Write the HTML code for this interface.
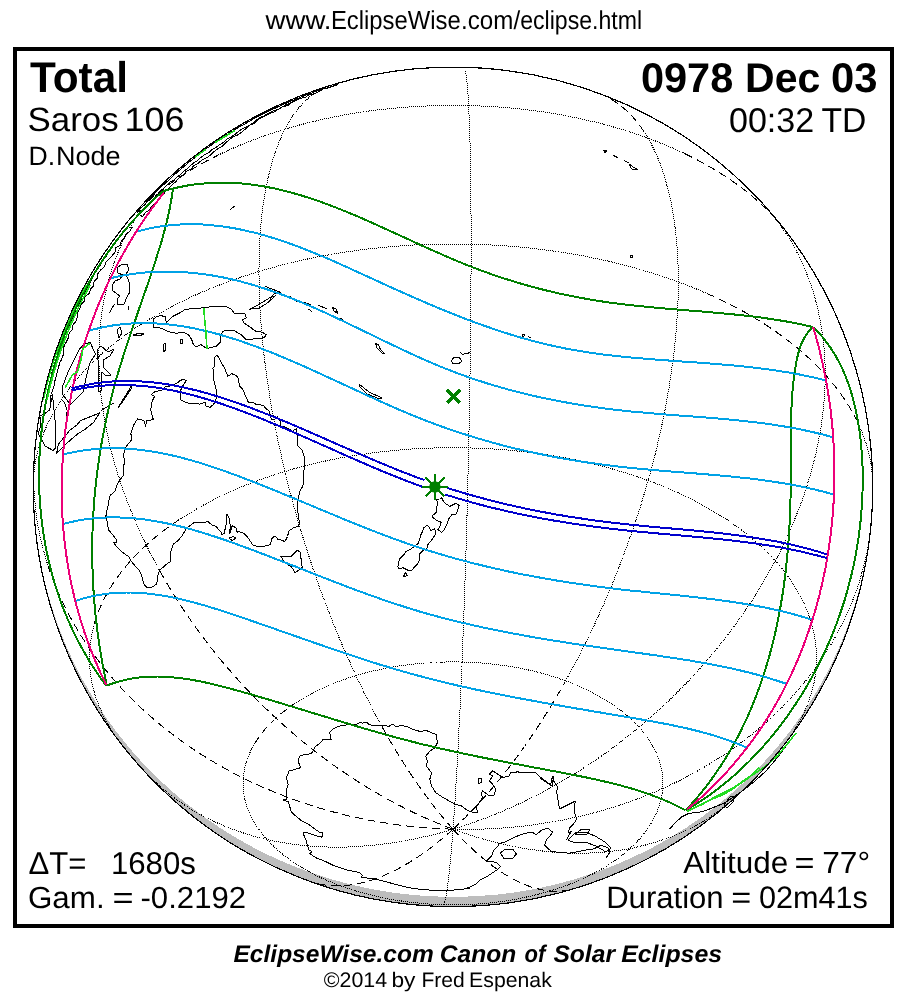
<!DOCTYPE html><html><head><meta charset="utf-8"><title>0978 Dec 03 Total Solar Eclipse</title><style>html,body{margin:0;padding:0;background:#fff;width:908px;height:1004px;overflow:hidden}svg{display:block}text{text-rendering:geometricPrecision}</style></head><body><svg width="908" height="1004" viewBox="0 0 908 1004" shape-rendering="crispEdges"><rect x="15" y="49" width="877" height="877" fill="none" stroke="#000" stroke-width="4"/>
<path d="M33.27,486.86 A419.72,419.72 0 0 0 872.71,486.86 A419.72,410.00 0 0 1 33.27,486.86 Z" fill="#bdbdbd"/>
<g fill="none" stroke="#000" stroke-width="1">
<path d="M444.0,904.6 L443.1,904.6 L442.1,904.6 L441.2,904.6 L440.3,904.5 L439.4,904.5 L438.5,904.5 L437.6,904.4 L436.7,904.4 L435.7,904.3 L434.8,904.3 L433.9,904.2 L433.0,904.2 L432.1,904.1 L431.2,904.1 L430.3,904.0 L429.4,904.0 L428.5,903.9 L427.6,903.9 L426.6,903.8 L425.7,903.7 L424.8,903.6 L423.9,903.6 L423.0,903.5 L422.1,903.4 L421.2,903.3 L420.3,903.3 L419.4,903.2 L418.5,903.1 L417.6,903.0 L416.7,902.9 L415.8,902.8 L414.9,902.7 L414.0,902.6 L413.1,902.5 L412.2,902.4 L411.3,902.3 L410.4,902.2 L409.5,902.1 L408.6,902.0 L407.7,901.9 L406.8,901.8 L405.9,901.7 L405.0,901.5 L404.1,901.4 L403.2,901.3 L402.4,901.2 L401.5,901.0 L400.6,900.9 L399.7,900.8 L398.8,900.6 L397.9,900.5 L397.0,900.4 L396.2,900.2 L395.3,900.1 L394.4,899.9 L393.5,899.8 L392.6,899.6 L391.8,899.5 L390.9,899.3 L390.0,899.2 L389.1,899.0 L388.3,898.8 L387.4,898.7 L386.5,898.5 L385.7,898.3 L384.8,898.2 L383.9,898.0 L383.1,897.8 L382.2,897.6 L381.3,897.5 L380.5,897.3 L379.6,897.1 L378.8,896.9 L377.9,896.7 L377.1,896.5 L376.2,896.3 L375.4,896.1 L374.5,895.9 L373.7,895.7 L372.8,895.5 L372.0,895.3 L371.1,895.1 L370.3,894.9 L369.4,894.7 L368.6,894.5 L367.8,894.3 L366.9,894.1 L366.1,893.8 L365.3,893.6 L364.4,893.4 L363.6,893.2 L362.8,893.0 L361.9,892.7 L361.1,892.5 L360.3,892.3 L359.5,892.0 L358.7,891.8 L357.8,891.5 L357.0,891.3 L356.2,891.1 L355.4,890.8 L354.6,890.6 L353.8,890.3 L353.0,890.1 L352.2,889.8 L351.4,889.6 L350.6,889.3 L349.8,889.0 L349.0,888.8 L348.2,888.5 L347.4,888.3 L346.6,888.0 L345.8,887.7 L345.0,887.4 L344.2,887.2 L343.5,886.9 L342.7,886.6 L341.9,886.3 L341.1,886.1" stroke-dasharray="1 1"/>
<path d="M341.1,886.1 L340.3,885.8" stroke-dasharray="8 5"/>
<path d="M340.3,885.8 L339.6,885.5 L338.8,885.2 L338.0,884.9 L337.3,884.6 L336.5,884.3 L335.8,884.0 L335.0,883.7 L334.2,883.4 L333.5,883.1 L332.7,882.8 L332.0,882.5 L331.2,882.2 L330.5,881.9 L329.7,881.6 L329.0,881.3 L328.3,881.0 L327.5,880.7 L326.8,880.3 L326.1,880.0 L325.3,879.7 L324.6,879.4 L323.9,879.1 L323.2,878.7 L322.5,878.4 L321.7,878.1 L321.0,877.7 L320.3,877.4 L319.6,877.1 L318.9,876.7 L318.2,876.4 L317.5,876.0 L316.8,875.7 L316.1,875.4 L315.4,875.0 L314.7,874.7 L314.0,874.3 L313.4,874.0 L312.7,873.6 L312.0,873.3 L311.3,872.9 L310.6,872.5 L310.0,872.2 L309.3,871.8 L308.6,871.5 L308.0,871.1 L307.3,870.7 L306.7,870.4 L306.0,870.0 L305.3,869.6 L304.7,869.2 L304.0,868.9 L303.4,868.5 L302.8,868.1 L302.1,867.7 L301.5,867.3 L300.9,867.0 L300.2,866.6 L299.6,866.2 L299.0,865.8 L298.4,865.4 L297.7,865.0 L297.1,864.6 L296.5,864.2 L295.9,863.8 L295.3,863.4 L294.7,863.0 L294.1,862.6 L293.5,862.2 L292.9,861.8 L292.3,861.4 L291.7,861.0 L291.1,860.6 L290.6,860.2 L290.0,859.8 L289.4,859.4 L288.8,859.0 L288.3,858.6 L287.7,858.1 L287.1,857.7 L286.6,857.3 L286.0,856.9 L285.5,856.5 L284.9,856.0 L284.4,855.6 L283.8,855.2 L283.3,854.8 L282.8,854.3 L282.2,853.9 L281.7,853.5 L281.2,853.0 L280.6,852.6 L280.1,852.2 L279.6,851.7 L279.1,851.3 L278.6,850.8 L278.1,850.4 L277.6,850.0 L277.1,849.5 L276.6,849.1 L276.1,848.6 L275.6,848.2 L275.1,847.7 L274.6,847.3 L274.1,846.8 L273.6,846.4 L273.2,845.9 L272.7,845.5 L272.2,845.0 L271.8,844.6 L271.3,844.1 L270.9,843.6 L270.4,843.2 L270.0,842.7 L269.5,842.3 L269.1,841.8 L268.6,841.3 L268.2,840.9 L267.8,840.4 L267.3,839.9 L266.9,839.5 L266.5,839.0 L266.1,838.5 L265.7,838.0 L265.2,837.6 L264.8,837.1 L264.4,836.6 L264.0,836.1 L263.6,835.7 L263.2,835.2 L262.9,834.7 L262.5,834.2 L262.1,833.7 L261.7,833.3 L261.3,832.8 L261.0,832.3 L260.6,831.8 L260.2,831.3 L259.9,830.8 L259.5,830.3 L259.2,829.9 L258.8,829.4 L258.5,828.9 L258.1,828.4 L257.8,827.9 L257.4,827.4 L257.1,826.9 L256.8,826.4 L256.5,825.9 L256.1,825.4 L255.8,824.9 L255.5,824.4 L255.2,823.9 L254.9,823.4 L254.6,822.9 L254.3,822.4 L254.0,821.9 L253.7,821.4 L253.4,820.9 L253.2,820.4 L252.9,819.9 L252.6,819.4 L252.3,818.9 L252.1,818.4 L251.8,817.9 L251.6,817.4 L251.3,816.9 L251.0,816.3 L250.8,815.8 L250.6,815.3 L250.3,814.8 L250.1,814.3 L249.8,813.8 L249.6,813.3 L249.4,812.8 L249.2,812.2 L249.0,811.7 L248.7,811.2 L248.5,810.7 L248.3,810.2 L248.1,809.7 L247.9,809.2 L247.7,808.6 L247.6,808.1 L247.4,807.6 L247.2,807.1 L247.0,806.6 L246.8,806.0 L246.7,805.5 L246.5,805.0 L246.3,804.5 L246.2,804.0 L246.0,803.4 L245.9,802.9 L245.7,802.4 L245.6,801.9 L245.5,801.3 L245.3,800.8 L245.2,800.3 L245.1,799.8 L244.9,799.2 L244.8,798.7 L244.7,798.2 L244.6,797.7 L244.5,797.1 L244.4,796.6 L244.3,796.1 L244.2,795.6 L244.1,795.0 L244.0,794.5 L243.9,794.0 L243.9,793.4 L243.8,792.9 L243.7,792.4 L243.7,791.9 L243.6,791.3 L243.5,790.8 L243.5,790.3 L243.4,789.7 L243.4,789.2 L243.3,788.7 L243.3,788.2 L243.3,787.6 L243.2,787.1 L243.2,786.6 L243.2,786.0 L243.2,785.5 L243.1,785.0 L243.1,784.4 L243.1,783.9 L243.1,783.4 L243.1,782.9 L243.1,782.3 L243.1,781.8 L243.2,781.3 L243.2,780.7 L243.2,780.2 L243.2,779.7 L243.3,779.1 L243.3,778.6" stroke-dasharray="1 1"/>
<path d="M243.3,778.6 L243.3,778.1" stroke-dasharray="8 5"/>
<path d="M243.3,778.1 L243.4,777.6 L243.4,777.0 L243.5,776.5 L243.5,776.0 L243.6,775.4 L243.6,774.9 L243.7,774.4 L243.8,773.9 L243.8,773.3 L243.9,772.8 L244.0,772.3 L244.1,771.7 L244.2,771.2 L244.3,770.7 L244.4,770.2 L244.5,769.6 L244.6,769.1 L244.7,768.6 L244.8,768.1 L244.9,767.5 L245.0,767.0 L245.2,766.5 L245.3,766.0 L245.4,765.4 L245.6,764.9 L245.7,764.4 L245.8,763.9 L246.0,763.3 L246.1,762.8 L246.3,762.3 L246.5,761.8 L246.6,761.3 L246.8,760.7 L247.0,760.2 L247.1,759.7 L247.3,759.2 L247.5,758.7 L247.7,758.1 L247.9,757.6 L248.1,757.1 L248.3,756.6 L248.5,756.1 L248.7,755.6 L248.9,755.0 L249.1,754.5 L249.3,754.0 L249.6,753.5 L249.8,753.0 L250.0,752.5 L250.2,752.0 L250.5,751.4 L250.7,750.9 L251.0,750.4 L251.2,749.9 L251.5,749.4 L251.7,748.9 L252.0,748.4 L252.3,747.9 L252.5,747.4 L252.8,746.9 L253.1,746.4 L253.4,745.9 L253.6,745.4 L253.9,744.8 L254.2,744.3 L254.5,743.8 L254.8,743.3" stroke-dasharray="1 1"/>
<path d="M254.8,743.3 L255.1,742.8 L255.4,742.3 L255.7,741.8 L256.1,741.3 L256.4,740.9 L256.7,740.4 L257.0,739.9 L257.3,739.4 L257.7,738.9 L258.0,738.4 L258.4,737.9 L258.7,737.4 L259.1,736.9 L259.4,736.4 L259.8,735.9 L260.1,735.4 L260.5,735.0 L260.8,734.5 L261.2,734.0 L261.6,733.5 L262.0,733.0 L262.3,732.5 L262.7,732.1 L263.1,731.6 L263.5,731.1 L263.9,730.6 L264.3,730.1 L264.7,729.7 L265.1,729.2 L265.5,728.7 L265.9,728.2 L266.4,727.8 L266.8,727.3 L267.2,726.8 L267.6,726.4 L268.1,725.9 L268.5,725.4 L268.9,725.0 L269.4,724.5 L269.8,724.0 L270.3,723.6 L270.7,723.1 L271.2,722.7 L271.6,722.2 L272.1,721.7 L272.6,721.3 L273.0,720.8 L273.5,720.4 L274.0,719.9 L274.5,719.5 L274.9,719.0 L275.4,718.6 L275.9,718.1 L276.4,717.7 L276.9,717.2 L277.4,716.8 L277.9,716.3 L278.4,715.9 L278.9,715.5 L279.4,715.0 L280.0,714.6 L280.5,714.2 L281.0,713.7 L281.5,713.3 L282.1,712.9 L282.6,712.4 L283.1,712.0 L283.7,711.6 L284.2,711.1 L284.8,710.7 L285.3,710.3 L285.9,709.9 L286.4,709.4 L287.0,709.0 L287.5,708.6 L288.1,708.2 L288.7,707.8 L289.2,707.4 L289.8,706.9 L290.4,706.5 L291.0,706.1 L291.6,705.7 L292.1,705.3 L292.7,704.9" stroke-dasharray="8 5"/>
<path d="M292.7,704.9 L293.3,704.5 L293.9,704.1 L294.5,703.7 L295.1,703.3 L295.7,702.9 L296.3,702.5 L296.9,702.1 L297.6,701.7 L298.2,701.3 L298.8,700.9 L299.4,700.5 L300.0,700.2 L300.7,699.8 L301.3,699.4 L301.9,699.0 L302.6,698.6 L303.2,698.2 L303.9,697.9 L304.5,697.5 L305.1,697.1 L305.8,696.7 L306.5,696.4 L307.1,696.0 L307.8,695.6 L308.4,695.3 L309.1,694.9 L309.8,694.5 L310.4,694.2 L311.1,693.8 L311.8,693.5 L312.5,693.1 L313.1,692.8 L313.8,692.4 L314.5,692.1 L315.2,691.7 L315.9,691.4 L316.6,691.0 L317.3,690.7 L318.0,690.3 L318.7,690.0 L319.4,689.7 L320.1,689.3 L320.8,689.0 L321.5,688.6 L322.2,688.3 L323.0,688.0 L323.7,687.7 L324.4,687.3 L325.1,687.0 L325.9,686.7 L326.6,686.4 L327.3,686.1 L328.1,685.7 L328.8,685.4 L329.5,685.1 L330.3,684.8 L331.0,684.5 L331.8,684.2 L332.5,683.9 L333.3,683.6 L334.0,683.3 L334.8,683.0 L335.5,682.7 L336.3,682.4 L337.0,682.1 L337.8,681.8 L338.6,681.5 L339.3,681.2 L340.1,680.9 L340.9,680.6 L341.7,680.4 L342.4,680.1 L343.2,679.8 L344.0,679.5 L344.8,679.3 L345.6,679.0 L346.4,678.7 L347.1,678.4 L347.9,678.2 L348.7,677.9 L349.5,677.7 L350.3,677.4 L351.1,677.1 L351.9,676.9 L352.7,676.6 L353.5,676.4 L354.3,676.1 L355.2,675.9 L356.0,675.6 L356.8,675.4 L357.6,675.1 L358.4,674.9 L359.2,674.7 L360.0,674.4 L360.9,674.2 L361.7,674.0 L362.5,673.7 L363.3,673.5 L364.2,673.3 L365.0,673.1 L365.8,672.8 L366.7,672.6 L367.5,672.4 L368.3,672.2 L369.2,672.0 L370.0,671.8 L370.9,671.6 L371.7,671.3 L372.6,671.1 L373.4,670.9 L374.2,670.7 L375.1,670.5 L375.9,670.3 L376.8,670.2 L377.7,670.0 L378.5,669.8 L379.4,669.6 L380.2,669.4 L381.1,669.2 L381.9,669.0 L382.8,668.9 L383.7,668.7 L384.5,668.5 L385.4,668.3 L386.3,668.2 L387.1,668.0 L388.0,667.8 L388.9,667.7 L389.8,667.5 L390.6,667.4 L391.5,667.2 L392.4,667.0 L393.3,666.9 L394.1,666.7 L395.0,666.6 L395.9,666.4 L396.8,666.3 L397.7,666.2 L398.5,666.0 L399.4,665.9 L400.3,665.8 L401.2,665.6 L402.1,665.5 L403.0,665.4 L403.9,665.2 L404.8,665.1 L405.6,665.0 L406.5,664.9 L407.4,664.8 L408.3,664.6 L409.2,664.5 L410.1,664.4 L411.0,664.3 L411.9,664.2 L412.8,664.1 L413.7,664.0 L414.6,663.9 L415.5,663.8 L416.4,663.7 L417.3,663.6 L418.2,663.5 L419.1,663.5 L420.0,663.4 L420.9,663.3 L421.8,663.2 L422.7,663.1 L423.6,663.1 L424.6,663.0 L425.5,662.9 L426.4,662.8 L427.3,662.8 L428.2,662.7 L429.1,662.7 L430.0,662.6 L430.9,662.5 L431.8,662.5 L432.7,662.4 L433.7,662.4 L434.6,662.3 L435.5,662.3 L436.4,662.2 L437.3,662.2 L438.2,662.2 L439.1,662.1 L440.0,662.1 L441.0,662.1 L441.9,662.0 L442.8,662.0 L443.7,662.0 L444.6,662.0 L445.5,661.9 L446.4,661.9 L447.4,661.9 L448.3,661.9 L449.2,661.9 L450.1,661.9 L451.0,661.9 L451.9,661.9 L452.9,661.9 L453.8,661.9 L454.7,661.9 L455.6,661.9 L456.5,661.9 L457.4,661.9 L458.3,661.9 L459.3,661.9 L460.2,661.9 L461.1,662.0 L462.0,662.0 L462.9,662.0 L463.8,662.0 L464.8,662.1 L465.7,662.1 L466.6,662.1 L467.5,662.2 L468.4,662.2 L469.3,662.2 L470.2,662.3 L471.1,662.3 L472.1,662.4 L473.0,662.4 L473.9,662.5 L474.8,662.5 L475.7,662.6 L476.6,662.6 L477.5,662.7 L478.4,662.8 L479.3,662.8 L480.2,662.9 L481.2,663.0 L482.1,663.0 L483.0,663.1 L483.9,663.2 L484.8,663.3 L485.7,663.4 L486.6,663.4 L487.5,663.5 L488.4,663.6 L489.3,663.7 L490.2,663.8 L491.1,663.9 L492.0,664.0 L492.9,664.1 L493.8,664.2 L494.7,664.3 L495.6,664.4 L496.5,664.5 L497.4,664.6 L498.3,664.7 L499.2,664.8 L500.1,665.0 L501.0,665.1 L501.8,665.2 L502.7,665.3 L503.6,665.5 L504.5,665.6 L505.4,665.7 L506.3,665.8 L507.2,666.0 L508.1,666.1 L508.9,666.3 L509.8,666.4 L510.7,666.6 L511.6,666.7 L512.5,666.8 L513.3,667.0 L514.2,667.2 L515.1,667.3 L516.0,667.5 L516.8,667.6 L517.7,667.8 L518.6,668.0 L519.4,668.1 L520.3,668.3 L521.2,668.5 L522.0,668.6 L522.9,668.8 L523.8,669.0 L524.6,669.2 L525.5,669.3 L526.4,669.5 L527.2,669.7 L528.1,669.9 L528.9,670.1 L529.8,670.3 L530.6,670.5 L531.5,670.7 L532.3,670.9 L533.2,671.1 L534.0,671.3 L534.9,671.5 L535.7,671.7 L536.5,671.9 L537.4,672.1 L538.2,672.3 L539.1,672.6 L539.9,672.8 L540.7,673.0 L541.6,673.2 L542.4,673.4 L543.2,673.7 L544.0,673.9 L544.9,674.1 L545.7,674.4 L546.5,674.6 L547.3,674.8 L548.1,675.1 L549.0,675.3 L549.8,675.6 L550.6,675.8 L551.4,676.0 L552.2,676.3 L553.0,676.5 L553.8,676.8 L554.6,677.1 L555.4,677.3 L556.2,677.6 L557.0,677.8 L557.8,678.1 L558.6,678.4 L559.4,678.6 L560.2,678.9 L561.0,679.2 L561.7,679.4 L562.5,679.7 L563.3,680.0 L564.1,680.3 L564.9,680.6 L565.6,680.8 L566.4,681.1 L567.2,681.4 L567.9,681.7 L568.7,682.0 L569.5,682.3 L570.2,682.6 L571.0,682.9 L571.7,683.2 L572.5,683.5 L573.2,683.8 L574.0,684.1 L574.7,684.4 L575.5,684.7 L576.2,685.0 L577.0,685.3 L577.7,685.6 L578.4,686.0 L579.2,686.3 L579.9,686.6 L580.6,686.9 L581.4,687.2 L582.1,687.6 L582.8,687.9 L583.5,688.2 L584.2,688.5 L585.0,688.9 L585.7,689.2 L586.4,689.6 L587.1,689.9 L587.8,690.2 L588.5,690.6 L589.2,690.9 L589.9,691.3 L590.6,691.6 L591.3,692.0 L591.9,692.3 L592.6,692.7 L593.3,693.0 L594.0,693.4 L594.7,693.7 L595.3,694.1 L596.0,694.4 L596.7,694.8 L597.3,695.2 L598.0,695.5 L598.7,695.9 L599.3,696.3 L600.0,696.6 L600.6,697.0 L601.3,697.4 L601.9,697.8 L602.6,698.1 L603.2,698.5 L603.9,698.9 L604.5,699.3 L605.1,699.7 L605.8,700.0 L606.4,700.4 L607.0,700.8 L607.6,701.2 L608.2,701.6 L608.9,702.0 L609.5,702.4 L610.1,702.8 L610.7,703.2 L611.3,703.6 L611.9,704.0 L612.5,704.4 L613.1,704.8 L613.7,705.2 L614.3,705.6 L614.8,706.0 L615.4,706.4 L616.0,706.8 L616.6,707.2 L617.1,707.6 L617.7,708.1 L618.3,708.5 L618.8,708.9 L619.4,709.3 L620.0,709.7 L620.5,710.2 L621.1,710.6 L621.6,711.0 L622.1,711.4 L622.7,711.9 L623.2,712.3 L623.8,712.7 L624.3,713.2 L624.8,713.6 L625.3,714.0 L625.9,714.5 L626.4,714.9 L626.9,715.3 L627.4,715.8 L627.9,716.2 L628.4,716.7 L628.9,717.1 L629.4,717.5 L629.9,718.0 L630.4,718.4 L630.9,718.9 L631.4,719.3 L631.9,719.8 L632.3,720.2 L632.8,720.7 L633.3,721.1 L633.7,721.6 L634.2,722.1 L634.7,722.5 L635.1,723.0 L635.6,723.4 L636.0,723.9 L636.5,724.4 L636.9,724.8 L637.4,725.3 L637.8,725.8 L638.2,726.2 L638.6,726.7 L639.1,727.2 L639.5,727.6 L639.9,728.1 L640.3,728.6 L640.7,729.1 L641.1,729.5 L641.6,730.0 L642.0,730.5 L642.3,731.0 L642.7,731.4 L643.1,731.9 L643.5,732.4 L643.9,732.9 L644.3,733.4 L644.7,733.8 L645.0,734.3 L645.4,734.8 L645.8,735.3 L646.1,735.8 L646.5,736.3 L646.8,736.8 L647.2,737.3 L647.5,737.7 L647.9,738.2 L648.2,738.7 L648.5,739.2 L648.9,739.7 L649.2,740.2 L649.5,740.7 L649.8,741.2 L650.1,741.7 L650.5,742.2 L650.8,742.7 L651.1,743.2 L651.4,743.7 L651.7,744.2 L652.0,744.7 L652.3,745.2 L652.5,745.7 L652.8,746.2 L653.1,746.7 L653.4,747.2 L653.6,747.7 L653.9,748.2 L654.2,748.7 L654.4,749.2 L654.7,749.8 L654.9,750.3 L655.2,750.8 L655.4,751.3 L655.7,751.8 L655.9,752.3 L656.1,752.8 L656.4,753.3 L656.6,753.9 L656.8,754.4 L657.0,754.9 L657.2,755.4 L657.4,755.9 L657.6,756.4 L657.8,756.9 L658.0,757.5 L658.2,758.0 L658.4,758.5 L658.6,759.0 L658.8,759.5 L659.0,760.1 L659.1,760.6 L659.3,761.1 L659.5,761.6 L659.6,762.1 L659.8,762.7 L659.9,763.2 L660.1,763.7 L660.2,764.2 L660.4,764.8 L660.5,765.3 L660.7,765.8 L660.8,766.3 L660.9,766.9 L661.0,767.4 L661.2,767.9 L661.3,768.4 L661.4,769.0 L661.5,769.5 L661.6,770.0 L661.7,770.5 L661.8,771.1 L661.9,771.6 L662.0,772.1 L662.0,772.6 L662.1,773.2 L662.2,773.7 L662.3,774.2 L662.3,774.8 L662.4,775.3 L662.5,775.8 L662.5,776.3 L662.6,776.9 L662.6,777.4 L662.6,777.9 L662.7,778.5 L662.7,779.0 L662.7,779.5 L662.8,780.0 L662.8,780.6 L662.8,781.1 L662.8,781.6 L662.8,782.2 L662.8,782.7 L662.8,783.2 L662.8,783.8 L662.8,784.3 L662.8,784.8 L662.8,785.3 L662.8,785.9 L662.8,786.4 L662.8,786.9 L662.7,787.5 L662.7,788.0 L662.7,788.5 L662.6,789.1 L662.6,789.6 L662.5,790.1 L662.5,790.6 L662.4,791.2 L662.3,791.7 L662.3,792.2 L662.2,792.8 L662.1,793.3 L662.1,793.8 L662.0,794.3 L661.9,794.9 L661.8,795.4 L661.7,795.9 L661.6,796.4 L661.5,797.0 L661.4,797.5 L661.3,798.0 L661.2,798.6 L661.1,799.1 L661.0,799.6 L660.8,800.1 L660.7,800.7 L660.6,801.2 L660.4,801.7 L660.3,802.2 L660.1,802.7 L660.0,803.3 L659.8,803.8 L659.7,804.3 L659.5,804.8 L659.4,805.4 L659.2,805.9 L659.0,806.4 L658.8,806.9 L658.7,807.4 L658.5,808.0 L658.3,808.5 L658.1,809.0 L657.9,809.5 L657.7,810.0 L657.5,810.5 L657.3,811.1 L657.1,811.6 L656.9,812.1 L656.6,812.6 L656.4,813.1 L656.2,813.6 L656.0,814.1 L655.7,814.7 L655.5,815.2 L655.3,815.7 L655.0,816.2 L654.8,816.7 L654.5,817.2 L654.2,817.7 L654.0,818.2 L653.7,818.7 L653.5,819.2 L653.2,819.7 L652.9,820.3 L652.6,820.8 L652.3,821.3 L652.0,821.8 L651.8,822.3 L651.5,822.8 L651.2,823.3 L650.9,823.8 L650.6,824.3 L650.2,824.8 L649.9,825.3 L649.6,825.8 L649.3,826.3 L649.0,826.8 L648.6,827.2 L648.3,827.7 L648.0,828.2 L647.6,828.7 L647.3,829.2 L646.9,829.7 L646.6,830.2 L646.2,830.7 L645.9,831.2 L645.5,831.7 L645.1,832.1 L644.8,832.6 L644.4,833.1 L644.0,833.6 L643.6,834.1 L643.2,834.6 L642.9,835.0 L642.5,835.5 L642.1,836.0 L641.7,836.5 L641.3,836.9 L640.9,837.4 L640.5,837.9 L640.0,838.4 L639.6,838.8 L639.2,839.3 L638.8,839.8 L638.3,840.2 L637.9,840.7 L637.5,841.2 L637.0,841.6 L636.6,842.1 L636.2,842.6 L635.7,843.0 L635.3,843.5 L634.8,844.0 L634.3,844.4 L633.9,844.9 L633.4,845.3 L632.9,845.8 L632.5,846.2 L632.0,846.7 L631.5,847.1 L631.0,847.6 L630.5,848.0 L630.1,848.5 L629.6,848.9 L629.1,849.4 L628.6,849.8 L628.1,850.3 L627.6,850.7 L627.0,851.1 L626.5,851.6 L626.0,852.0 L625.5,852.5 L625.0,852.9 L624.4,853.3 L623.9,853.8 L623.4,854.2 L622.9,854.6 L622.3,855.1 L621.8,855.5 L621.2,855.9 L620.7,856.3 L620.1,856.8 L619.6,857.2 L619.0,857.6 L618.4,858.0 L617.9,858.4 L617.3,858.8 L616.7,859.3 L616.2,859.7 L615.6,860.1 L615.0,860.5 L614.4,860.9 L613.8,861.3 L613.3,861.7 L612.7,862.1 L612.1,862.5 L611.5,862.9 L610.9,863.3 L610.3,863.7 L609.6,864.1 L609.0,864.5 L608.4,864.9 L607.8,865.3 L607.2,865.7 L606.6,866.1 L605.9,866.5 L605.3,866.8 L604.7,867.2 L604.0,867.6 L603.4,868.0 L602.8,868.4 L602.1,868.7 L601.5,869.1 L600.8,869.5 L600.2,869.9 L599.5,870.2 L598.9,870.6 L598.2,871.0 L597.5,871.3 L596.9,871.7 L596.2,872.1 L595.5,872.4 L594.9,872.8 L594.2,873.1 L593.5,873.5 L592.8,873.9 L592.2,874.2 L591.5,874.6 L590.8,874.9 L590.1,875.3 L589.4,875.6 L588.7,875.9 L588.0,876.3 L587.3,876.6 L586.6,877.0 L585.9,877.3 L585.2,877.6 L584.5,878.0 L583.7,878.3 L583.0,878.6 L582.3,879.0 L581.6,879.3 L580.9,879.6 L580.1,879.9 L579.4,880.2 L578.7,880.6 L577.9,880.9 L577.2,881.2 L576.5,881.5 L575.7,881.8 L575.0,882.1 L574.2,882.4 L573.5,882.7 L572.7,883.0 L572.0,883.3 L571.2,883.6 L570.5,883.9 L569.7,884.2 L568.9,884.5 L568.2,884.8 L567.4,885.1 L566.6,885.4 L565.9,885.7 L565.1,886.0 L564.3,886.3 L563.5,886.5 L562.8,886.8 L562.0,887.1 L561.2,887.4 L560.4,887.6 L559.6,887.9 L558.8,888.2 L558.0,888.4 L557.2,888.7 L556.4,889.0 L555.7,889.2 L554.9,889.5 L554.1,889.7 L553.2,890.0 L552.4,890.2 L551.6,890.5 L550.8,890.7" stroke-dasharray="1 1"/>
<path d="M550.8,890.7 L550.0,891.0" stroke-dasharray="8 5"/>
<path d="M550.0,891.0 L549.2,891.2 L548.4,891.5 L547.6,891.7 L546.8,892.0 L545.9,892.2 L545.1,892.4 L544.3,892.7 L543.5,892.9 L542.6,893.1 L541.8,893.3 L541.0,893.6 L540.1,893.8 L539.3,894.0 L538.5,894.2 L537.6,894.4 L536.8,894.6 L536.0,894.9 L535.1,895.1 L534.3,895.3 L533.4,895.5 L532.6,895.7 L531.7,895.9 L530.9,896.1 L530.0,896.3 L529.2,896.5 L528.3,896.7 L527.5,896.8 L526.6,897.0 L525.8,897.2 L524.9,897.4 L524.0,897.6 L523.2,897.8 L522.3,897.9 L521.4,898.1 L520.6,898.3 L519.7,898.4 L518.8,898.6 L518.0,898.8 L517.1,898.9 L516.2,899.1 L515.4,899.3 L514.5,899.4 L513.6,899.6 L512.7,899.7 L511.8,899.9 L511.0,900.0 L510.1,900.2 L509.2,900.3 L508.3,900.4 L507.4,900.6 L506.6,900.7 L505.7,900.9 L504.8,901.0 L503.9,901.1 L503.0,901.2 L502.1,901.4 L501.2,901.5 L500.3,901.6 L499.4,901.7 L498.5,901.9 L497.7,902.0 L496.8,902.1 L495.9,902.2 L495.0,902.3 L494.1,902.4 L493.2,902.5 L492.3,902.6 L491.4,902.7 L490.5,902.8 L489.6,902.9 L488.7,903.0 L487.8,903.1 L486.9,903.2 L486.0,903.2 L485.1,903.3 L484.1,903.4 L483.2,903.5 L482.3,903.6 L481.4,903.6 L480.5,903.7 L479.6,903.8 L478.7,903.8 L477.8,903.9 L476.9,904.0 L476.0,904.0 L475.1,904.1 L474.2,904.1 L473.2,904.2 L472.3,904.2 L471.4,904.3 L470.5,904.3 L469.6,904.4 L468.7,904.4 L467.8,904.4 L466.9,904.5 L465.9,904.5 L465.0,904.5 L464.1,904.6 L463.2,904.6 L462.3,904.6 L461.4,904.7 L460.5,904.7 L459.5,904.7 L458.6,904.7 L457.7,904.7 L456.8,904.7 L455.9,904.7 L455.0,904.7 L454.0,904.7 L453.1,904.7 L452.2,904.7 L451.3,904.7 L450.4,904.7 L449.5,904.7 L448.5,904.7 L447.6,904.7 L446.7,904.7 L445.8,904.7 L444.9,904.7 L444.0,904.6" stroke-dasharray="1 1"/>
<path d="M121.0,743.7 L120.4,742.9 L119.7,742.0 L119.1,741.2 L118.5,740.3 L117.9,739.5 L117.3,738.6 L116.7,737.8 L116.1,736.9 L115.5,736.1 L114.9,735.2 L114.3,734.4 L113.7,733.5 L113.2,732.7 L112.6,731.8 L112.1,730.9 L111.5,730.1 L111.0,729.2 L110.4,728.4 L109.9,727.5 L109.4,726.6 L108.9,725.8 L108.4,724.9 L107.9,724.0 L107.4,723.1 L106.9,722.3 L106.4,721.4 L105.9,720.5 L105.5,719.6 L105.0,718.8 L104.5,717.9 L104.1,717.0 L103.6,716.1 L103.2,715.2 L102.8,714.4 L102.4,713.5 L101.9,712.6 L101.5,711.7 L101.1,710.8 L100.7,709.9 L100.4,709.0 L100.0,708.1 L99.6,707.3 L99.2,706.4 L98.9,705.5 L98.5,704.6 L98.2,703.7 L97.8,702.8 L97.5,701.9 L97.2,701.0 L96.8,700.1 L96.5,699.2 L96.2,698.3 L95.9,697.4 L95.6,696.5 L95.3,695.6 L95.1,694.7 L94.8,693.8 L94.5,692.9 L94.3,692.0 L94.0,691.1 L93.8,690.1 L93.5,689.2 L93.3,688.3 L93.1,687.4 L92.9,686.5 L92.6,685.6 L92.4,684.7 L92.2,683.8 L92.0,682.9 L91.9,682.0 L91.7,681.0 L91.5,680.1 L91.4,679.2 L91.2,678.3 L91.0,677.4 L90.9,676.5 L90.8,675.6 L90.6,674.7 L90.5,673.7 L90.4,672.8 L90.3,671.9 L90.2,671.0 L90.1,670.1 L90.0,669.2 L89.9,668.2 L89.9,667.3 L89.8,666.4 L89.7,665.5 L89.7,664.6 L89.6,663.7 L89.6,662.7 L89.6,661.8 L89.5,660.9 L89.5,660.0 L89.5,659.1 L89.5,658.2 L89.5,657.2 L89.5,656.3 L89.5,655.4 L89.6,654.5 L89.6,653.6 L89.6,652.6 L89.7,651.7 L89.7,650.8 L89.8,649.9" stroke-dasharray="1 1"/>
<path d="M89.8,649.9 L89.8,649.0" stroke-dasharray="8 5"/>
<path d="M89.8,649.0 L89.9,648.1 L90.0,647.1 L90.1,646.2 L90.2,645.3 L90.3,644.4 L90.4,643.5 L90.5,642.6 L90.6,641.6 L90.7,640.7 L90.9,639.8 L91.0,638.9 L91.2,638.0 L91.3,637.1 L91.5,636.2 L91.6,635.3 L91.8,634.3 L92.0,633.4 L92.2,632.5 L92.4,631.6 L92.6,630.7 L92.8,629.8 L93.0,628.9 L93.2,628.0 L93.5,627.1 L93.7,626.2 L93.9,625.2 L94.2,624.3" stroke-dasharray="1 1"/>
<path d="M94.2,624.3 L94.4,623.4 L94.7,622.5 L95.0,621.6 L95.3,620.7 L95.5,619.8 L95.8,618.9 L96.1,618.0 L96.4,617.1 L96.8,616.2 L97.1,615.3 L97.4,614.4 L97.7,613.5 L98.1,612.6 L98.4,611.7 L98.8,610.8 L99.1,609.9 L99.5,609.0 L99.9,608.2 L100.2,607.3 L100.6,606.4 L101.0,605.5 L101.4,604.6 L101.8,603.7 L102.2,602.8 L102.7,601.9 L103.1,601.1 L103.5,600.2 L104.0,599.3 L104.4,598.4 L104.9,597.5 L105.3,596.6 L105.8,595.8 L106.3,594.9 L106.7,594.0 L107.2,593.1 L107.7,592.3 L108.2,591.4 L108.7,590.5 L109.2,589.7 L109.7,588.8 L110.3,587.9 L110.8,587.1 L111.3,586.2 L111.9,585.3 L112.4,584.5 L113.0,583.6 L113.6,582.8 L114.1,581.9 L114.7,581.1 L115.3,580.2 L115.9,579.3 L116.5,578.5 L117.1,577.6 L117.7,576.8 L118.3,576.0 L118.9,575.1 L119.6,574.3 L120.2,573.4 L120.8,572.6 L121.5,571.7 L122.1,570.9 L122.8,570.1 L123.5,569.2 L124.1,568.4 L124.8,567.6 L125.5,566.8 L126.2,565.9 L126.9,565.1 L127.6,564.3 L128.3,563.5 L129.0,562.6 L129.7,561.8 L130.5,561.0 L131.2,560.2 L131.9,559.4 L132.7,558.6 L133.4,557.8 L134.2,557.0 L135.0,556.2 L135.7,555.4 L136.5,554.6 L137.3,553.8 L138.1,553.0 L138.9,552.2 L139.7,551.4 L140.5,550.6 L141.3,549.8 L142.1,549.0 L142.9,548.2 L143.8,547.4 L144.6,546.7 L145.5,545.9 L146.3,545.1 L147.2,544.3 L148.0,543.6 L148.9,542.8 L149.8,542.0 L150.6,541.3 L151.5,540.5 L152.4,539.7 L153.3,539.0 L154.2,538.2 L155.1,537.5 L156.0,536.7 L156.9,536.0 L157.9,535.2 L158.8,534.5 L159.7,533.7 L160.7,533.0 L161.6,532.3 L162.6,531.5 L163.5,530.8 L164.5,530.1 L165.4,529.3 L166.4,528.6 L167.4,527.9 L168.4,527.2 L169.4,526.5 L170.4,525.8 L171.4,525.0 L172.4,524.3 L173.4,523.6 L174.4,522.9 L175.4,522.2 L176.4,521.5 L177.5,520.8 L178.5,520.1 L179.5,519.4 L180.6,518.7" stroke-dasharray="8 5"/>
<path d="M180.6,518.7 L181.6,518.1 L182.7,517.4 L183.8,516.7 L184.8,516.0 L185.9,515.3 L187.0,514.7 L188.1,514.0 L189.2,513.3 L190.3,512.7 L191.4,512.0 L192.5,511.3 L193.6,510.7 L194.7,510.0 L195.8,509.4 L196.9,508.7 L198.0,508.1 L199.2,507.4 L200.3,506.8 L201.5,506.2 L202.6,505.5 L203.8,504.9 L204.9,504.3 L206.1,503.7 L207.2,503.0 L208.4,502.4 L209.6,501.8 L210.8,501.2 L212.0,500.6 L213.1,500.0 L214.3,499.4 L215.5,498.8 L216.7,498.2 L218.0,497.6 L219.2,497.0 L220.4,496.4 L221.6,495.8 L222.8,495.2 L224.1,494.6 L225.3,494.1 L226.5,493.5 L227.8,492.9 L229.0,492.3 L230.3,491.8 L231.5,491.2 L232.8,490.7 L234.0,490.1 L235.3,489.6 L236.6,489.0 L237.9,488.5 L239.1,487.9 L240.4,487.4 L241.7,486.9 L243.0,486.3 L244.3,485.8 L245.6,485.3 L246.9,484.7 L248.2,484.2 L249.5,483.7 L250.8,483.2 L252.2,482.7 L253.5,482.2 L254.8,481.7 L256.2,481.2 L257.5,480.7 L258.8,480.2 L260.2,479.7 L261.5,479.2 L262.9,478.7 L264.2,478.3 L265.6,477.8 L266.9,477.3 L268.3,476.8 L269.7,476.4 L271.0,475.9 L272.4,475.5 L273.8,475.0 L275.2,474.6 L276.6,474.1 L277.9,473.7 L279.3,473.2 L280.7,472.8 L282.1,472.4 L283.5,471.9 L284.9,471.5 L286.3,471.1 L287.8,470.7 L289.2,470.2 L290.6,469.8 L292.0,469.4 L293.4,469.0 L294.9,468.6 L296.3,468.2 L297.7,467.8 L299.2,467.4 L300.6,467.1 L302.0,466.7 L303.5,466.3 L304.9,465.9 L306.4,465.5 L307.8,465.2 L309.3,464.8 L310.7,464.4 L312.2,464.1 L313.7,463.7 L315.1,463.4 L316.6,463.0 L318.1,462.7 L319.5,462.4 L321.0,462.0 L322.5,461.7 L324.0,461.4 L325.5,461.0 L327.0,460.7 L328.4,460.4 L329.9,460.1 L331.4,459.8 L332.9,459.5 L334.4,459.2 L335.9,458.9 L337.4,458.6 L338.9,458.3 L340.4,458.0 L341.9,457.7 L343.5,457.5 L345.0,457.2 L346.5,456.9 L348.0,456.6 L349.5,456.4 L351.0,456.1 L352.6,455.9 L354.1,455.6 L355.6,455.4 L357.2,455.1 L358.7,454.9 L360.2,454.6 L361.7,454.4 L363.3,454.2 L364.8,454.0 L366.4,453.7 L367.9,453.5 L369.4,453.3 L371.0,453.1 L372.5,452.9 L374.1,452.7 L375.6,452.5 L377.2,452.3 L378.7,452.1 L380.3,451.9 L381.8,451.7 L383.4,451.6 L385.0,451.4 L386.5,451.2 L388.1,451.1 L389.6,450.9 L391.2,450.7 L392.8,450.6 L394.3,450.4 L395.9,450.3 L397.5,450.1 L399.0,450.0 L400.6,449.9 L402.2,449.7 L403.7,449.6 L405.3,449.5 L406.9,449.4 L408.5,449.3 L410.0,449.1 L411.6,449.0 L413.2,448.9 L414.8,448.8 L416.3,448.7 L417.9,448.7 L419.5,448.6 L421.1,448.5 L422.7,448.4 L424.2,448.3 L425.8,448.3 L427.4,448.2 L429.0,448.1 L430.6,448.1 L432.1,448.0 L433.7,448.0 L435.3,447.9 L436.9,447.9 L438.5,447.8 L440.1,447.8 L441.7,447.8 L443.2,447.8 L444.8,447.7 L446.4,447.7 L448.0,447.7 L449.6,447.7 L451.2,447.7 L452.8,447.7 L454.3,447.7 L455.9,447.7 L457.5,447.7 L459.1,447.7 L460.7,447.7 L462.3,447.7 L463.9,447.8 L465.4,447.8 L467.0,447.8 L468.6,447.9 L470.2,447.9 L471.8,448.0 L473.4,448.0 L474.9,448.1 L476.5,448.1 L478.1,448.2 L479.7,448.2 L481.3,448.3 L482.9,448.4 L484.4,448.5 L486.0,448.5 L487.6,448.6 L489.2,448.7 L490.7,448.8 L492.3,448.9 L493.9,449.0 L495.5,449.1 L497.1,449.2 L498.6,449.3 L500.2,449.5 L501.8,449.6 L503.3,449.7 L504.9,449.8 L506.5,450.0 L508.0,450.1 L509.6,450.2 L511.2,450.4 L512.7,450.5 L514.3,450.7 L515.9,450.8 L517.4,451.0 L519.0,451.2 L520.6,451.3 L522.1,451.5 L523.7,451.7 L525.2,451.9 L526.8,452.1 L528.3,452.2 L529.9,452.4 L531.4,452.6 L533.0,452.8 L534.5,453.0 L536.1,453.2 L537.6,453.5 L539.2,453.7 L540.7,453.9 L542.2,454.1 L543.8,454.3 L545.3,454.6 L546.8,454.8 L548.4,455.0 L549.9,455.3 L551.4,455.5 L553.0,455.8 L554.5,456.0 L556.0,456.3 L557.5,456.6 L559.0,456.8 L560.6,457.1 L562.1,457.4 L563.6,457.6 L565.1,457.9 L566.6,458.2 L568.1,458.5 L569.6,458.8 L571.1,459.1 L572.6,459.4 L574.1,459.7 L575.6,460.0 L577.1,460.3 L578.6,460.6 L580.1,460.9 L581.5,461.3 L583.0,461.6 L584.5,461.9 L586.0,462.3 L587.5,462.6 L588.9,462.9 L590.4,463.3 L591.9,463.6 L593.3,464.0 L594.8,464.3 L596.3,464.7 L597.7,465.1 L599.2,465.4 L600.6,465.8 L602.1,466.2 L603.5,466.6 L605.0,466.9 L606.4,467.3 L607.8,467.7 L609.3,468.1 L610.7,468.5 L612.1,468.9 L613.5,469.3 L615.0,469.7 L616.4,470.1 L617.8,470.5 L619.2,471.0 L620.6,471.4 L622.0,471.8 L623.4,472.2 L624.8,472.7 L626.2,473.1 L627.6,473.5 L629.0,474.0 L630.4,474.4 L631.8,474.9 L633.2,475.3 L634.5,475.8 L635.9,476.2 L637.3,476.7 L638.6,477.2 L640.0,477.6 L641.4,478.1 L642.7,478.6 L644.1,479.1 L645.4,479.6 L646.8,480.1 L648.1,480.5 L649.4,481.0 L650.8,481.5 L652.1,482.0 L653.4,482.5 L654.7,483.0 L656.1,483.6 L657.4,484.1 L658.7,484.6 L660.0,485.1 L661.3,485.6 L662.6,486.2 L663.9,486.7 L665.2,487.2 L666.5,487.8 L667.7,488.3 L669.0,488.8 L670.3,489.4 L671.6,489.9 L672.8,490.5 L674.1,491.1 L675.3,491.6 L676.6,492.2 L677.8,492.7 L679.1,493.3 L680.3,493.9 L681.6,494.5 L682.8,495.0 L684.0,495.6 L685.2,496.2 L686.5,496.8 L687.7,497.4 L688.9,498.0 L690.1,498.6 L691.3,499.2 L692.5,499.8 L693.7,500.4 L694.9,501.0 L696.0,501.6 L697.2,502.2 L698.4,502.8 L699.6,503.5 L700.7,504.1 L701.9,504.7 L703.0,505.3 L704.2,506.0 L705.3,506.6 L706.5,507.3 L707.6,507.9 L708.7,508.5 L709.8,509.2 L711.0,509.8 L712.1,510.5 L713.2,511.1 L714.3,511.8 L715.4,512.5 L716.5,513.1 L717.6,513.8 L718.7,514.5 L719.7,515.1 L720.8,515.8 L721.9,516.5 L723.0,517.2 L724.0,517.9 L725.1,518.5 L726.1,519.2 L727.2,519.9 L728.2,520.6 L729.2,521.3 L730.3,522.0 L731.3,522.7 L732.3,523.4 L733.3,524.1 L734.3,524.8 L735.3,525.5 L736.3,526.3 L737.3,527.0 L738.3,527.7 L739.3,528.4 L740.3,529.1 L741.2,529.9 L742.2,530.6 L743.1,531.3 L744.1,532.1 L745.0,532.8 L746.0,533.5 L746.9,534.3 L747.8,535.0 L748.8,535.8 L749.7,536.5 L750.6,537.3 L751.5,538.0 L752.4,538.8 L753.3,539.5 L754.2,540.3 L755.1,541.0 L756.0,541.8 L756.8,542.6 L757.7,543.3 L758.6,544.1 L759.4,544.9 L760.3,545.7 L761.1,546.4 L762.0,547.2 L762.8,548.0 L763.6,548.8 L764.4,549.6 L765.3,550.4 L766.1,551.1 L766.9,551.9 L767.7,552.7 L768.5,553.5 L769.2,554.3 L770.0,555.1 L770.8,555.9 L771.6,556.7 L772.3,557.5 L773.1,558.3 L773.8,559.1 L774.6,560.0 L775.3,560.8 L776.0,561.6 L776.8,562.4 L777.5,563.2 L778.2,564.0 L778.9,564.9 L779.6,565.7 L780.3,566.5 L781.0,567.3 L781.6,568.2 L782.3,569.0 L783.0,569.8 L783.7,570.7 L784.3,571.5 L785.0,572.3 L785.6,573.2 L786.2,574.0 L786.9,574.9 L787.5,575.7 L788.1,576.5 L788.7,577.4 L789.3,578.2 L789.9,579.1 L790.5,579.9 L791.1,580.8 L791.7,581.7 L792.3,582.5 L792.8,583.4 L793.4,584.2 L793.9,585.1 L794.5,585.9 L795.0,586.8 L795.5,587.7 L796.1,588.5 L796.6,589.4 L797.1,590.3 L797.6,591.1 L798.1,592.0 L798.6,592.9 L799.1,593.8 L799.6,594.6 L800.1,595.5 L800.5,596.4 L801.0,597.3 L801.4,598.1 L801.9,599.0 L802.3,599.9 L802.8,600.8 L803.2,601.7 L803.6,602.6 L804.0,603.4 L804.4,604.3 L804.8,605.2 L805.2,606.1 L805.6,607.0 L806.0,607.9 L806.4,608.8 L806.7,609.7 L807.1,610.6 L807.5,611.5 L807.8,612.4 L808.2,613.3 L808.5,614.1 L808.8,615.0 L809.1,615.9 L809.4,616.8 L809.8,617.7 L810.1,618.6 L810.3,619.5 L810.6,620.4 L810.9,621.4 L811.2,622.3 L811.5,623.2 L811.7,624.1 L812.0,625.0 L812.2,625.9 L812.5,626.8 L812.7,627.7 L812.9,628.6 L813.1,629.5 L813.3,630.4 L813.5,631.3 L813.7,632.2 L813.9,633.2 L814.1,634.1 L814.3,635.0 L814.5,635.9 L814.6,636.8 L814.8,637.7 L814.9,638.6 L815.1,639.5 L815.2,640.5 L815.3,641.4 L815.5,642.3 L815.6,643.2 L815.7,644.1 L815.8,645.0 L815.9,646.0 L816.0,646.9 L816.0,647.8 L816.1,648.7 L816.2,649.6 L816.2,650.5 L816.3,651.5 L816.3,652.4 L816.4,653.3 L816.4,654.2 L816.4,655.1 L816.5,656.0 L816.5,657.0 L816.5,657.9 L816.5,658.8 L816.5,659.7 L816.5,660.6 L816.4,661.5 L816.4,662.5 L816.4,663.4 L816.3,664.3 L816.3,665.2 L816.2,666.1 L816.1,667.1 L816.1,668.0 L816.0,668.9 L815.9,669.8 L815.8,670.7 L815.7,671.6 L815.6,672.5 L815.5,673.5 L815.4,674.4 L815.2,675.3 L815.1,676.2 L815.0,677.1 L814.8,678.0 L814.7,679.0 L814.5,679.9 L814.3,680.8 L814.2,681.7 L814.0,682.6 L813.8,683.5 L813.6,684.4 L813.4,685.3 L813.2,686.2 L813.0,687.2 L812.8,688.1 L812.5,689.0 L812.3,689.9 L812.0,690.8 L811.8,691.7 L811.5,692.6 L811.3,693.5 L811.0,694.4 L810.7,695.3 L810.4,696.2 L810.1,697.1 L809.8,698.0 L809.5,698.9 L809.2,699.8 L808.9,700.7 L808.6,701.6 L808.3,702.5 L807.9,703.4 L807.6,704.3 L807.2,705.2 L806.9,706.1 L806.5,707.0 L806.1,707.9 L805.7,708.8 L805.4,709.7 L805.0,710.5 L804.6,711.4 L804.2,712.3 L803.7,713.2 L803.3,714.1 L802.9,715.0 L802.5,715.9 L802.0,716.7 L801.6,717.6 L801.1,718.5 L800.7,719.4 L800.2,720.3 L799.7,721.1 L799.2,722.0 L798.8,722.9 L798.3,723.8 L797.8,724.6 L797.3,725.5 L796.8,726.4 L796.2,727.2 L795.7,728.1 L795.2,729.0 L794.6,729.8 L794.1,730.7 L793.5,731.5 L793.0,732.4 L792.4,733.3 L791.8,734.1 L791.3,735.0 L790.7,735.8 L790.1,736.7 L789.5,737.5 L788.9,738.4 L788.3,739.2 L787.7,740.1 L787.1,740.9 L786.4,741.8 L785.8,742.6 L785.1,743.4" stroke-dasharray="1 1"/>
<path d="M33.3,486.0 L33.3,484.9 L33.3,483.8 L33.3,482.8 L33.4,481.7 L33.4,480.7 L33.5,479.6 L33.5,478.5 L33.6,477.5 L33.7,476.4 L33.7,475.4 L33.8,474.3 L33.9,473.2 L34.0,472.2 L34.2,471.1 L34.3,470.1 L34.4,469.0 L34.5,468.0 L34.7,466.9 L34.8,465.9 L35.0,464.8 L35.2,463.7 L35.4,462.7 L35.5,461.6 L35.7,460.6 L35.9,459.5 L36.1,458.5 L36.4,457.4 L36.6,456.4 L36.8,455.3 L37.1,454.3 L37.3,453.2 L37.6,452.2 L37.8,451.1 L38.1,450.1 L38.4,449.0 L38.7,448.0 L39.0,446.9 L39.3,445.9 L39.6,444.8 L39.9,443.8 L40.2,442.8 L40.6,441.7 L40.9,440.7 L41.3,439.6 L41.6,438.6 L42.0,437.6 L42.4,436.5 L42.8,435.5 L43.2,434.4 L43.6,433.4 L44.0,432.4 L44.4,431.3 L44.8,430.3 L45.2,429.3 L45.7,428.3 L46.1,427.2 L46.6,426.2 L47.0,425.2 L47.5,424.2 L48.0,423.1 L48.5,422.1 L49.0,421.1 L49.5,420.1 L50.0,419.0 L50.5,418.0 L51.0,417.0 L51.5,416.0 L52.1,415.0 L52.6,414.0 L53.2,413.0 L53.7,412.0 L54.3,411.0 L54.9,409.9 L55.5,408.9 L56.0,407.9 L56.6,406.9 L57.3,405.9 L57.9,404.9 L58.5,403.9 L59.1,402.9 L59.8,402.0 L60.4,401.0 L61.0,400.0 L61.7,399.0 L62.4,398.0 L63.0,397.0 L63.7,396.0 L64.4,395.0 L65.1,394.1 L65.8,393.1 L66.5,392.1 L67.2,391.1 L68.0,390.2 L68.7,389.2 L69.4,388.2 L70.2,387.2 L70.9,386.3 L71.7,385.3 L72.5,384.4 L73.3,383.4 L74.0,382.4 L74.8,381.5 L75.6,380.5 L76.4,379.6 L77.2,378.6 L78.1,377.7 L78.9,376.7 L79.7,375.8 L80.6,374.9 L81.4,373.9 L82.3,373.0 L83.1,372.0 L84.0,371.1 L84.9,370.2 L85.8,369.2 L86.7,368.3 L87.5,367.4 L88.5,366.5 L89.4,365.6 L90.3,364.6 L91.2,363.7 L92.1,362.8 L93.1,361.9 L94.0,361.0 L95.0,360.1 L95.9,359.2 L96.9,358.3 L97.9,357.4 L98.9,356.5 L99.8,355.6 L100.8,354.7 L101.8,353.8 L102.8,352.9 L103.9,352.1 L104.9,351.2 L105.9,350.3 L106.9,349.4 L108.0,348.6 L109.0,347.7 L110.1,346.8 L111.1,345.9 L112.2,345.1 L113.3,344.2 L114.3,343.4 L115.4,342.5 L116.5,341.7 L117.6,340.8 L118.7,340.0 L119.8,339.1 L121.0,338.3 L122.1,337.5 L123.2,336.6 L124.3,335.8 L125.5,335.0 L126.6,334.1 L127.8,333.3 L128.9,332.5 L130.1,331.7 L131.3,330.9 L132.5,330.1 L133.7,329.2 L134.8,328.4 L136.0,327.6 L137.2,326.8 L138.5,326.0 L139.7,325.2 L140.9,324.5 L142.1,323.7 L143.4,322.9 L144.6,322.1 L145.8,321.3 L147.1,320.6 L148.3,319.8 L149.6,319.0 L150.9,318.3 L152.2,317.5 L153.4,316.7 L154.7,316.0 L156.0,315.2 L157.3,314.5 L158.6,313.7 L159.9,313.0 L161.2,312.3 L162.5,311.5 L163.9,310.8 L165.2,310.1 L166.5,309.3 L167.9,308.6 L169.2,307.9 L170.6,307.2 L171.9,306.5 L173.3,305.8 L174.7,305.1 L176.0,304.4 L177.4,303.7 L178.8,303.0 L180.2,302.3 L181.6,301.6 L183.0,300.9 L184.4,300.2 L185.8,299.5 L187.2,298.9 L188.6,298.2 L190.1,297.5 L191.5,296.9 L192.9,296.2 L194.4,295.6 L195.8,294.9 L197.3,294.3 L198.7,293.6 L200.2,293.0 L201.6,292.3 L203.1,291.7 L204.6,291.1 L206.1,290.5 L207.5,289.8 L209.0,289.2 L210.5,288.6 L212.0,288.0 L213.5,287.4 L215.0,286.8 L216.5,286.2 L218.1,285.6 L219.6,285.0 L221.1,284.4 L222.6,283.8 L224.2,283.3 L225.7,282.7 L227.2,282.1 L228.8,281.5 L230.3,281.0 L231.9,280.4 L233.5,279.9 L235.0,279.3 L236.6,278.8 L238.2,278.2 L239.7,277.7 L241.3,277.1 L242.9,276.6 L244.5,276.1 L246.1,275.5 L247.7,275.0 L249.3,274.5 L250.9,274.0 L252.5,273.5 L254.1,273.0 L255.7,272.5 L257.3,272.0 L258.9,271.5 L260.6,271.0 L262.2,270.5 L263.8,270.0 L265.5,269.6 L267.1,269.1 L268.7,268.6 L270.4,268.2 L272.0,267.7 L273.7,267.3 L275.4,266.8 L277.0,266.4 L278.7,265.9 L280.4,265.5 L282.0,265.0 L283.7,264.6 L285.4,264.2 L287.1,263.8 L288.7,263.4 L290.4,262.9 L292.1,262.5 L293.8,262.1 L295.5,261.7 L297.2,261.3 L298.9,260.9 L300.6,260.6 L302.3,260.2 L304.0,259.8 L305.7,259.4 L307.5,259.0 L309.2,258.7 L310.9,258.3 L312.6,258.0 L314.4,257.6 L316.1,257.3 L317.8,256.9 L319.6,256.6 L321.3,256.2 L323.0,255.9 L324.8,255.6 L326.5,255.3 L328.3,255.0 L330.0,254.6 L331.8,254.3 L333.5,254.0 L335.3,253.7 L337.0,253.4 L338.8,253.1 L340.6,252.9 L342.3,252.6 L344.1,252.3 L345.9,252.0 L347.6,251.8 L349.4,251.5 L351.2,251.2 L353.0,251.0 L354.7,250.7 L356.5,250.5 L358.3,250.2 L360.1,250.0 L361.9,249.8 L363.7,249.5 L365.5,249.3 L367.2,249.1 L369.0,248.9 L370.8,248.7 L372.6,248.5 L374.4,248.3 L376.2,248.1 L378.0,247.9 L379.8,247.7 L381.6,247.5 L383.4,247.3 L385.3,247.2 L387.1,247.0 L388.9,246.8 L390.7,246.7 L392.5,246.5 L394.3,246.4 L396.1,246.2 L397.9,246.1 L399.7,245.9 L401.6,245.8 L403.4,245.7 L405.2,245.6 L407.0,245.4 L408.8,245.3 L410.7,245.2 L412.5,245.1 L414.3,245.0 L416.1,244.9 L418.0,244.8 L419.8,244.7 L421.6,244.7 L423.4,244.6 L425.3,244.5 L427.1,244.4 L428.9,244.4 L430.7,244.3 L432.6,244.3 L434.4,244.2 L436.2,244.2 L438.1,244.1 L439.9,244.1 L441.7,244.1 L443.6,244.0 L445.4,244.0 L447.2,244.0 L449.1,244.0 L450.9,244.0 L452.7,244.0 L454.5,244.0 L456.4,244.0 L458.2,244.0 L460.0,244.0 L461.9,244.0 L463.7,244.1 L465.5,244.1 L467.4,244.1 L469.2,244.2 L471.0,244.2 L472.9,244.3 L474.7,244.3 L476.5,244.4 L478.3,244.4 L480.2,244.5 L482.0,244.6 L483.8,244.6 L485.6,244.7 L487.5,244.8 L489.3,244.9 L491.1,245.0 L492.9,245.1 L494.8,245.2 L496.6,245.3 L498.4,245.4 L500.2,245.5 L502.0,245.6 L503.9,245.8 L505.7,245.9 L507.5,246.0 L509.3,246.2 L511.1,246.3 L512.9,246.5 L514.8,246.6 L516.6,246.8 L518.4,246.9 L520.2,247.1 L522.0,247.3 L523.8,247.5 L525.6,247.6 L527.4,247.8 L529.2,248.0 L531.0,248.2 L532.8,248.4 L534.6,248.6 L536.4,248.8 L538.2,249.0 L540.0,249.3 L541.8,249.5 L543.6,249.7 L545.4,249.9 L547.1,250.2 L548.9,250.4 L550.7,250.7 L552.5,250.9 L554.3,251.2 L556.0,251.4 L557.8,251.7 L559.6,251.9 L561.4,252.2 L563.1,252.5 L564.9,252.8 L566.7,253.1 L568.4,253.3 L570.2,253.6 L571.9,253.9 L573.7,254.2 L575.4,254.5 L577.2,254.9 L578.9,255.2 L580.7,255.5 L582.4,255.8 L584.2,256.1 L585.9,256.5 L587.6,256.8 L589.4,257.2 L591.1,257.5 L592.8,257.9 L594.6,258.2 L596.3,258.6 L598.0,258.9 L599.7,259.3 L601.4,259.7 L603.1,260.1 L604.9,260.4 L606.6,260.8 L608.3,261.2 L610.0,261.6 L611.7,262.0 L613.4,262.4 L615.0,262.8 L616.7,263.2 L618.4,263.6 L620.1,264.1 L621.8,264.5 L623.5,264.9 L625.1,265.3 L626.8,265.8 L628.5,266.2 L630.1,266.7 L631.8,267.1 L633.4,267.6 L635.1,268.0 L636.7,268.5 L638.4,269.0 L640.0,269.4 L641.7,269.9 L643.3,270.4 L644.9,270.9 L646.6,271.4 L648.2,271.8 L649.8,272.3 L651.4,272.8 L653.0,273.3 L654.6,273.8 L656.2,274.4 L657.8,274.9 L659.4,275.4 L661.0,275.9 L662.6,276.4 L664.2,277.0 L665.8,277.5 L667.4,278.0 L668.9,278.6 L670.5,279.1 L672.1,279.7 L673.6,280.2 L675.2,280.8 L676.7,281.4 L678.3,281.9 L679.8,282.5 L681.4,283.1 L682.9,283.7 L684.4,284.2 L685.9,284.8 L687.5,285.4 L689.0,286.0 L690.5,286.6 L692.0,287.2 L693.5,287.8 L695.0,288.4 L696.5,289.0 L698.0,289.7 L699.5,290.3 L701.0,290.9 L702.4,291.5 L703.9,292.2 L705.4,292.8 L706.8,293.4" stroke-dasharray="1 1"/>
<path d="M706.8,293.4 L708.3,294.1 L709.7,294.7 L711.2,295.4 L712.6,296.0 L714.1,296.7 L715.5,297.3 L716.9,298.0 L718.3,298.7 L719.8,299.3 L721.2,300.0 L722.6,300.7 L724.0,301.4 L725.4,302.1 L726.8,302.8 L728.1,303.5 L729.5,304.1 L730.9,304.8 L732.3,305.6 L733.6,306.3 L735.0,307.0 L736.3,307.7 L737.7,308.4 L739.0,309.1 L740.4,309.8 L741.7,310.6 L743.0,311.3 L744.4,312.0 L745.7,312.8 L747.0,313.5 L748.3,314.3 L749.6,315.0 L750.9,315.8 L752.2,316.5 L753.4,317.3 L754.7,318.0 L756.0,318.8 L757.3,319.6 L758.5,320.3 L759.8,321.1 L761.0,321.9 L762.3,322.7 L763.5,323.4 L764.7,324.2 L765.9,325.0 L767.2,325.8 L768.4,326.6 L769.6,327.4 L770.8,328.2 L772.0,329.0 L773.2,329.8 L774.3,330.6 L775.5,331.4 L776.7,332.2 L777.8,333.1 L779.0,333.9 L780.2,334.7 L781.3,335.5 L782.4,336.4 L783.6,337.2 L784.7,338.0 L785.8,338.9 L786.9,339.7 L788.0,340.6 L789.1,341.4 L790.2,342.3 L791.3,343.1 L792.4,344.0 L793.5,344.8 L794.5,345.7 L795.6,346.6 L796.6,347.4 L797.7,348.3 L798.7,349.2 L799.8,350.0 L800.8,350.9 L801.8,351.8 L802.8,352.7 L803.8,353.6 L804.8,354.4 L805.8,355.3 L806.8,356.2 L807.8,357.1 L808.8,358.0 L809.8,358.9 L810.7,359.8 L811.7,360.7 L812.6,361.6 L813.6,362.5 L814.5,363.5 L815.4,364.4 L816.3,365.3 L817.3,366.2 L818.2,367.1 L819.1,368.0 L820.0,369.0 L820.8,369.9 L821.7,370.8 L822.6,371.8 L823.5,372.7 L824.3,373.6 L825.2,374.6 L826.0,375.5 L826.8,376.5 L827.7,377.4 L828.5,378.3 L829.3,379.3 L830.1,380.2 L830.9,381.2 L831.7,382.2 L832.5,383.1 L833.3,384.1 L834.0,385.0 L834.8,386.0 L835.6,387.0 L836.3,387.9 L837.1,388.9 L837.8,389.9 L838.5,390.8 L839.2,391.8 L839.9,392.8 L840.7,393.8 L841.4,394.7 L842.0,395.7 L842.7,396.7 L843.4,397.7 L844.1,398.7 L844.7,399.7 L845.4,400.7 L846.0,401.7 L846.7,402.6 L847.3,403.6 L847.9,404.6 L848.5,405.6 L849.2,406.6 L849.8,407.6 L850.3,408.6 L850.9,409.6 L851.5,410.6 L852.1,411.7 L852.6,412.7 L853.2,413.7 L853.7,414.7 L854.3,415.7 L854.8,416.7 L855.3,417.7" stroke-dasharray="8 5"/>
<path d="M855.3,417.7 L855.9,418.7 L856.4,419.8 L856.9,420.8 L857.4,421.8 L857.9,422.8 L858.3,423.8 L858.8,424.9 L859.3,425.9 L859.7,426.9 L860.2,427.9 L860.6,429.0 L861.0,430.0 L861.5,431.0 L861.9,432.1 L862.3,433.1 L862.7,434.1 L863.1,435.2 L863.5,436.2 L863.9,437.2 L864.2,438.3 L864.6,439.3 L864.9,440.4 L865.3,441.4 L865.6,442.4 L866.0,443.5 L866.3,444.5 L866.6,445.6 L866.9,446.6 L867.2,447.7 L867.5,448.7 L867.8,449.8 L868.1,450.8 L868.3,451.9 L868.6,452.9 L868.8,454.0 L869.1,455.0 L869.3,456.1 L869.5,457.1 L869.8,458.2 L870.0,459.2 L870.2,460.3 L870.4,461.3 L870.6,462.4 L870.8,463.4 L870.9,464.5 L871.1,465.5 L871.2,466.6 L871.4,467.6 L871.5,468.7 L871.7,469.8 L871.8,470.8 L871.9,471.9 L872.0,472.9 L872.1,474.0 L872.2,475.0 L872.3,476.1 L872.4,477.2 L872.4,478.2 L872.5,479.3 L872.6,480.3 L872.6,481.4 L872.6,482.5 L872.7,483.5 L872.7,484.6 L872.7,485.6 L872.7,486.7" stroke-dasharray="1 1"/>
<path d="M121.5,229.4 L122.1,228.6 L122.8,227.8 L123.5,226.9 L124.1,226.1 L124.8,225.3 L125.5,224.4 L126.2,223.6 L126.9,222.8 L127.6,222.0 L128.3,221.2 L129.0,220.3 L129.7,219.5 L130.5,218.7 L131.2,217.9 L131.9,217.1 L132.7,216.3 L133.4,215.5 L134.2,214.7 L135.0,213.9 L135.7,213.0 L136.5,212.2 L137.3,211.5 L138.1,210.7 L138.9,209.9 L139.7,209.1 L140.5,208.3 L141.3,207.5 L142.1,206.7 L142.9,205.9 L143.8,205.1 L144.6,204.4 L145.5,203.6 L146.3,202.8 L147.2,202.0 L148.0,201.3 L148.9,200.5 L149.8,199.7 L150.6,199.0 L151.5,198.2 L152.4,197.4 L153.3,196.7 L154.2,195.9 L155.1,195.2 L156.0,194.4 L156.9,193.7 L157.9,192.9 L158.8,192.2 L159.7,191.4 L160.7,190.7 L161.6,190.0 L162.6,189.2 L163.5,188.5 L164.5,187.8 L165.4,187.0 L166.4,186.3 L167.4,185.6 L168.4,184.9 L169.4,184.2 L170.4,183.4 L171.4,182.7 L172.4,182.0 L173.4,181.3 L174.4,180.6 L175.4,179.9 L176.4,179.2 L177.5,178.5 L178.5,177.8 L179.5,177.1 L180.6,176.4 L181.6,175.7 L182.7,175.1 L183.8,174.4 L184.8,173.7 L185.9,173.0 L187.0,172.4 L188.1,171.7 L189.2,171.0 L190.3,170.4 L191.4,169.7 L192.5,169.0 L193.6,168.4 L194.7,167.7 L195.8,167.1 L196.9,166.4 L198.0,165.8 L199.2,165.1 L200.3,164.5 L201.5,163.9 L202.6,163.2 L203.8,162.6 L204.9,162.0 L206.1,161.3 L207.2,160.7 L208.4,160.1 L209.6,159.5 L210.8,158.9 L212.0,158.3 L213.1,157.7 L214.3,157.1 L215.5,156.5 L216.7,155.9" stroke-dasharray="8 5"/>
<path d="M216.7,155.9 L218.0,155.3 L219.2,154.7 L220.4,154.1 L221.6,153.5 L222.8,152.9 L224.1,152.3 L225.3,151.8 L226.5,151.2 L227.8,150.6 L229.0,150.0 L230.3,149.5 L231.5,148.9 L232.8,148.4 L234.0,147.8 L235.3,147.3 L236.6,146.7 L237.9,146.2 L239.1,145.6 L240.4,145.1 L241.7,144.5 L243.0,144.0 L244.3,143.5 L245.6,143.0 L246.9,142.4 L248.2,141.9 L249.5,141.4 L250.8,140.9 L252.2,140.4 L253.5,139.9 L254.8,139.4 L256.2,138.9 L257.5,138.4 L258.8,137.9 L260.2,137.4 L261.5,136.9 L262.9,136.4 L264.2,136.0 L265.6,135.5 L266.9,135.0 L268.3,134.5 L269.7,134.1 L271.0,133.6 L272.4,133.2 L273.8,132.7 L275.2,132.3 L276.6,131.8 L277.9,131.4 L279.3,130.9 L280.7,130.5 L282.1,130.1 L283.5,129.6 L284.9,129.2 L286.3,128.8 L287.8,128.4 L289.2,127.9 L290.6,127.5 L292.0,127.1 L293.4,126.7 L294.9,126.3 L296.3,125.9 L297.7,125.5 L299.2,125.1 L300.6,124.7 L302.0,124.4 L303.5,124.0 L304.9,123.6 L306.4,123.2 L307.8,122.9 L309.3,122.5 L310.7,122.1 L312.2,121.8 L313.7,121.4 L315.1,121.1 L316.6,120.7 L318.1,120.4 L319.5,120.1 L321.0,119.7 L322.5,119.4 L324.0,119.1 L325.5,118.7 L327.0,118.4 L328.4,118.1 L329.9,117.8 L331.4,117.5 L332.9,117.2 L334.4,116.9 L335.9,116.6 L337.4,116.3 L338.9,116.0 L340.4,115.7 L341.9,115.4 L343.5,115.1 L345.0,114.9 L346.5,114.6 L348.0,114.3 L349.5,114.1 L351.0,113.8 L352.6,113.6 L354.1,113.3 L355.6,113.1 L357.2,112.8 L358.7,112.6 L360.2,112.3 L361.7,112.1 L363.3,111.9 L364.8,111.6 L366.4,111.4 L367.9,111.2 L369.4,111.0 L371.0,110.8 L372.5,110.6 L374.1,110.4 L375.6,110.2 L377.2,110.0 L378.7,109.8 L380.3,109.6 L381.8,109.4 L383.4,109.3 L385.0,109.1 L386.5,108.9 L388.1,108.7 L389.6,108.6 L391.2,108.4 L392.8,108.3 L394.3,108.1 L395.9,108.0 L397.5,107.8 L399.0,107.7 L400.6,107.6 L402.2,107.4 L403.7,107.3 L405.3,107.2 L406.9,107.1 L408.5,107.0 L410.0,106.8 L411.6,106.7 L413.2,106.6 L414.8,106.5 L416.3,106.4 L417.9,106.3 L419.5,106.3 L421.1,106.2 L422.7,106.1 L424.2,106.0 L425.8,106.0 L427.4,105.9 L429.0,105.8 L430.6,105.8 L432.1,105.7 L433.7,105.7 L435.3,105.6 L436.9,105.6 L438.5,105.5 L440.1,105.5 L441.7,105.5 L443.2,105.4 L444.8,105.4 L446.4,105.4 L448.0,105.4 L449.6,105.4 L451.2,105.4 L452.8,105.4 L454.3,105.4 L455.9,105.4 L457.5,105.4 L459.1,105.4 L460.7,105.4 L462.3,105.4 L463.9,105.5 L465.4,105.5 L467.0,105.5 L468.6,105.6 L470.2,105.6 L471.8,105.6 L473.4,105.7 L474.9,105.8 L476.5,105.8 L478.1,105.9 L479.7,105.9 L481.3,106.0 L482.9,106.1 L484.4,106.2 L486.0,106.2 L487.6,106.3 L489.2,106.4 L490.7,106.5 L492.3,106.6 L493.9,106.7 L495.5,106.8 L497.1,106.9 L498.6,107.0 L500.2,107.1 L501.8,107.3 L503.3,107.4 L504.9,107.5 L506.5,107.7 L508.0,107.8 L509.6,107.9 L511.2,108.1 L512.7,108.2 L514.3,108.4 L515.9,108.5 L517.4,108.7 L519.0,108.9 L520.6,109.0 L522.1,109.2 L523.7,109.4 L525.2,109.6 L526.8,109.7 L528.3,109.9 L529.9,110.1 L531.4,110.3 L533.0,110.5 L534.5,110.7 L536.1,110.9 L537.6,111.1 L539.2,111.4 L540.7,111.6 L542.2,111.8 L543.8,112.0 L545.3,112.3 L546.8,112.5 L548.4,112.7 L549.9,113.0 L551.4,113.2 L553.0,113.5 L554.5,113.7 L556.0,114.0 L557.5,114.3 L559.0,114.5 L560.6,114.8 L562.1,115.1 L563.6,115.3 L565.1,115.6 L566.6,115.9 L568.1,116.2 L569.6,116.5 L571.1,116.8 L572.6,117.1 L574.1,117.4 L575.6,117.7 L577.1,118.0 L578.6,118.3 L580.1,118.6 L581.5,119.0 L583.0,119.3 L584.5,119.6 L586.0,120.0 L587.5,120.3 L588.9,120.6 L590.4,121.0 L591.9,121.3 L593.3,121.7 L594.8,122.0 L596.3,122.4 L597.7,122.8 L599.2,123.1 L600.6,123.5 L602.1,123.9 L603.5,124.2 L605.0,124.6 L606.4,125.0 L607.8,125.4 L609.3,125.8 L610.7,126.2 L612.1,126.6 L613.5,127.0 L615.0,127.4 L616.4,127.8 L617.8,128.2 L619.2,128.6 L620.6,129.1 L622.0,129.5 L623.4,129.9 L624.8,130.4 L626.2,130.8 L627.6,131.2 L629.0,131.7 L630.4,132.1 L631.8,132.6 L633.2,133.0 L634.5,133.5 L635.9,133.9 L637.3,134.4 L638.6,134.9 L640.0,135.3 L641.4,135.8 L642.7,136.3 L644.1,136.8 L645.4,137.3 L646.8,137.7 L648.1,138.2 L649.4,138.7 L650.8,139.2 L652.1,139.7 L653.4,140.2 L654.7,140.7 L656.1,141.2 L657.4,141.8 L658.7,142.3 L660.0,142.8 L661.3,143.3 L662.6,143.9 L663.9,144.4 L665.2,144.9 L666.5,145.5 L667.7,146.0 L669.0,146.5 L670.3,147.1 L671.6,147.6 L672.8,148.2 L674.1,148.7 L675.3,149.3 L676.6,149.9 L677.8,150.4 L679.1,151.0 L680.3,151.6 L681.6,152.2 L682.8,152.7 L684.0,153.3 L685.2,153.9" stroke-dasharray="1 1"/>
<path d="M685.2,153.9 L686.5,154.5 L687.7,155.1 L688.9,155.7 L690.1,156.3 L691.3,156.9 L692.5,157.5 L693.7,158.1 L694.9,158.7 L696.0,159.3 L697.2,159.9 L698.4,160.5 L699.6,161.2 L700.7,161.8 L701.9,162.4 L703.0,163.0 L704.2,163.7 L705.3,164.3 L706.5,164.9 L707.6,165.6 L708.7,166.2 L709.8,166.9 L711.0,167.5 L712.1,168.2 L713.2,168.8 L714.3,169.5 L715.4,170.2 L716.5,170.8 L717.6,171.5 L718.7,172.2 L719.7,172.8 L720.8,173.5 L721.9,174.2 L723.0,174.9 L724.0,175.5 L725.1,176.2 L726.1,176.9 L727.2,177.6 L728.2,178.3 L729.2,179.0 L730.3,179.7 L731.3,180.4 L732.3,181.1 L733.3,181.8 L734.3,182.5 L735.3,183.2 L736.3,183.9 L737.3,184.7 L738.3,185.4 L739.3,186.1 L740.3,186.8 L741.2,187.6 L742.2,188.3 L743.1,189.0 L744.1,189.7 L745.0,190.5 L746.0,191.2 L746.9,192.0 L747.8,192.7 L748.8,193.4 L749.7,194.2 L750.6,194.9 L751.5,195.7 L752.4,196.5 L753.3,197.2 L754.2,198.0 L755.1,198.7 L756.0,199.5 L756.8,200.3 L757.7,201.0 L758.6,201.8 L759.4,202.6 L760.3,203.3 L761.1,204.1 L762.0,204.9 L762.8,205.7 L763.6,206.5 L764.4,207.3 L765.3,208.0 L766.1,208.8 L766.9,209.6 L767.7,210.4 L768.5,211.2 L769.2,212.0 L770.0,212.8 L770.8,213.6 L771.6,214.4 L772.3,215.2 L773.1,216.0 L773.8,216.8 L774.6,217.6 L775.3,218.5 L776.0,219.3 L776.8,220.1 L777.5,220.9 L778.2,221.7 L778.9,222.6 L779.6,223.4 L780.3,224.2 L781.0,225.0 L781.6,225.9 L782.3,226.7 L783.0,227.5 L783.7,228.4 L784.3,229.2" stroke-dasharray="8 5"/>
<path d="M453.0,829.2 L453.1,828.1 L453.1,827.0 L453.2,826.0 L453.3,824.9 L453.4,823.8 L453.5,822.7 L453.5,821.6 L453.6,820.5 L453.7,819.4 L453.8,818.3 L453.9,817.1 L453.9,816.0 L454.0,814.9 L454.1,813.7 L454.2,812.6 L454.2,811.4 L454.3,810.2 L454.4,809.1 L454.5,807.9 L454.6,806.7 L454.6,805.5 L454.7,804.3 L454.8,803.1 L454.9,801.9 L455.0,800.7 L455.0,799.5 L455.1,798.3 L455.2,797.0 L455.3,795.8 L455.3,794.6 L455.4,793.3 L455.5,792.1 L455.6,790.8 L455.7,789.5 L455.7,788.3 L455.8,787.0 L455.9,785.7 L456.0,784.4 L456.0,783.1 L456.1,781.8 L456.2,780.5 L456.3,779.2 L456.4,777.9 L456.4,776.6 L456.5,775.3 L456.6,773.9 L456.7,772.6 L456.7,771.2 L456.8,769.9 L456.9,768.5 L457.0,767.2 L457.0,765.8 L457.1,764.4 L457.2,763.1 L457.3,761.7 L457.4,760.3 L457.4,758.9 L457.5,757.5 L457.6,756.1 L457.7,754.7 L457.7,753.3 L457.8,751.9 L457.9,750.4 L458.0,749.0 L458.0,747.6 L458.1,746.2 L458.2,744.7 L458.3,743.3 L458.3,741.8 L458.4,740.4 L458.5,738.9 L458.6,737.4 L458.6,736.0 L458.7,734.5 L458.8,733.0 L458.9,731.5 L458.9,730.0 L459.0,728.5 L459.1,727.0 L459.2,725.5 L459.2,724.0 L459.3,722.5 L459.4,721.0 L459.5,719.5 L459.5,717.9 L459.6,716.4 L459.7,714.9 L459.7,713.3 L459.8,711.8 L459.9,710.3 L460.0,708.7 L460.0,707.1 L460.1,705.6 L460.2,704.0 L460.3,702.4 L460.3,700.9 L460.4,699.3 L460.5,697.7 L460.5,696.1 L460.6,694.5 L460.7,693.0 L460.8,691.4 L460.8,689.8 L460.9,688.2 L461.0,686.5 L461.0,684.9 L461.1,683.3 L461.2,681.7 L461.2,680.1 L461.3,678.4 L461.4,676.8 L461.5,675.2 L461.5,673.5 L461.6,671.9 L461.7,670.3 L461.7,668.6 L461.8,667.0 L461.9,665.3 L461.9,663.6 L462.0,662.0 L462.1,660.3 L462.1,658.6 L462.2,657.0 L462.3,655.3 L462.3,653.6 L462.4,651.9 L462.5,650.3 L462.5,648.6 L462.6,646.9 L462.7,645.2 L462.7,643.5 L462.8,641.8 L462.9,640.1 L462.9,638.4 L463.0,636.7 L463.1,635.0 L463.1,633.2 L463.2,631.5 L463.3,629.8 L463.3,628.1 L463.4,626.4 L463.5,624.6 L463.5,622.9 L463.6,621.2 L463.7,619.4 L463.7,617.7 L463.8,615.9 L463.8,614.2 L463.9,612.5 L464.0,610.7 L464.0,609.0 L464.1,607.2 L464.2,605.5 L464.2,603.7 L464.3,601.9 L464.3,600.2 L464.4,598.4 L464.5,596.6 L464.5,594.9 L464.6,593.1 L464.6,591.3 L464.7,589.6 L464.8,587.8 L464.8,586.0 L464.9,584.2 L464.9,582.4 L465.0,580.7 L465.1,578.9 L465.1,577.1 L465.2,575.3 L465.2,573.5 L465.3,571.7 L465.3,569.9 L465.4,568.1 L465.5,566.3 L465.5,564.5 L465.6,562.7 L465.6,560.9 L465.7,559.1 L465.7,557.3 L465.8,555.5 L465.9,553.7 L465.9,551.9 L466.0,550.1 L466.0,548.3 L466.1,546.5 L466.1,544.7 L466.2,542.8 L466.2,541.0 L466.3,539.2 L466.3,537.4 L466.4,535.6 L466.4,533.8 L466.5,531.9 L466.5,530.1 L466.6,528.3 L466.7,526.5 L466.7,524.7 L466.8,522.8 L466.8,521.0 L466.9,519.2 L466.9,517.4 L467.0,515.5 L467.0,513.7 L467.1,511.9 L467.1,510.0 L467.2,508.2 L467.2,506.4 L467.2,504.6 L467.3,502.7 L467.3,500.9 L467.4,499.1 L467.4,497.2 L467.5,495.4 L467.5,493.6 L467.6,491.8 L467.6,489.9 L467.7,488.1 L467.7,486.3 L467.8,484.4 L467.8,482.6 L467.9,480.8 L467.9,478.9 L467.9,477.1 L468.0,475.3 L468.0,473.4 L468.1,471.6 L468.1,469.8 L468.2,468.0 L468.2,466.1 L468.2,464.3 L468.3,462.5 L468.3,460.6 L468.4,458.8 L468.4,457.0 L468.4,455.2 L468.5,453.3 L468.5,451.5 L468.6,449.7 L468.6,447.9 L468.6,446.0 L468.7,444.2 L468.7,442.4 L468.8,440.6 L468.8,438.8 L468.8,436.9 L468.9,435.1 L468.9,433.3 L468.9,431.5 L469.0,429.7 L469.0,427.9 L469.1,426.1 L469.1,424.2 L469.1,422.4 L469.2,420.6 L469.2,418.8 L469.2,417.0 L469.3,415.2 L469.3,413.4 L469.3,411.6 L469.4,409.8 L469.4,408.0 L469.4,406.2 L469.5,404.4 L469.5,402.6 L469.5,400.8 L469.6,399.0 L469.6,397.2 L469.6,395.5 L469.7,393.7 L469.7,391.9 L469.7,390.1 L469.7,388.3 L469.8,386.5 L469.8,384.8 L469.8,383.0 L469.9,381.2 L469.9,379.5 L469.9,377.7 L469.9,375.9 L470.0,374.2 L470.0,372.4 L470.0,370.6 L470.0,368.9 L470.1,367.1 L470.1,365.4 L470.1,363.6 L470.1,361.9 L470.2,360.1 L470.2,358.4 L470.2,356.6 L470.2,354.9 L470.3,353.2 L470.3,351.4 L470.3,349.7 L470.3,348.0 L470.3,346.2 L470.4,344.5 L470.4,342.8 L470.4,341.1 L470.4,339.4 L470.4,337.6 L470.5,335.9 L470.5,334.2 L470.5,332.5 L470.5,330.8 L470.5,329.1 L470.6,327.4 L470.6,325.7 L470.6,324.0 L470.6,322.4 L470.6,320.7 L470.6,319.0 L470.7,317.3 L470.7,315.6 L470.7,314.0 L470.7,312.3 L470.7,310.6 L470.7,309.0 L470.7,307.3 L470.8,305.7 L470.8,304.0 L470.8,302.4 L470.8,300.7 L470.8,299.1 L470.8,297.5 L470.8,295.8 L470.8,294.2 L470.9,292.6 L470.9,291.0 L470.9,289.3 L470.9,287.7 L470.9,286.1 L470.9,284.5 L470.9,282.9 L470.9,281.3 L470.9,279.7 L470.9,278.1 L470.9,276.5 L471.0,275.0 L471.0,273.4 L471.0,271.8 L471.0,270.2 L471.0,268.7 L471.0,267.1 L471.0,265.6 L471.0,264.0 L471.0,262.5 L471.0,260.9 L471.0,259.4 L471.0,257.8 L471.0,256.3 L471.0,254.8 L471.0,253.2 L471.0,251.7 L471.0,250.2 L471.0,248.7 L471.0,247.2 L471.0,245.7 L471.0,244.2 L471.0,242.7 L471.0,241.2 L471.0,239.7 L471.0,238.3 L471.0,236.8 L471.0,235.3 L471.0,233.9 L471.0,232.4 L471.0,231.0 L471.0,229.5 L471.0,228.1 L471.0,226.6 L471.0,225.2 L471.0,223.8 L471.0,222.3 L471.0,220.9 L471.0,219.5 L471.0,218.1 L471.0,216.7 L471.0,215.3 L470.9,213.9 L470.9,212.5 L470.9,211.1 L470.9,209.8 L470.9,208.4 L470.9,207.0 L470.9,205.7 L470.9,204.3 L470.9,202.9 L470.9,201.6 L470.9,200.3 L470.8,198.9 L470.8,197.6 L470.8,196.3 L470.8,195.0 L470.8,193.6 L470.8,192.3 L470.8,191.0 L470.8,189.7 L470.7,188.5 L470.7,187.2 L470.7,185.9 L470.7,184.6 L470.7,183.3 L470.7,182.1 L470.7,180.8 L470.6,179.6 L470.6,178.3 L470.6,177.1 L470.6,175.9 L470.6,174.6 L470.6,173.4 L470.5,172.2 L470.5,171.0 L470.5,169.8 L470.5,168.6 L470.5,167.4 L470.4,166.2 L470.4,165.0 L470.4,163.9 L470.4,162.7 L470.4,161.6 L470.3,160.4 L470.3,159.3 L470.3,158.1 L470.3,157.0 L470.3,155.8 L470.2,154.7 L470.2,153.6 L470.2,152.5 L470.2,151.4 L470.1,150.3 L470.1,149.2 L470.1,148.1 L470.1,147.1 L470.0,146.0 L470.0,144.9 L470.0,143.9 L470.0,142.8 L469.9,141.8 L469.9,140.7 L469.9,139.7 L469.9,138.7 L469.8,137.7 L469.8,136.6 L469.8,135.6 L469.7,134.6 L469.7,133.6 L469.7,132.7 L469.7,131.7 L469.6,130.7 L469.6,129.7 L469.6,128.8 L469.5,127.8 L469.5,126.9 L469.5,126.0 L469.4,125.0 L469.4,124.1 L469.4,123.2 L469.3,122.3 L469.3,121.4 L469.3,120.5 L469.2,119.6 L469.2,118.7 L469.2,117.8 L469.1,117.0 L469.1,116.1 L469.1,115.2 L469.0,114.4 L469.0,113.6 L468.9,112.7 L468.9,111.9 L468.9,111.1 L468.8,110.3 L468.8,109.5 L468.8,108.7 L468.7,107.9 L468.7,107.1 L468.6,106.3 L468.6,105.6 L468.6,104.8 L468.5,104.0 L468.5,103.3 L468.4,102.6 L468.4,101.8 L468.4,101.1 L468.3,100.4 L468.3,99.7 L468.2,99.0 L468.2,98.3 L468.2,97.6 L468.1,96.9 L468.1,96.2 L468.0,95.6 L468.0,94.9 L467.9,94.3 L467.9,93.6 L467.9,93.0 L467.8,92.4 L467.8,91.7 L467.7,91.1 L467.7,90.5 L467.6,89.9 L467.6,89.3 L467.5,88.8 L467.5,88.2 L467.4,87.6 L467.4,87.1 L467.3,86.5 L467.3,86.0 L467.2,85.4 L467.2,84.9 L467.2,84.4 L467.1,83.9 L467.1,83.4 L467.0,82.9 L467.0,82.4 L466.9,81.9 L466.9,81.4 L466.8,80.9 L466.8,80.5 L466.7,80.0 L466.7,79.6 L466.6,79.2 L466.5,78.7 L466.5,78.3 L466.4,77.9 L466.4,77.5 L466.3,77.1 L466.3,76.7 L466.2,76.3 L466.2,75.9 L466.1,75.6 L466.1,75.2 L466.0,74.9 L466.0,74.5 L465.9,74.2 L465.9,73.9 L465.8,73.5 L465.7,73.2 L465.7,72.9 L465.6,72.6 L465.6,72.3 L465.5,72.1 L465.5,71.8 L465.4,71.5 L465.3,71.3 L465.3,71.0 L465.2,70.8 L465.2,70.5 L465.1,70.3 L465.1,70.1 L465.0,69.9 L464.9,69.7 L464.9,69.5 L464.8,69.3 L464.8,69.1 L464.7,69.0 L464.6,68.8 L464.6,68.7 L464.5,68.5 L464.5,68.4 L464.4,68.3 L464.3,68.1 L464.3,68.0 L464.2,67.9 L464.2,67.8 L464.1,67.7 L464.0,67.6 L464.0,67.6 L463.9,67.5 L463.8,67.4 L463.8,67.4 L463.7,67.4 L463.7,67.3 L463.6,67.3 L463.5,67.3 L463.5,67.3" stroke-dasharray="1 1"/>
<path d="M453.0,829.2 L454.0,828.3 L455.0,827.4 L455.9,826.5 L456.9,825.5 L457.9,824.6 L458.9,823.7 L459.9,822.7 L460.9,821.8 L461.8,820.9 L462.8,819.9 L463.8,818.9 L464.8,818.0 L465.8,817.0 L466.7,816.0 L467.7,815.0 L468.7,814.0 L469.7,813.0 L470.7,812.0 L471.6,811.0 L472.6,810.0 L473.6,809.0 L474.6,808.0 L475.6,806.9 L476.5,805.9 L477.5,804.8 L478.5,803.8 L479.5,802.7 L480.4,801.6 L481.4,800.6 L482.4,799.5 L483.4,798.4 L484.3,797.3 L485.3,796.2 L486.3,795.1 L487.3,794.0 L488.2,792.9 L489.2,791.8 L490.2,790.7 L491.1,789.5 L492.1,788.4 L493.1,787.2 L494.0,786.1 L495.0,784.9 L496.0,783.8 L496.9,782.6 L497.9,781.4 L498.9,780.3 L499.8,779.1 L500.8,777.9 L501.8,776.7 L502.7,775.5 L503.7,774.3 L504.6,773.1 L505.6,771.9 L506.5,770.6 L507.5,769.4 L508.4,768.2 L509.4,767.0 L510.3,765.7 L511.3,764.5 L512.2,763.2 L513.2,762.0 L514.1,760.7 L515.1,759.4 L516.0,758.1 L517.0,756.9 L517.9,755.6 L518.9,754.3 L519.8,753.0 L520.7,751.7 L521.7,750.4 L522.6,749.1 L523.5,747.8 L524.5,746.5 L525.4,745.1 L526.3,743.8 L527.3,742.5 L528.2,741.1 L529.1,739.8 L530.0,738.4 L531.0,737.1 L531.9,735.7 L532.8,734.4 L533.7,733.0 L534.6,731.6 L535.6,730.2 L536.5,728.9 L537.4,727.5 L538.3,726.1 L539.2,724.7 L540.1,723.3 L541.0,721.9 L541.9,720.5 L542.8,719.1 L543.7,717.6 L544.6,716.2 L545.5,714.8 L546.4,713.4 L547.3,711.9 L548.2,710.5 L549.1,709.0 L550.0,707.6 L550.9,706.1 L551.7,704.7 L552.6,703.2 L553.5,701.8 L554.4,700.3 L555.3,698.8 L556.1,697.3 L557.0,695.9 L557.9,694.4 L558.8,692.9 L559.6,691.4 L560.5,689.9 L561.3,688.4 L562.2,686.9 L563.1,685.4 L563.9,683.9 L564.8,682.4" stroke-dasharray="8 5"/>
<path d="M564.8,682.4 L565.6,680.8 L566.5,679.3 L567.3,677.8 L568.2,676.3 L569.0,674.7 L569.9,673.2 L570.7,671.7 L571.5,670.1 L572.4,668.6 L573.2,667.0 L574.0,665.5 L574.9,663.9 L575.7,662.3 L576.5,660.8 L577.3,659.2 L578.2,657.6 L579.0,656.1 L579.8,654.5 L580.6,652.9 L581.4,651.3 L582.2,649.7 L583.0,648.1 L583.8,646.5 L584.6,644.9 L585.4,643.3 L586.2,641.7 L587.0,640.1 L587.8,638.5 L588.6,636.9 L589.4,635.3 L590.1,633.7 L590.9,632.1 L591.7,630.4 L592.5,628.8 L593.2,627.2 L594.0,625.6 L594.8,623.9 L595.5,622.3 L596.3,620.6 L597.0,619.0 L597.8,617.4 L598.6,615.7 L599.3,614.1 L600.0,612.4 L600.8,610.8 L601.5,609.1 L602.3,607.4 L603.0,605.8 L603.7,604.1 L604.5,602.5 L605.2,600.8 L605.9,599.1 L606.6,597.4 L607.4,595.8 L608.1,594.1 L608.8,592.4 L609.5,590.7 L610.2,589.1 L610.9,587.4 L611.6,585.7 L612.3,584.0 L613.0,582.3 L613.7,580.6 L614.4,578.9 L615.0,577.2 L615.7,575.5 L616.4,573.8 L617.1,572.1 L617.8,570.4 L618.4,568.7 L619.1,567.0 L619.7,565.3 L620.4,563.6 L621.1,561.9 L621.7,560.2 L622.4,558.5 L623.0,556.8 L623.7,555.1 L624.3,553.3 L624.9,551.6 L625.6,549.9 L626.2,548.2 L626.8,546.5 L627.4,544.7 L628.1,543.0 L628.7,541.3 L629.3,539.6 L629.9,537.8 L630.5,536.1 L631.1,534.4 L631.7,532.7 L632.3,530.9 L632.9,529.2 L633.5,527.5 L634.1,525.7 L634.7,524.0 L635.2,522.3 L635.8,520.5 L636.4,518.8 L637.0,517.1 L637.5,515.3 L638.1,513.6 L638.7,511.9 L639.2,510.1 L639.8,508.4 L640.3,506.6 L640.9,504.9 L641.4,503.2 L641.9,501.4 L642.5,499.7 L643.0,497.9 L643.5,496.2 L644.0,494.5 L644.6,492.7 L645.1,491.0 L645.6,489.2 L646.1,487.5 L646.6,485.8 L647.1,484.0 L647.6,482.3 L648.1,480.5 L648.6,478.8 L649.1,477.1 L649.5,475.3 L650.0,473.6 L650.5,471.8 L651.0,470.1 L651.4,468.4 L651.9,466.6 L652.4,464.9 L652.8,463.1 L653.3,461.4 L653.7,459.7 L654.2,457.9 L654.6,456.2 L655.0,454.5 L655.5,452.7 L655.9,451.0 L656.3,449.3 L656.7,447.5 L657.2,445.8 L657.6,444.1 L658.0,442.3 L658.4,440.6 L658.8,438.9 L659.2,437.2 L659.6,435.4 L660.0,433.7 L660.4,432.0 L660.7,430.2 L661.1,428.5 L661.5,426.8 L661.9,425.1 L662.2,423.4 L662.6,421.6 L663.0,419.9 L663.3,418.2 L663.7,416.5 L664.0,414.8 L664.3,413.1 L664.7,411.4 L665.0,409.7 L665.4,408.0 L665.7,406.2 L666.0,404.5 L666.3,402.8 L666.6,401.1 L666.9,399.4 L667.2,397.7 L667.5,396.0 L667.8,394.4 L668.1,392.7 L668.4,391.0 L668.7,389.3 L669.0,387.6 L669.3,385.9 L669.5,384.2 L669.8,382.5 L670.1,380.9 L670.3,379.2 L670.6,377.5 L670.8,375.8 L671.1,374.2 L671.3,372.5 L671.6,370.8 L671.8,369.2 L672.0,367.5 L672.3,365.8 L672.5,364.2 L672.7,362.5 L672.9,360.9 L673.1,359.2 L673.4,357.6 L673.6,355.9 L673.8,354.3 L673.9,352.7 L674.1,351.0 L674.3,349.4 L674.5,347.7 L674.7,346.1 L674.9,344.5 L675.0,342.9 L675.2,341.2 L675.3,339.6 L675.5,338.0 L675.7,336.4 L675.8,334.8 L675.9,333.2 L676.1,331.6 L676.2,330.0 L676.3,328.4 L676.5,326.8 L676.6,325.2 L676.7,323.6 L676.8,322.0 L676.9,320.4 L677.0,318.8 L677.1,317.3 L677.2,315.7 L677.3,314.1 L677.4,312.5 L677.5,311.0 L677.6,309.4 L677.7,307.9 L677.7,306.3 L677.8,304.8 L677.9,303.2 L677.9,301.7 L678.0,300.1 L678.0,298.6 L678.1,297.1 L678.1,295.5 L678.1,294.0 L678.2,292.5 L678.2,291.0 L678.2,289.4 L678.2,287.9 L678.3,286.4 L678.3,284.9 L678.3,283.4 L678.3,281.9 L678.3,280.4 L678.3,279.0 L678.3,277.5 L678.2,276.0 L678.2,274.5 L678.2,273.0 L678.2,271.6 L678.1,270.1 L678.1,268.7 L678.1,267.2 L678.0,265.7 L678.0,264.3 L677.9,262.9 L677.9,261.4 L677.8,260.0 L677.7,258.6 L677.7,257.1 L677.6,255.7 L677.5,254.3 L677.4,252.9 L677.3,251.5 L677.2,250.1 L677.1,248.7 L677.0,247.3 L676.9,245.9 L676.8,244.5 L676.7,243.1 L676.6,241.7 L676.5,240.4 L676.3,239.0 L676.2,237.6 L676.1,236.3 L675.9,234.9 L675.8,233.6 L675.7,232.2 L675.5,230.9 L675.3,229.6 L675.2,228.2 L675.0,226.9 L674.9,225.6 L674.7,224.3 L674.5,223.0 L674.3,221.7 L674.1,220.4 L673.9,219.1 L673.8,217.8 L673.6,216.5 L673.4,215.2 L673.1,214.0 L672.9,212.7 L672.7,211.4 L672.5,210.2 L672.3,208.9 L672.0,207.7 L671.8,206.4 L671.6,205.2 L671.3,204.0 L671.1,202.8 L670.8,201.5 L670.6,200.3 L670.3,199.1 L670.1,197.9 L669.8,196.7 L669.5,195.5 L669.3,194.3 L669.0,193.2 L668.7,192.0 L668.4,190.8 L668.1,189.6 L667.8,188.5 L667.5,187.3 L667.2,186.2 L666.9,185.0 L666.6,183.9 L666.3,182.8 L666.0,181.7 L665.7,180.5 L665.4,179.4 L665.0,178.3 L664.7,177.2 L664.3,176.1 L664.0,175.0 L663.7,173.9 L663.3,172.9 L663.0,171.8 L662.6,170.7 L662.2,169.7 L661.9,168.6 L661.5,167.6 L661.1,166.5 L660.7,165.5 L660.4,164.5 L660.0,163.5 L659.6,162.4 L659.2,161.4 L658.8,160.4 L658.4,159.4 L658.0,158.4 L657.6,157.4 L657.2,156.5 L656.7,155.5 L656.3,154.5 L655.9,153.6 L655.5,152.6 L655.0,151.7 L654.6,150.7 L654.2,149.8 L653.7,148.9 L653.3,147.9 L652.8,147.0 L652.4,146.1 L651.9,145.2 L651.4,144.3 L651.0,143.4 L650.5,142.5 L650.0,141.7 L649.5,140.8 L649.1,139.9 L648.6,139.1 L648.1,138.2 L647.6,137.4 L647.1,136.6 L646.6,135.7 L646.1,134.9 L645.6,134.1 L645.1,133.3 L644.6,132.5 L644.0,131.7" stroke-dasharray="1 1"/>
<path d="M644.0,131.7 L643.5,130.9 L643.0,130.1 L642.5,129.3 L641.9,128.6 L641.4,127.8 L640.9,127.0 L640.3,126.3 L639.8,125.6 L639.2,124.8 L638.7,124.1 L638.1,123.4 L637.5,122.7 L637.0,121.9 L636.4,121.2 L635.8,120.6 L635.2,119.9 L634.7,119.2 L634.1,118.5 L633.5,117.8 L632.9,117.2 L632.3,116.5 L631.7,115.9 L631.1,115.3 L630.5,114.6 L629.9,114.0 L629.3,113.4 L628.7,112.8 L628.1,112.2 L627.4,111.6 L626.8,111.0 L626.2,110.4 L625.6,109.8 L624.9,109.3 L624.3,108.7 L623.7,108.2 L623.0,107.6 L622.4,107.1 L621.7,106.6 L621.1,106.0 L620.4,105.5 L619.7,105.0 L619.1,104.5 L618.4,104.0 L617.8,103.5 L617.1,103.1 L616.4,102.6 L615.7,102.1 L615.0,101.7 L614.4,101.2 L613.7,100.8 L613.0,100.3 L612.3,99.9 L611.6,99.5 L610.9,99.1 L610.2,98.7 L609.5,98.3 L608.8,97.9 L608.1,97.5 L607.4,97.1 L606.6,96.8 L605.9,96.4 L605.2,96.0 L604.5,95.7 L603.7,95.4 L603.0,95.0 L602.3,94.7 L601.5,94.4 L600.8,94.1 L600.0,93.8 L599.3,93.5 L598.6,93.2" stroke-dasharray="8 5"/>
<path d="M453.0,829.2 L454.6,828.7 L456.2,828.2 L457.9,827.7 L459.5,827.2 L461.1,826.6 L462.7,826.1 L464.4,825.6 L466.0,825.0 L467.6,824.5 L469.2,823.9 L470.8,823.4 L472.5,822.8 L474.1,822.3 L475.7,821.7 L477.3,821.1 L479.0,820.5 L480.6,819.9 L482.2,819.3 L483.8,818.7 L485.4,818.1 L487.0,817.5 L488.7,816.8 L490.3,816.2 L491.9,815.6 L493.5,814.9 L495.1,814.3 L496.7,813.6 L498.3,812.9 L500.0,812.3 L501.6,811.6 L503.2,810.9 L504.8,810.2 L506.4,809.5 L508.0,808.8 L509.6,808.1 L511.2,807.4 L512.8,806.7 L514.4,805.9 L516.0,805.2 L517.6,804.5 L519.2,803.7 L520.8,803.0 L522.4,802.2 L524.0,801.5 L525.6,800.7 L527.2,799.9 L528.8,799.1 L530.4,798.3 L532.0,797.5 L533.5,796.7 L535.1,795.9 L536.7,795.1 L538.3,794.3 L539.9,793.5 L541.4,792.7 L543.0,791.8 L544.6,791.0 L546.2,790.1 L547.7,789.3 L549.3,788.4 L550.9,787.6 L552.4,786.7 L554.0,785.8 L555.6,785.0 L557.1,784.1 L558.7,783.2 L560.2,782.3 L561.8,781.4 L563.4,780.5 L564.9,779.6 L566.5,778.6 L568.0,777.7 L569.5,776.8 L571.1,775.8 L572.6,774.9 L574.2,774.0 L575.7,773.0 L577.2,772.1 L578.8,771.1 L580.3,770.1 L581.8,769.1 L583.3,768.2 L584.8,767.2 L586.4,766.2 L587.9,765.2 L589.4,764.2 L590.9,763.2 L592.4,762.2 L593.9,761.2 L595.4,760.1 L596.9,759.1 L598.4,758.1 L599.9,757.0 L601.4,756.0 L602.9,755.0 L604.4,753.9 L605.8,752.8 L607.3,751.8 L608.8,750.7 L610.3,749.6 L611.7,748.6 L613.2,747.5 L614.7,746.4 L616.1,745.3 L617.6,744.2 L619.1,743.1 L620.5,742.0 L622.0,740.9 L623.4,739.8 L624.8,738.6 L626.3,737.5 L627.7,736.4 L629.1,735.2 L630.6,734.1 L632.0,733.0 L633.4,731.8 L634.8,730.7 L636.3,729.5 L637.7,728.3 L639.1,727.2 L640.5,726.0 L641.9,724.8 L643.3,723.6 L644.7,722.4 L646.1,721.2 L647.4,720.1 L648.8,718.9 L650.2,717.6 L651.6,716.4 L653.0,715.2 L654.3,714.0 L655.7,712.8 L657.0,711.6 L658.4,710.3 L659.8,709.1 L661.1,707.9 L662.4,706.6 L663.8,705.4 L665.1,704.1 L666.5,702.9 L667.8,701.6 L669.1,700.3 L670.4,699.1 L671.7,697.8 L673.1,696.5 L674.4,695.2 L675.7,693.9 L677.0,692.7 L678.3,691.4 L679.6,690.1 L680.8,688.8 L682.1,687.5 L683.4,686.2 L684.7,684.9 L685.9,683.5 L687.2,682.2 L688.5,680.9 L689.7,679.6 L691.0,678.2 L692.2,676.9 L693.5,675.6 L694.7,674.2 L695.9,672.9 L697.2,671.5 L698.4,670.2 L699.6,668.8 L700.8,667.5 L702.0,666.1 L703.2,664.7 L704.4,663.4 L705.6,662.0 L706.8,660.6 L708.0,659.2 L709.2,657.9 L710.3,656.5 L711.5,655.1 L712.7,653.7 L713.8,652.3 L715.0,650.9 L716.2,649.5 L717.3,648.1 L718.4,646.7 L719.6,645.3 L720.7,643.9 L721.8,642.5 L723.0,641.0 L724.1,639.6 L725.2,638.2 L726.3,636.8 L727.4,635.3 L728.5,633.9 L729.6,632.5 L730.6,631.0 L731.7,629.6 L732.8,628.1 L733.9,626.7 L734.9,625.2 L736.0,623.8 L737.0,622.3 L738.1,620.9 L739.1,619.4 L740.2,617.9 L741.2,616.5 L742.2,615.0 L743.2,613.5 L744.3,612.1 L745.3,610.6 L746.3,609.1 L747.3,607.6 L748.3,606.2 L749.2,604.7 L750.2,603.2 L751.2,601.7 L752.2,600.2 L753.1,598.7 L754.1,597.2 L755.0,595.7 L756.0,594.2 L756.9,592.7 L757.9,591.2 L758.8,589.7 L759.7,588.2 L760.6,586.7 L761.5,585.2 L762.4,583.7 L763.3,582.2 L764.2,580.6 L765.1,579.1 L766.0,577.6 L766.9,576.1 L767.7,574.6 L768.6,573.0 L769.5,571.5 L770.3,570.0 L771.2,568.4 L772.0,566.9 L772.8,565.4 L773.7,563.8 L774.5,562.3 L775.3,560.8 L776.1,559.2 L776.9,557.7 L777.7,556.1 L778.5,554.6 L779.3,553.1 L780.1,551.5 L780.8,550.0 L781.6,548.4 L782.4,546.9 L783.1,545.3 L783.9,543.8 L784.6,542.2 L785.3,540.7 L786.1,539.1 L786.8,537.5 L787.5,536.0 L788.2,534.4 L788.9,532.9 L789.6,531.3 L790.3,529.8 L791.0,528.2 L791.6,526.6 L792.3,525.1 L793.0,523.5 L793.6,521.9 L794.3,520.4 L794.9,518.8 L795.6,517.2 L796.2,515.7 L796.8,514.1 L797.4,512.5 L798.1,511.0 L798.7,509.4 L799.3,507.8 L799.9,506.3 L800.4,504.7 L801.0,503.1 L801.6,501.6 L802.2,500.0 L802.7,498.4 L803.3,496.8 L803.8,495.3 L804.4,493.7 L804.9,492.1 L805.4,490.6 L805.9,489.0 L806.4,487.4 L806.9,485.8 L807.4,484.3 L807.9,482.7 L808.4,481.1 L808.9,479.6 L809.4,478.0 L809.8,476.4 L810.3,474.8 L810.7,473.3 L811.2,471.7 L811.6,470.1 L812.1,468.6 L812.5,467.0 L812.9,465.4 L813.3,463.9 L813.7,462.3 L814.1,460.7 L814.5,459.1 L814.9,457.6 L815.3,456.0 L815.6,454.5 L816.0,452.9 L816.3,451.3 L816.7,449.8 L817.0,448.2 L817.4,446.6 L817.7,445.1 L818.0,443.5 L818.3,441.9 L818.6,440.4 L818.9,438.8 L819.2,437.3 L819.5,435.7 L819.8,434.2 L820.1,432.6 L820.3,431.1 L820.6,429.5 L820.8,427.9 L821.1,426.4 L821.3,424.9 L821.5,423.3 L821.8,421.8 L822.0,420.2 L822.2,418.7 L822.4,417.1 L822.6,415.6 L822.8,414.0 L822.9,412.5 L823.1,411.0 L823.3,409.4 L823.4,407.9 L823.6,406.4 L823.7,404.8 L823.9,403.3 L824.0,401.8 L824.1,400.2 L824.3,398.7 L824.4,397.2 L824.5,395.7 L824.6,394.2 L824.6,392.6 L824.7,391.1 L824.8,389.6 L824.9,388.1 L824.9,386.6 L825.0,385.1 L825.0,383.6 L825.1,382.1 L825.1,380.6 L825.1,379.1 L825.1,377.6 L825.2,376.1" stroke-dasharray="1 1"/>
<path d="M825.2,376.1 L825.2,374.6" stroke-dasharray="8 5"/>
<path d="M825.2,374.6 L825.2,373.1 L825.1,371.6 L825.1,370.1 L825.1,368.6 L825.1,367.1 L825.0,365.6 L825.0,364.2 L824.9,362.7 L824.9,361.2 L824.8,359.7 L824.7,358.3 L824.6,356.8 L824.6,355.3 L824.5,353.9 L824.4,352.4 L824.3,351.0 L824.1,349.5 L824.0,348.1 L823.9,346.6 L823.7,345.2 L823.6,343.7 L823.4,342.3 L823.3,340.8 L823.1,339.4 L822.9,338.0 L822.8,336.5 L822.6,335.1 L822.4,333.7 L822.2,332.3 L822.0,330.9 L821.8,329.4 L821.5,328.0 L821.3,326.6 L821.1,325.2 L820.8,323.8 L820.6,322.4 L820.3,321.0 L820.1,319.6 L819.8,318.2 L819.5,316.8 L819.2,315.5 L818.9,314.1 L818.6,312.7 L818.3,311.3 L818.0,309.9 L817.7,308.6 L817.4,307.2 L817.0,305.9 L816.7,304.5 L816.3,303.1 L816.0,301.8 L815.6,300.4 L815.3,299.1 L814.9,297.8 L814.5,296.4 L814.1,295.1 L813.7,293.8 L813.3,292.4 L812.9,291.1 L812.5,289.8 L812.1,288.5 L811.6,287.2 L811.2,285.9 L810.7,284.6 L810.3,283.3 L809.8,282.0 L809.4,280.7 L808.9,279.4 L808.4,278.1 L807.9,276.8 L807.4,275.6 L806.9,274.3 L806.4,273.0 L805.9,271.8 L805.4,270.5 L804.9,269.2 L804.4,268.0 L803.8,266.7 L803.3,265.5 L802.7,264.3 L802.2,263.0 L801.6,261.8 L801.0,260.6 L800.4,259.4 L799.9,258.1 L799.3,256.9 L798.7,255.7 L798.1,254.5 L797.4,253.3 L796.8,252.1 L796.2,250.9 L795.6,249.7 L794.9,248.6 L794.3,247.4 L793.6,246.2 L793.0,245.0 L792.3,243.9 L791.6,242.7 L791.0,241.6 L790.3,240.4 L789.6,239.3 L788.9,238.1 L788.2,237.0 L787.5,235.9 L786.8,234.8 L786.1,233.6 L785.3,232.5 L784.6,231.4 L783.9,230.3 L783.1,229.2 L782.4,228.1 L781.6,227.0 L780.8,225.9 L780.1,224.8 L779.3,223.8 L778.5,222.7 L777.7,221.6 L776.9,220.6 L776.1,219.5" stroke-dasharray="1 1"/>
<path d="M776.1,219.5 L775.3,218.5" stroke-dasharray="8 5"/>
<path d="M775.3,218.5 L774.5,217.4 L773.7,216.4 L772.8,215.3 L772.0,214.3 L771.2,213.3 L770.3,212.3 L769.5,211.2 L768.6,210.2 L767.7,209.2 L766.9,208.2 L766.0,207.2 L765.1,206.3" stroke-dasharray="1 1"/>
<path d="M453.0,829.2 L454.8,829.2 L456.6,829.2 L458.5,829.3 L460.3,829.3 L462.1,829.3 L464.0,829.3 L465.8,829.3 L467.6,829.3 L469.5,829.3 L471.3,829.3 L473.1,829.3 L474.9,829.2 L476.8,829.2 L478.6,829.2 L480.4,829.1 L482.2,829.1 L484.1,829.0 L485.9,828.9 L487.7,828.9 L489.5,828.8 L491.4,828.7 L493.2,828.6 L495.0,828.5 L496.8,828.4 L498.6,828.3 L500.5,828.1 L502.3,828.0 L504.1,827.9 L505.9,827.7 L507.7,827.6 L509.5,827.4 L511.3,827.3 L513.2,827.1 L515.0,827.0 L516.8,826.8 L518.6,826.6 L520.4,826.4 L522.2,826.2 L524.0,826.0 L525.8,825.8 L527.6,825.6 L529.4,825.3 L531.2,825.1 L533.0,824.9 L534.8,824.6 L536.6,824.4 L538.4,824.1 L540.2,823.9 L542.0,823.6 L543.8,823.3 L545.5,823.0 L547.3,822.7 L549.1,822.4 L550.9,822.1 L552.7,821.8 L554.4,821.5 L556.2,821.2 L558.0,820.9 L559.8,820.5 L561.5,820.2 L563.3,819.9 L565.1,819.5 L566.8,819.1 L568.6,818.8 L570.3,818.4 L572.1,818.0 L573.8,817.7 L575.6,817.3 L577.3,816.9 L579.1,816.5 L580.8,816.1 L582.6,815.6 L584.3,815.2 L586.0,814.8 L587.8,814.4 L589.5,813.9 L591.2,813.5 L593.0,813.0 L594.7,812.6 L596.4,812.1 L598.1,811.6 L599.8,811.1 L601.6,810.7 L603.3,810.2 L605.0,809.7 L606.7,809.2 L608.4,808.7 L610.1,808.2 L611.8,807.6 L613.5,807.1 L615.2,806.6 L616.8,806.0 L618.5,805.5 L620.2,804.9 L621.9,804.4 L623.5,803.8 L625.2,803.2 L626.9,802.7 L628.5,802.1 L630.2,801.5 L631.9,800.9 L633.5,800.3 L635.2,799.7 L636.8,799.1 L638.5,798.5 L640.1,797.9 L641.7,797.2 L643.4,796.6 L645.0,796.0 L646.6,795.3 L648.2,794.7 L649.9,794.0 L651.5,793.3 L653.1,792.7 L654.7,792.0 L656.3,791.3 L657.9,790.6 L659.5,789.9 L661.1,789.2 L662.7,788.5 L664.2,787.8 L665.8,787.1 L667.4,786.4 L669.0,785.6 L670.5,784.9 L672.1,784.2 L673.6,783.4 L675.2,782.7 L676.8,781.9 L678.3,781.2 L679.8,780.4 L681.4,779.6 L682.9,778.8 L684.4,778.1 L686.0,777.3 L687.5,776.5 L689.0,775.7 L690.5,774.9 L692.0,774.1 L693.5,773.2 L695.0,772.4 L696.5,771.6 L698.0,770.8 L699.5,769.9 L700.9,769.1 L702.4,768.2 L703.9,767.4 L705.4,766.5 L706.8,765.7 L708.3,764.8 L709.7,763.9 L711.2,763.0 L712.6,762.1 L714.0,761.2 L715.5,760.4 L716.9,759.5 L718.3,758.5 L719.7,757.6 L721.1,756.7 L722.5,755.8 L723.9,754.9 L725.3,753.9 L726.7,753.0 L728.1,752.0 L729.5,751.1 L730.8,750.1 L732.2,749.2 L733.6,748.2 L734.9,747.3 L736.3,746.3 L737.6,745.3 L739.0,744.3 L740.3,743.3 L741.6,742.3 L743.0,741.3 L744.3,740.3 L745.6,739.3 L746.9,738.3 L748.2,737.3 L749.5,736.3 L750.8,735.3 L752.1,734.2 L753.4,733.2 L754.6,732.2 L755.9,731.1 L757.2,730.1 L758.4,729.0 L759.7,727.9 L760.9,726.9 L762.2,725.8 L763.4,724.7 L764.6,723.7 L765.8,722.6 L767.1,721.5 L768.3,720.4 L769.5,719.3 L770.7,718.2 L771.9,717.1 L773.0,716.0 L774.2,714.9 L775.4,713.8 L776.6,712.6 L777.7,711.5 L778.9,710.4 L780.0,709.3 L781.2,708.1 L782.3,707.0 L783.4,705.8 L784.6,704.7 L785.7,703.5 L786.8,702.4 L787.9,701.2 L789.0,700.0 L790.1,698.9 L791.2,697.7 L792.2,696.5 L793.3,695.3 L794.4,694.1 L795.4,692.9 L796.5,691.7 L797.5,690.5 L798.6,689.3 L799.6,688.1 L800.6,686.9 L801.7,685.7 L802.7,684.5 L803.7,683.3 L804.7,682.0 L805.7,680.8 L806.7,679.6 L807.6,678.3 L808.6,677.1 L809.6,675.9 L810.5,674.6 L811.5,673.4 L812.4,672.1 L813.4,670.8 L814.3,669.6 L815.2,668.3 L816.1,667.1 L817.1,665.8 L818.0,664.5 L818.9,663.2 L819.7,661.9 L820.6,660.7 L821.5,659.4 L822.4,658.1 L823.2,656.8 L824.1,655.5 L824.9,654.2 L825.8,652.9 L826.6,651.6 L827.4,650.3 L828.3,648.9 L829.1,647.6 L829.9,646.3 L830.7,645.0 L831.5,643.6 L832.3,642.3 L833.0,641.0 L833.8,639.6 L834.6,638.3 L835.3,637.0 L836.1,635.6 L836.8,634.3 L837.5,632.9 L838.3,631.6 L839.0,630.2 L839.7,628.9 L840.4,627.5 L841.1,626.1 L841.8,624.8 L842.5,623.4 L843.1,622.0 L843.8,620.7 L844.5,619.3 L845.1,617.9 L845.8,616.5 L846.4,615.1 L847.0,613.7 L847.7,612.4 L848.3,611.0 L848.9,609.6 L849.5,608.2 L850.1,606.8 L850.7,605.4 L851.2,604.0 L851.8,602.6 L852.4,601.2 L852.9,599.7 L853.5,598.3 L854.0,596.9 L854.5,595.5 L855.1,594.1 L855.6,592.7 L856.1,591.2 L856.6,589.8 L857.1,588.4 L857.6,587.0 L858.0,585.5 L858.5,584.1 L859.0,582.7 L859.4,581.2 L859.9,579.8 L860.3,578.4 L860.7,576.9 L861.2,575.5 L861.6,574.0 L862.0,572.6 L862.4,571.1 L862.8,569.7 L863.2,568.2 L863.5,566.8 L863.9,565.3 L864.3,563.9 L864.6,562.4 L865.0,561.0 L865.3,559.5 L865.6,558.0 L866.0,556.6 L866.3,555.1 L866.6,553.6 L866.9,552.2 L867.2,550.7 L867.4,549.2 L867.7,547.8 L868.0,546.3 L868.2,544.8 L868.5,543.4 L868.7,541.9 L869.0,540.4 L869.2,538.9 L869.4,537.5 L869.6,536.0 L869.8,534.5 L870.0,533.0 L870.2,531.5 L870.4,530.1 L870.6,528.6 L870.7,527.1 L870.9,525.6 L871.0,524.1 L871.2,522.6 L871.3,521.1 L871.4,519.7 L871.5,518.2" stroke-dasharray="1 1"/>
<path d="M453.0,829.2 L454.5,829.7 L456.1,830.3 L457.6,830.8 L459.2,831.4 L460.7,831.9 L462.3,832.5 L463.8,833.0 L465.3,833.5 L466.9,834.0 L468.4,834.5 L470.0,835.0 L471.5,835.5 L473.1,836.0 L474.6,836.5 L476.2,837.0 L477.7,837.4 L479.2,837.9 L480.8,838.3 L482.3,838.8 L483.9,839.2 L485.4,839.7 L486.9,840.1 L488.5,840.5 L490.0,840.9 L491.5,841.3 L493.1,841.7 L494.6,842.1 L496.1,842.5 L497.7,842.9 L499.2,843.3 L500.7,843.6 L502.3,844.0 L503.8,844.3 L505.3,844.7 L506.9,845.0 L508.4,845.3 L509.9,845.7 L511.4,846.0 L513.0,846.3 L514.5,846.6 L516.0,846.9 L517.5,847.2 L519.0,847.5 L520.6,847.8 L522.1,848.0 L523.6,848.3 L525.1,848.5 L526.6,848.8 L528.1,849.0 L529.6,849.3 L531.1,849.5 L532.7,849.7 L534.2,849.9 L535.7,850.1 L537.2,850.3 L538.7,850.5 L540.2,850.7 L541.7,850.9 L543.2,851.1 L544.6,851.2 L546.1,851.4 L547.6,851.6 L549.1,851.7 L550.6,851.8 L552.1,852.0 L553.6,852.1 L555.1,852.2 L556.5,852.3 L558.0,852.4 L559.5,852.5 L561.0,852.6 L562.4,852.7 L563.9,852.8 L565.4,852.8 L566.8,852.9 L568.3,853.0 L569.7,853.0 L571.2,853.1 L572.7,853.1 L574.1,853.1 L575.6,853.1 L577.0,853.1 L578.5,853.2 L579.9,853.2 L581.3,853.1 L582.8,853.1 L584.2,853.1 L585.7,853.1 L587.1,853.0 L588.5,853.0 L589.9,853.0 L591.4,852.9 L592.8,852.8 L594.2,852.8 L595.6,852.7 L597.0,852.6 L598.4,852.5 L599.8,852.4 L601.3,852.3 L602.7,852.2 L604.1,852.1 L605.4,851.9 L606.8,851.8 L608.2,851.7 L609.6,851.5 L611.0,851.4 L612.4,851.2 L613.8,851.0 L615.1,850.9 L616.5,850.7 L617.9,850.5 L619.2,850.3 L620.6,850.1 L622.0,849.9 L623.3,849.7 L624.7,849.5 L626.0,849.2 L627.4,849.0 L628.7,848.7 L630.1,848.5 L631.4,848.2 L632.7,848.0 L634.1,847.7 L635.4,847.4 L636.7,847.1 L638.0,846.8 L639.3,846.5 L640.7,846.2 L642.0,845.9 L643.3,845.6 L644.6,845.3 L645.9,844.9 L647.2,844.6 L648.5,844.3 L649.7,843.9 L651.0,843.5 L652.3,843.2 L653.6,842.8 L654.8,842.4 L656.1,842.0 L657.4,841.6 L658.6,841.2 L659.9,840.8 L661.1,840.4 L662.4,840.0 L663.6,839.6 L664.9,839.1 L666.1,838.7 L667.3,838.2 L668.6,837.8 L669.8,837.3 L671.0,836.9 L672.2,836.4 L673.4,835.9 L674.7,835.4 L675.9,834.9 L677.1,834.4 L678.2,833.9 L679.4,833.4 L680.6,832.9 L681.8,832.4 L683.0,831.8 L684.2,831.3 L685.3,830.7 L686.5,830.2 L687.6,829.6 L688.8,829.0 L690.0,828.5 L691.1,827.9 L692.2,827.3 L693.4,826.7 L694.5,826.1 L695.6,825.5 L696.8,824.9 L697.9,824.3 L699.0,823.7 L700.1,823.0 L701.2,822.4 L702.3,821.7 L703.4,821.1 L704.5,820.4 L705.6,819.8 L706.7,819.1 L707.7,818.4 L708.8,817.7 L709.9,817.1 L710.9,816.4 L712.0,815.7 L713.0,814.9 L714.1,814.2 L715.1,813.5 L716.2,812.8 L717.2,812.1 L718.2,811.3 L719.2,810.6 L720.3,809.8 L721.3,809.1 L722.3,808.3 L723.3,807.5 L724.3,806.8 L725.3,806.0 L726.2,805.2 L727.2,804.4 L728.2,803.6 L729.2,802.8 L730.1,802.0 L731.1,801.2 L732.1,800.3 L733.0,799.5 L733.9,798.7 L734.9,797.8" stroke-dasharray="1 1"/>
<path d="M453.0,829.2 L453.8,830.1 L454.7,831.0 L455.5,832.0 L456.4,832.9 L457.2,833.8 L458.1,834.7 L458.9,835.6 L459.8,836.5 L460.6,837.4 L461.5,838.2 L462.3,839.1 L463.1,840.0 L464.0,840.8 L464.8,841.7 L465.7,842.5 L466.5,843.4 L467.4,844.2 L468.2,845.0 L469.1,845.8 L469.9,846.6 L470.7,847.4 L471.6,848.2 L472.4,849.0 L473.3,849.8 L474.1,850.6 L475.0,851.3 L475.8,852.1 L476.6,852.9 L477.5,853.6 L478.3,854.3 L479.2,855.1 L480.0,855.8 L480.8,856.5 L481.7,857.2 L482.5,857.9 L483.3,858.6 L484.2,859.3 L485.0,860.0 L485.9,860.7 L486.7,861.4 L487.5,862.0 L488.4,862.7 L489.2,863.3 L490.0,864.0 L490.8,864.6 L491.7,865.2 L492.5,865.9 L493.3,866.5 L494.2,867.1 L495.0,867.7 L495.8,868.3 L496.6,868.8 L497.5,869.4 L498.3,870.0 L499.1,870.5 L499.9,871.1 L500.8,871.6 L501.6,872.2 L502.4,872.7 L503.2,873.2 L504.0,873.8 L504.8,874.3 L505.7,874.8 L506.5,875.3 L507.3,875.8 L508.1,876.2 L508.9,876.7 L509.7,877.2 L510.5,877.6 L511.3,878.1 L512.1,878.5 L513.0,879.0 L513.8,879.4 L514.6,879.8 L515.4,880.2 L516.2,880.6 L517.0,881.0 L517.8,881.4 L518.6,881.8 L519.4,882.2 L520.2,882.6 L520.9,882.9 L521.7,883.3 L522.5,883.6 L523.3,883.9 L524.1,884.3 L524.9,884.6 L525.7,884.9 L526.5,885.2 L527.2,885.5 L528.0,885.8 L528.8,886.1 L529.6,886.4 L530.4,886.7 L531.1,886.9 L531.9,887.2 L532.7,887.4 L533.5,887.7 L534.2,887.9 L535.0,888.1 L535.8,888.3 L536.5,888.5 L537.3,888.7 L538.1,888.9 L538.8,889.1 L539.6,889.3 L540.3,889.5 L541.1,889.6 L541.8,889.8 L542.6,889.9 L543.3,890.1 L544.1,890.2 L544.8,890.3 L545.6,890.4 L546.3,890.6 L547.1,890.7 L547.8,890.8 L548.5,890.8 L549.3,890.9 L550.0,891.0 L550.7,891.1 L551.5,891.1 L552.2,891.2 L552.9,891.2 L553.7,891.2 L554.4,891.3 L555.1,891.3 L555.8,891.3 L556.5,891.3 L557.3,891.3 L558.0,891.3 L558.7,891.2 L559.4,891.2 L560.1,891.2 L560.8,891.1 L561.5,891.1 L562.2,891.0 L562.9,890.9 L563.6,890.9 L564.3,890.8 L565.0,890.7 L565.7,890.6 L566.4,890.5 L567.0,890.4 L567.7,890.3 L568.4,890.1 L569.1,890.0 L569.8,889.8 L570.4,889.7 L571.1,889.5 L571.8,889.4 L572.5,889.2 L573.1,889.0 L573.8,888.8" stroke-dasharray="8 5"/>
<path d="M453.0,829.2 L452.9,830.2 L452.8,831.3 L452.8,832.3 L452.7,833.4 L452.6,834.4 L452.5,835.4 L452.4,836.4 L452.4,837.4 L452.3,838.4 L452.2,839.4 L452.1,840.4 L452.0,841.4 L452.0,842.4 L451.9,843.3 L451.8,844.3 L451.7,845.3 L451.7,846.2 L451.6,847.2 L451.5,848.1 L451.4,849.0 L451.3,849.9 L451.3,850.8 L451.2,851.8 L451.1,852.7 L451.0,853.6 L450.9,854.4 L450.9,855.3 L450.8,856.2 L450.7,857.1 L450.6,857.9 L450.6,858.8 L450.5,859.6 L450.4,860.4 L450.3,861.3 L450.2,862.1 L450.2,862.9 L450.1,863.7 L450.0,864.5 L449.9,865.3 L449.9,866.1 L449.8,866.9 L449.7,867.7 L449.6,868.4 L449.5,869.2 L449.5,869.9 L449.4,870.7 L449.3,871.4 L449.2,872.1 L449.2,872.9 L449.1,873.6 L449.0,874.3 L448.9,875.0 L448.9,875.7 L448.8,876.4 L448.7,877.0 L448.6,877.7 L448.6,878.4 L448.5,879.0 L448.4,879.7 L448.3,880.3 L448.2,880.9 L448.2,881.6 L448.1,882.2 L448.0,882.8 L447.9,883.4 L447.9,884.0 L447.8,884.6 L447.7,885.2 L447.6,885.7 L447.6,886.3 L447.5,886.8 L447.4,887.4 L447.3,887.9 L447.3,888.5 L447.2,889.0 L447.1,889.5 L447.0,890.0 L447.0,890.5 L446.9,891.0 L446.8,891.5 L446.7,892.0 L446.7,892.5 L446.6,892.9 L446.5,893.4 L446.5,893.8 L446.4,894.3 L446.3,894.7 L446.2,895.1 L446.2,895.6 L446.1,896.0 L446.0,896.4 L445.9,896.8 L445.9,897.2 L445.8,897.5 L445.7,897.9 L445.7,898.3 L445.6,898.6 L445.5,899.0 L445.4,899.3 L445.4,899.6 L445.3,900.0 L445.2,900.3 L445.2,900.6 L445.1,900.9 L445.0,901.2 L444.9,901.5 L444.9,901.8 L444.8,902.0 L444.7,902.3 L444.7,902.5 L444.6,902.8 L444.5,903.0 L444.5,903.2 L444.4,903.5 L444.3,903.7 L444.2,903.9 L444.2,904.1 L444.1,904.3 L444.0,904.5 L444.0,904.6 L443.9,904.8 L443.8,905.0 L443.8,905.1 L443.7,905.3 L443.6,905.4 L443.6,905.5 L443.5,905.6 L443.4,905.7 L443.4,905.8 L443.3,905.9 L443.2,906.0 L443.2,906.1 L443.1,906.2 L443.0,906.2 L443.0,906.3 L442.9,906.3 L442.8,906.4 L442.8,906.4 L442.7,906.4 L442.6,906.4 L442.6,906.4" stroke-dasharray="1 1"/>
<path d="M453.0,829.2 L452.0,830.1 L451.0,830.9 L450.0,831.8 L449.1,832.7 L448.1,833.6 L447.1,834.4 L446.1,835.3 L445.1,836.1 L444.1,836.9 L443.2,837.8 L442.2,838.6 L441.2,839.4 L440.2,840.2 L439.2,841.0 L438.3,841.8 L437.3,842.6 L436.3,843.4 L435.3,844.2 L434.3,845.0 L433.4,845.7 L432.4,846.5 L431.4,847.2 L430.4,848.0 L429.4,848.7 L428.5,849.4 L427.5,850.2 L426.5,850.9 L425.5,851.6 L424.6,852.3 L423.6,853.0 L422.6,853.7 L421.6,854.4 L420.7,855.0 L419.7,855.7 L418.7,856.4 L417.7,857.0 L416.8,857.7 L415.8,858.3 L414.8,858.9 L413.9,859.6 L412.9,860.2 L411.9,860.8 L411.0,861.4 L410.0,862.0 L409.0,862.6 L408.1,863.2 L407.1,863.7 L406.2,864.3 L405.2,864.9 L404.2,865.4 L403.3,866.0 L402.3,866.5 L401.4,867.0 L400.4,867.5 L399.4,868.1 L398.5,868.6 L397.5,869.1 L396.6,869.6 L395.6,870.1 L394.7,870.5 L393.7,871.0 L392.8,871.5 L391.8,871.9 L390.9,872.4 L389.9,872.8 L389.0,873.3 L388.1,873.7 L387.1,874.1 L386.2,874.5 L385.2,874.9 L384.3,875.3 L383.4,875.7 L382.4,876.1 L381.5,876.5 L380.6,876.9 L379.6,877.2 L378.7,877.6 L377.8,877.9 L376.9,878.3 L375.9,878.6 L375.0,878.9 L374.1,879.3 L373.2,879.6 L372.3,879.9 L371.3,880.2 L370.4,880.5 L369.5,880.7 L368.6,881.0 L367.7,881.3 L366.8,881.5 L365.9,881.8 L365.0,882.0 L364.1,882.3 L363.2,882.5 L362.3,882.7 L361.4,882.9 L360.5,883.1 L359.6,883.3 L358.7,883.5 L357.8,883.7 L356.9,883.9 L356.0,884.0 L355.1,884.2 L354.2,884.4 L353.3,884.5 L352.5,884.6 L351.6,884.8 L350.7,884.9 L349.8,885.0 L349.0,885.1 L348.1,885.2 L347.2,885.3 L346.4,885.4 L345.5,885.5 L344.6,885.5 L343.8,885.6 L342.9,885.7 L342.1,885.7 L341.2,885.7 L340.3,885.8 L339.5,885.8 L338.6,885.8 L337.8,885.8 L337.0,885.8 L336.1,885.8 L335.3,885.8 L334.4,885.8 L333.6,885.7 L332.8,885.7 L331.9,885.7 L331.1,885.6 L330.3,885.6 L329.5,885.5 L328.6,885.4 L327.8,885.3 L327.0,885.2 L326.2,885.1 L325.4,885.0 L324.6,884.9 L323.8,884.8 L323.0,884.7 L322.2,884.5 L321.4,884.4 L320.6,884.2 L319.8,884.1 L319.0,883.9 L318.2,883.7 L317.4,883.6 L316.6,883.4 L315.8,883.2 L315.1,883.0 L314.3,882.8 L313.5,882.5 L312.7,882.3 L312.0,882.1 L311.2,881.8 L310.5,881.6 L309.7,881.3 L308.9,881.1 L308.2,880.8" stroke-dasharray="8 5"/>
<path d="M453.0,829.2 L451.4,829.7 L449.7,830.1 L448.1,830.6 L446.5,831.1 L444.9,831.5 L443.2,832.0 L441.6,832.4 L440.0,832.9 L438.4,833.3 L436.8,833.7 L435.1,834.2 L433.5,834.6 L431.9,835.0 L430.3,835.4 L428.6,835.8 L427.0,836.2 L425.4,836.5 L423.8,836.9 L422.2,837.3 L420.6,837.7 L418.9,838.0 L417.3,838.4 L415.7,838.7 L414.1,839.0 L412.5,839.4 L410.9,839.7 L409.2,840.0 L407.6,840.3 L406.0,840.6 L404.4,840.9 L402.8,841.2 L401.2,841.5 L399.6,841.7 L398.0,842.0 L396.4,842.3 L394.8,842.5 L393.2,842.8 L391.6,843.0 L390.0,843.2 L388.4,843.5 L386.8,843.7 L385.2,843.9 L383.6,844.1 L382.0,844.3 L380.4,844.5 L378.8,844.7 L377.2,844.9 L375.6,845.0 L374.0,845.2 L372.4,845.4 L370.9,845.5 L369.3,845.7 L367.7,845.8 L366.1,845.9 L364.5,846.0 L363.0,846.2 L361.4,846.3 L359.8,846.4 L358.2,846.5 L356.7,846.6 L355.1,846.7 L353.5,846.7 L352.0,846.8 L350.4,846.9 L348.8,846.9 L347.3,847.0 L345.7,847.0 L344.2,847.0 L342.6,847.1 L341.1,847.1 L339.5,847.1 L338.0,847.1 L336.4,847.1 L334.9,847.1 L333.4,847.1 L331.8,847.1 L330.3,847.1 L328.8,847.0 L327.2,847.0 L325.7,846.9 L324.2,846.9 L322.7,846.8 L321.1,846.7 L319.6,846.7 L318.1,846.6 L316.6,846.5 L315.1,846.4 L313.6,846.3 L312.1,846.2 L310.6,846.1 L309.1,846.0 L307.6,845.8 L306.1,845.7 L304.6,845.6 L303.1,845.4 L301.6,845.2 L300.1,845.1 L298.7,844.9 L297.2,844.7 L295.7,844.6 L294.2,844.4 L292.8,844.2 L291.3,844.0 L289.8,843.7 L288.4,843.5 L286.9,843.3 L285.5,843.1 L284.0,842.8 L282.6,842.6 L281.1,842.3 L279.7,842.1 L278.3,841.8 L276.8,841.5 L275.4,841.3 L274.0,841.0 L272.6,840.7 L271.1,840.4 L269.7,840.1 L268.3,839.8 L266.9,839.5 L265.5,839.1 L264.1,838.8 L262.7,838.5 L261.3,838.1 L259.9,837.8 L258.5,837.4 L257.1,837.0 L255.8,836.7 L254.4,836.3 L253.0,835.9 L251.7,835.5 L250.3,835.1 L248.9,834.7 L247.6,834.3 L246.2,833.9 L244.9,833.4 L243.5,833.0 L242.2,832.6 L240.9,832.1 L239.5,831.7 L238.2,831.2 L236.9,830.7 L235.6,830.3 L234.2,829.8 L232.9,829.3 L231.6,828.8 L230.3,828.3 L229.0,827.8 L227.7,827.3 L226.4,826.8 L225.1,826.3 L223.9,825.7 L222.6,825.2 L221.3,824.7 L220.0,824.1 L218.8,823.5 L217.5,823.0 L216.3,822.4 L215.0,821.8 L213.8,821.3 L212.5,820.7 L211.3,820.1 L210.1,819.5 L208.8,818.9 L207.6,818.3 L206.4,817.6 L205.2,817.0 L204.0,816.4 L202.8,815.7 L201.6,815.1 L200.4,814.4 L199.2,813.8 L198.0,813.1 L196.8,812.5 L195.6,811.8 L194.5,811.1 L193.3,810.4 L192.1,809.7 L191.0,809.0 L189.8,808.3 L188.7,807.6 L187.5,806.9 L186.4,806.2 L185.3,805.4 L184.1,804.7 L183.0,803.9 L181.9,803.2 L180.8,802.4 L179.7,801.7 L178.6,800.9 L177.5,800.1 L176.4,799.4 L175.3,798.6 L174.3,797.8 L173.2,797.0 L172.1,796.2 L171.0,795.4 L170.0,794.6 L168.9,793.7 L167.9,792.9 L166.9,792.1 L165.8,791.2 L164.8,790.4 L163.8,789.5 L162.7,788.7 L161.7,787.8 L160.7,787.0 L159.7,786.1 L158.7,785.2 L157.7,784.3 L156.7,783.4 L155.8,782.5 L154.8,781.6 L153.8,780.7 L152.9,779.8 L151.9,778.9 L150.9,778.0 L150.0,777.1 L149.1,776.1 L148.1,775.2 L147.2,774.2 L146.3,773.3 L145.4,772.3 L144.4,771.4 L143.5,770.4 L142.6,769.4 L141.7,768.5" stroke-dasharray="1 1"/>
<path d="M453.0,829.2 L451.2,829.1 L449.3,829.1 L447.5,829.0 L445.7,828.9 L443.8,828.9 L442.0,828.8 L440.2,828.7 L438.4,828.6 L436.5,828.5 L434.7,828.4 L432.9,828.3 L431.0,828.2 L429.2,828.0 L427.4,827.9 L425.6,827.8 L423.7,827.6 L421.9,827.5 L420.1,827.3 L418.3,827.1 L416.4,827.0 L414.6,826.8 L412.8,826.6 L411.0,826.4 L409.2,826.2 L407.3,826.0 L405.5,825.8 L403.7,825.6 L401.9,825.3 L400.1,825.1 L398.3,824.9 L396.4,824.6 L394.6,824.4 L392.8,824.1 L391.0,823.9 L389.2,823.6 L387.4,823.3 L385.6,823.0 L383.8,822.8 L382.0,822.5 L380.2,822.2 L378.4,821.8 L376.6,821.5 L374.8,821.2 L373.0,820.9 L371.2,820.6 L369.4,820.2 L367.6,819.9 L365.8,819.5 L364.0,819.2 L362.2,818.8 L360.4,818.4 L358.7,818.0 L356.9,817.7 L355.1,817.3 L353.3,816.9 L351.5,816.5 L349.8,816.1 L348.0,815.7 L346.2,815.2 L344.5,814.8 L342.7,814.4 L340.9,813.9 L339.2,813.5 L337.4,813.0 L335.6,812.6 L333.9,812.1 L332.1,811.6 L330.4,811.2 L328.6,810.7 L326.9,810.2 L325.2,809.7 L323.4,809.2 L321.7,808.7 L319.9,808.2 L318.2,807.6 L316.5,807.1 L314.7,806.6 L313.0,806.1 L311.3,805.5 L309.6,805.0 L307.9,804.4 L306.1,803.8 L304.4,803.3 L302.7,802.7 L301.0,802.1 L299.3,801.5 L297.6,800.9 L295.9,800.3 L294.2,799.7 L292.5,799.1 L290.8,798.5 L289.1,797.9 L287.5,797.3 L285.8,796.6 L284.1,796.0 L282.4,795.3 L280.8,794.7 L279.1,794.0 L277.4,793.4 L275.8,792.7 L274.1,792.0 L272.5,791.3 L270.8,790.6 L269.2,789.9 L267.5,789.3 L265.9,788.5 L264.2,787.8 L262.6,787.1 L261.0,786.4 L259.4,785.7 L257.7,784.9 L256.1,784.2 L254.5,783.5 L252.9,782.7 L251.3,782.0 L249.7,781.2 L248.1,780.4 L246.5,779.7 L244.9,778.9 L243.3,778.1 L241.7,777.3 L240.2,776.5 L238.6,775.7 L237.0,774.9 L235.5,774.1 L233.9,773.3 L232.3,772.5 L230.8,771.6 L229.2,770.8 L227.7,770.0 L226.1,769.1 L224.6,768.3 L223.1,767.4 L221.5,766.5 L220.0,765.7 L218.5,764.8 L217.0,763.9 L215.5,763.1 L214.0,762.2 L212.5,761.3 L211.0,760.4 L209.5,759.5 L208.0,758.6 L206.5,757.7 L205.0,756.7 L203.6,755.8 L202.1,754.9 L200.6,754.0 L199.2,753.0 L197.7,752.1 L196.3,751.1 L194.8,750.2 L193.4,749.2 L191.9,748.3 L190.5,747.3 L189.1,746.3 L187.7,745.3 L186.3,744.4 L184.9,743.4 L183.4,742.4 L182.0,741.4 L180.7,740.4 L179.3,739.4 L177.9,738.4 L176.5,737.3 L175.1,736.3 L173.8,735.3 L172.4,734.3 L171.0,733.2 L169.7,732.2 L168.3,731.1 L167.0,730.1 L165.7,729.0 L164.3,728.0 L163.0,726.9 L161.7,725.8 L160.4,724.8 L159.1,723.7 L157.8,722.6 L156.5,721.5 L155.2,720.4 L153.9,719.3 L152.6,718.2 L151.3,717.1 L150.1,716.0 L148.8,714.9 L147.6,713.8 L146.3,712.7 L145.1,711.6 L143.8,710.4 L142.6,709.3 L141.4,708.2 L140.1,707.0 L138.9,705.9 L137.7,704.7 L136.5,703.6 L135.3,702.4 L134.1,701.2 L132.9,700.1 L131.8,698.9 L130.6,697.7 L129.4,696.5 L128.3,695.4 L127.1,694.2 L126.0,693.0 L124.8,691.8 L123.7,690.6 L122.6,689.4 L121.4,688.2 L120.3,687.0 L119.2,685.8 L118.1,684.5 L117.0,683.3 L115.9,682.1 L114.8,680.9 L113.7,679.6 L112.7,678.4 L111.6,677.1 L110.5,675.9 L109.5,674.7 L108.4,673.4 L107.4,672.1 L106.4,670.9 L105.3,669.6 L104.3,668.4 L103.3,667.1 L102.3,665.8 L101.3,664.5 L100.3,663.3 L99.3,662.0 L98.3,660.7 L97.4,659.4 L96.4,658.1 L95.5,656.8 L94.5,655.5 L93.6,654.2 L92.6,652.9 L91.7,651.6 L90.8,650.3 L89.8,649.0 L88.9,647.7 L88.0,646.3 L87.1,645.0 L86.2,643.7 L85.4,642.4 L84.5,641.0 L83.6,639.7 L82.7,638.3 L81.9,637.0 L81.0,635.7 L80.2,634.3 L79.4,633.0 L78.5,631.6 L77.7,630.3 L76.9,628.9 L76.1,627.5 L75.3,626.2 L74.5,624.8 L73.7,623.4 L72.9,622.1 L72.2,620.7 L71.4,619.3 L70.7,617.9 L69.9,616.6 L69.2,615.2 L68.4,613.8 L67.7,612.4 L67.0,611.0 L66.3,609.6 L65.6,608.2 L64.9,606.8 L64.2,605.4 L63.5,604.0 L62.8,602.6 L62.2,601.2 L61.5,599.8 L60.9,598.4 L60.2,597.0 L59.6,595.5 L58.9,594.1 L58.3,592.7 L57.7,591.3 L57.1,589.9 L56.5,588.4 L55.9,587.0 L55.3,585.6 L54.8,584.1 L54.2,582.7 L53.6,581.3 L53.1,579.8 L52.5,578.4 L52.0,577.0 L51.4,575.5 L50.9,574.1 L50.4,572.6 L49.9,571.2 L49.4,569.7 L48.9,568.3 L48.4,566.8" stroke-dasharray="8 5"/>
<path d="M48.4,566.8 L47.9,565.4 L47.5,563.9 L47.0,562.5 L46.6,561.0 L46.1,559.5 L45.7,558.1 L45.2,556.6 L44.8,555.2 L44.4,553.7 L44.0,552.2 L43.6,550.8 L43.2,549.3 L42.8,547.8 L42.4,546.4 L42.1,544.9 L41.7,543.4 L41.4,541.9 L41.0,540.5 L40.7,539.0 L40.3,537.5 L40.0,536.0 L39.7,534.5 L39.4,533.1 L39.1,531.6 L38.8,530.1 L38.5,528.6 L38.3,527.1 L38.0,525.7 L37.7,524.2 L37.5,522.7 L37.2,521.2 L37.0,519.7 L36.8,518.2 L36.6,516.7 L36.4,515.2 L36.1,513.8 L36.0,512.3 L35.8,510.8 L35.6,509.3 L35.4,507.8 L35.3,506.3 L35.1,504.8 L35.0,503.3 L34.8,501.8 L34.7,500.3 L34.6,498.8 L34.4,497.3 L34.3,495.8 L34.2,494.4 L34.1,492.9 L34.1,491.4 L34.0,489.9 L33.9,488.4 L33.9,486.9 L33.8,485.4 L33.8,483.9 L33.7,482.4 L33.7,480.9 L33.7,479.4 L33.7,477.9 L33.7,476.4 L33.7,474.9 L33.7,473.4 L33.7,471.9 L33.7,470.5 L33.8,469.0 L33.8,467.5 L33.9,466.0 L33.9,464.5 L34.0,463.0 L34.1,461.5 L34.1,460.0 L34.2,458.5 L34.3,457.0" stroke-dasharray="1 1"/>
<path d="M453.0,829.2 L451.4,828.6 L449.9,828.0 L448.4,827.4 L446.8,826.8 L445.3,826.2 L443.7,825.6 L442.2,825.0 L440.6,824.4 L439.1,823.8 L437.5,823.2 L436.0,822.5 L434.5,821.9 L432.9,821.2 L431.4,820.6 L429.8,819.9 L428.3,819.2 L426.7,818.6 L425.2,817.9 L423.7,817.2 L422.1,816.5 L420.6,815.8 L419.0,815.1 L417.5,814.4 L416.0,813.7 L414.4,812.9 L412.9,812.2 L411.4,811.5 L409.8,810.7 L408.3,810.0 L406.8,809.2 L405.2,808.5 L403.7,807.7 L402.2,806.9 L400.6,806.1 L399.1,805.4 L397.6,804.6 L396.1,803.8 L394.5,803.0 L393.0,802.1 L391.5,801.3 L390.0,800.5 L388.5,799.7 L386.9,798.8 L385.4,798.0 L383.9,797.2 L382.4,796.3 L380.9,795.4 L379.4,794.6 L377.9,793.7 L376.3,792.8 L374.8,792.0 L373.3,791.1 L371.8,790.2 L370.3,789.3 L368.8,788.4 L367.3,787.5 L365.8,786.5 L364.3,785.6 L362.8,784.7 L361.3,783.8 L359.8,782.8 L358.4,781.9 L356.9,780.9 L355.4,780.0 L353.9,779.0 L352.4,778.0 L350.9,777.1 L349.5,776.1 L348.0,775.1 L346.5,774.1 L345.0,773.1 L343.6,772.1 L342.1,771.1 L340.6,770.1 L339.2,769.1 L337.7,768.1 L336.2,767.0 L334.8,766.0 L333.3,765.0 L331.9,763.9 L330.4,762.9 L329.0,761.8 L327.5,760.8 L326.1,759.7 L324.6,758.6 L323.2,757.6 L321.8,756.5 L320.3,755.4 L318.9,754.3 L317.5,753.2 L316.0,752.1 L314.6,751.0 L313.2,749.9 L311.8,748.8 L310.4,747.7 L309.0,746.5 L307.5,745.4 L306.1,744.3 L304.7,743.1 L303.3,742.0 L301.9,740.9 L300.5,739.7 L299.1,738.5 L297.7,737.4 L296.4,736.2 L295.0,735.0 L293.6,733.9 L292.2,732.7 L290.8,731.5 L289.5,730.3 L288.1,729.1 L286.7,727.9 L285.4,726.7 L284.0,725.5 L282.7,724.3 L281.3,723.0 L280.0,721.8 L278.6,720.6 L277.3,719.4 L275.9,718.1 L274.6,716.9 L273.3,715.6 L271.9,714.4 L270.6,713.1 L269.3,711.9 L268.0,710.6 L266.6,709.3 L265.3,708.1 L264.0,706.8 L262.7,705.5 L261.4,704.2 L260.1,702.9 L258.8,701.6 L257.5,700.4 L256.2,699.1 L255.0,697.7 L253.7,696.4 L252.4,695.1 L251.1,693.8 L249.9,692.5 L248.6,691.2 L247.3,689.8 L246.1,688.5 L244.8,687.2 L243.6,685.8 L242.3,684.5 L241.1,683.1 L239.9,681.8 L238.6,680.4 L237.4,679.1 L236.2,677.7 L235.0,676.3 L233.7,675.0 L232.5,673.6 L231.3,672.2 L230.1,670.8 L228.9,669.5 L227.7,668.1 L226.5,666.7 L225.4,665.3 L224.2,663.9 L223.0,662.5 L221.8,661.1 L220.7,659.7 L219.5,658.3 L218.3,656.9 L217.2,655.4 L216.0,654.0 L214.9,652.6 L213.7,651.2 L212.6,649.7 L211.5,648.3 L210.3,646.9 L209.2,645.4 L208.1,644.0 L207.0,642.5 L205.9,641.1 L204.8,639.6 L203.7,638.2 L202.6,636.7 L201.5,635.3 L200.4,633.8 L199.3,632.3 L198.2,630.9 L197.2,629.4 L196.1,627.9 L195.0,626.4 L194.0,625.0 L192.9,623.5 L191.9,622.0 L190.9,620.5 L189.8,619.0 L188.8,617.5 L187.8,616.0 L186.7,614.5 L185.7,613.0 L184.7,611.5 L183.7,610.0 L182.7,608.5 L181.7,607.0 L180.7,605.5 L179.7,604.0 L178.7,602.5 L177.8,601.0 L176.8,599.4 L175.8,597.9 L174.9,596.4 L173.9,594.9 L173.0,593.3 L172.0,591.8 L171.1,590.3 L170.2,588.8 L169.2,587.2 L168.3,585.7 L167.4,584.1 L166.5,582.6 L165.6,581.1 L164.7,579.5 L163.8,578.0 L162.9,576.4 L162.0,574.9 L161.1,573.3 L160.3,571.8" stroke-dasharray="8 5"/>
<path d="M160.3,571.8 L159.4,570.2 L158.5,568.6 L157.7,567.1 L156.8,565.5 L156.0,564.0 L155.1,562.4 L154.3,560.8 L153.5,559.3 L152.7,557.7 L151.8,556.1 L151.0,554.6 L150.2,553.0 L149.4,551.4 L148.6,549.8 L147.9,548.3 L147.1,546.7" stroke-dasharray="1 1"/>
<path d="M147.1,546.7 L146.3,545.1" stroke-dasharray="8 5"/>
<path d="M146.3,545.1 L145.5,543.5 L144.8,542.0 L144.0,540.4 L143.3,538.8 L142.5,537.2 L141.8,535.6 L141.0,534.0 L140.3,532.5 L139.6,530.9 L138.9,529.3 L138.2,527.7 L137.5,526.1 L136.8,524.5 L136.1,522.9 L135.4,521.3 L134.7,519.7 L134.0,518.2 L133.4,516.6 L132.7,515.0 L132.0,513.4 L131.4,511.8 L130.7,510.2 L130.1,508.6 L129.5,507.0 L128.8,505.4 L128.2,503.8 L127.6,502.2 L127.0,500.6 L126.4,499.0 L125.8,497.4 L125.2,495.8 L124.6,494.2 L124.1,492.6 L123.5,491.0 L122.9,489.4 L122.4,487.8 L121.8,486.2 L121.3,484.6 L120.7,483.0 L120.2,481.4 L119.7,479.8 L119.2,478.2 L118.7,476.6 L118.1,475.0 L117.6,473.4 L117.2,471.8 L116.7,470.3 L116.2,468.7 L115.7,467.1 L115.2,465.5 L114.8,463.9 L114.3,462.3 L113.9,460.7 L113.4,459.1 L113.0,457.5 L112.6,455.9 L112.2,454.3 L111.7,452.7 L111.3,451.1 L110.9,449.5 L110.5,447.9 L110.1,446.4 L109.8,444.8 L109.4,443.2 L109.0,441.6 L108.6,440.0 L108.3,438.4 L107.9,436.8 L107.6,435.3 L107.2,433.7 L106.9,432.1 L106.6,430.5 L106.3,428.9 L106.0,427.4 L105.7,425.8 L105.4,424.2 L105.1,422.6 L104.8,421.1 L104.5,419.5 L104.2,417.9 L104.0,416.3 L103.7,414.8 L103.5,413.2 L103.2,411.6 L103.0,410.1 L102.7,408.5 L102.5,407.0 L102.3,405.4 L102.1,403.8 L101.9,402.3 L101.7,400.7 L101.5,399.2 L101.3,397.6 L101.1,396.1 L101.0,394.5 L100.8,393.0 L100.6,391.4 L100.5,389.9 L100.3,388.4 L100.2,386.8 L100.1,385.3 L99.9,383.8 L99.8,382.2 L99.7,380.7 L99.6,379.2 L99.5,377.6 L99.4,376.1 L99.3,374.6 L99.3,373.1 L99.2,371.6 L99.1,370.0 L99.1,368.5 L99.0,367.0 L99.0,365.5 L98.9,364.0 L98.9,362.5 L98.9,361.0 L98.9,359.5 L98.9,358.0 L98.9,356.5 L98.9,355.0 L98.9,353.5 L98.9,352.0 L98.9,350.5 L98.9,349.1 L99.0,347.6 L99.0,346.1 L99.1,344.6 L99.1,343.2 L99.2,341.7 L99.3,340.2 L99.3,338.8 L99.4,337.3 L99.5,335.8 L99.6,334.4 L99.7,332.9 L99.8,331.5 L99.9,330.0 L100.1,328.6 L100.2,327.2 L100.3,325.7 L100.5,324.3 L100.6,322.9 L100.8,321.4 L101.0,320.0 L101.1,318.6 L101.3,317.2 L101.5,315.8 L101.7,314.3 L101.9,312.9 L102.1,311.5 L102.3,310.1 L102.5,308.7 L102.7,307.3 L103.0,305.9 L103.2,304.6 L103.5,303.2 L103.7,301.8 L104.0,300.4 L104.2,299.0 L104.5,297.7 L104.8,296.3 L105.1,294.9 L105.4,293.6 L105.7,292.2 L106.0,290.9 L106.3,289.5 L106.6,288.2 L106.9,286.8 L107.2,285.5 L107.6,284.2 L107.9,282.8 L108.3,281.5 L108.6,280.2 L109.0,278.9 L109.4,277.6 L109.8,276.2 L110.1,274.9 L110.5,273.6 L110.9,272.3 L111.3,271.0 L111.7,269.8 L112.2,268.5 L112.6,267.2 L113.0,265.9 L113.4,264.6 L113.9,263.4 L114.3,262.1 L114.8,260.9 L115.2,259.6 L115.7,258.3 L116.2,257.1 L116.7,255.9 L117.2,254.6 L117.6,253.4 L118.1,252.2 L118.7,250.9 L119.2,249.7 L119.7,248.5 L120.2,247.3 L120.7,246.1 L121.3,244.9 L121.8,243.7 L122.4,242.5 L122.9,241.3 L123.5,240.1 L124.1,238.9 L124.6,237.8 L125.2,236.6 L125.8,235.4 L126.4,234.3 L127.0,233.1 L127.6,232.0 L128.2,230.8 L128.8,229.7 L129.5,228.5 L130.1,227.4 L130.7,226.3 L131.4,225.2 L132.0,224.0 L132.7,222.9 L133.4,221.8 L134.0,220.7 L134.7,219.6 L135.4,218.5 L136.1,217.5 L136.8,216.4 L137.5,215.3 L138.2,214.2 L138.9,213.2 L139.6,212.1 L140.3,211.1 L141.0,210.0 L141.8,209.0 L142.5,207.9 L143.3,206.9 L144.0,205.9 L144.8,204.8 L145.5,203.8" stroke-dasharray="1 1"/>
<path d="M145.5,203.8 L146.3,202.8" stroke-dasharray="8 5"/>
<path d="M146.3,202.8 L147.1,201.8 L147.9,200.8 L148.6,199.8 L149.4,198.8 L150.2,197.8 L151.0,196.9 L151.8,195.9 L152.7,194.9 L153.5,193.9 L154.3,193.0 L155.1,192.0 L156.0,191.1 L156.8,190.2 L157.7,189.2 L158.5,188.3 L159.4,187.4 L160.3,186.4 L161.1,185.5 L162.0,184.6 L162.9,183.7 L163.8,182.8 L164.7,181.9 L165.6,181.1 L166.5,180.2 L167.4,179.3 L168.3,178.5 L169.2,177.6 L170.2,176.7" stroke-dasharray="1 1"/>
<path d="M453.0,829.2 L452.1,828.2 L451.3,827.3 L450.4,826.3 L449.6,825.4 L448.8,824.4 L447.9,823.4 L447.1,822.4 L446.2,821.4 L445.4,820.4 L444.5,819.4 L443.7,818.4 L442.8,817.4 L442.0,816.4 L441.1,815.4 L440.3,814.3 L439.5,813.3 L438.6,812.3 L437.8,811.2 L436.9,810.2 L436.1,809.1 L435.2,808.0 L434.4,807.0 L433.5,805.9 L432.7,804.8 L431.9,803.7 L431.0,802.6 L430.2,801.5 L429.3,800.4 L428.5,799.3 L427.7,798.1 L426.8,797.0 L426.0,795.9 L425.1,794.7 L424.3,793.6 L423.5,792.4 L422.6,791.3 L421.8,790.1 L421.0,788.9 L420.1,787.8 L419.3,786.6 L418.5,785.4 L417.6,784.2 L416.8,783.0 L416.0,781.8 L415.1,780.6 L414.3,779.4 L413.5,778.1 L412.6,776.9 L411.8,775.7 L411.0,774.4 L410.2,773.2 L409.3,771.9 L408.5,770.7 L407.7,769.4 L406.9,768.2 L406.0,766.9 L405.2,765.6 L404.4,764.3 L403.6,763.1 L402.8,761.8 L401.9,760.5 L401.1,759.2 L400.3,757.9 L399.5,756.5 L398.7,755.2 L397.9,753.9 L397.1,752.6 L396.3,751.2 L395.4,749.9 L394.6,748.6 L393.8,747.2 L393.0,745.9 L392.2,744.5 L391.4,743.1 L390.6,741.8 L389.8,740.4 L389.0,739.0 L388.2,737.6 L387.4,736.3 L386.6,734.9 L385.8,733.5 L385.0,732.1 L384.2,730.7 L383.4,729.3 L382.7,727.8 L381.9,726.4 L381.1,725.0 L380.3,723.6 L379.5,722.1 L378.7,720.7" stroke-dasharray="8 5"/>
<path d="M378.7,720.7 L377.9,719.3 L377.2,717.8 L376.4,716.4 L375.6,714.9 L374.8,713.4 L374.1,712.0 L373.3,710.5 L372.5,709.0 L371.7,707.6 L371.0,706.1 L370.2,704.6 L369.4,703.1 L368.7,701.6 L367.9,700.1 L367.2,698.6 L366.4,697.1 L365.6,695.6 L364.9,694.1 L364.1,692.6 L363.4,691.0 L362.6,689.5 L361.9,688.0 L361.1,686.5 L360.4,684.9 L359.7,683.4 L358.9,681.8 L358.2,680.3 L357.4,678.7 L356.7,677.2 L356.0,675.6 L355.2,674.1 L354.5,672.5 L353.8,670.9 L353.0,669.4 L352.3,667.8 L351.6,666.2 L350.9,664.6 L350.2,663.0 L349.4,661.4 L348.7,659.8 L348.0,658.2 L347.3,656.6 L346.6,655.0 L345.9,653.4 L345.2,651.8 L344.5,650.2 L343.8,648.6 L343.1,647.0 L342.4,645.4 L341.7,643.7 L341.0,642.1 L340.3,640.5 L339.6,638.8 L338.9,637.2 L338.2,635.6 L337.6,633.9 L336.9,632.3 L336.2,630.6 L335.5,629.0 L334.9,627.3 L334.2,625.7 L333.5,624.0 L332.9,622.4 L332.2,620.7 L331.5,619.0 L330.9,617.4 L330.2,615.7 L329.6,614.0 L328.9,612.3 L328.3,610.7 L327.6,609.0 L327.0,607.3 L326.3,605.6 L325.7,603.9 L325.0,602.2 L324.4,600.5 L323.8,598.8 L323.1,597.1 L322.5,595.4 L321.9,593.7 L321.3,592.0 L320.6,590.3 L320.0,588.6 L319.4,586.9 L318.8,585.2 L318.2,583.5 L317.6,581.8 L317.0,580.1 L316.4,578.3 L315.8,576.6 L315.2,574.9 L314.6,573.2 L314.0,571.5 L313.4,569.7 L312.8,568.0 L312.2,566.3 L311.7,564.5 L311.1,562.8 L310.5,561.1 L309.9,559.3 L309.4,557.6 L308.8,555.9 L308.2,554.1 L307.7,552.4 L307.1,550.6 L306.5,548.9 L306.0,547.2 L305.4,545.4 L304.9,543.7 L304.3,541.9 L303.8,540.2 L303.3,538.4 L302.7,536.7 L302.2,534.9 L301.7,533.2 L301.1,531.4 L300.6,529.7 L300.1,527.9 L299.6,526.1 L299.0,524.4 L298.5,522.6 L298.0,520.9 L297.5,519.1 L297.0,517.4 L296.5,515.6 L296.0,513.8 L295.5,512.1 L295.0,510.3 L294.5,508.5 L294.0,506.8 L293.6,505.0 L293.1,503.3 L292.6,501.5 L292.1,499.7 L291.6,498.0 L291.2,496.2 L290.7,494.4 L290.2,492.7 L289.8,490.9 L289.3,489.1 L288.9,487.4 L288.4,485.6 L288.0,483.9 L287.5,482.1 L287.1,480.3 L286.7,478.6 L286.2,476.8 L285.8,475.0 L285.4,473.3 L284.9,471.5 L284.5,469.7 L284.1,468.0 L283.7,466.2 L283.3,464.5 L282.9,462.7 L282.5,460.9 L282.1,459.2 L281.7,457.4 L281.3,455.6 L280.9,453.9 L280.5,452.1 L280.1,450.4 L279.7,448.6 L279.3,446.9 L279.0,445.1 L278.6,443.4 L278.2,441.6 L277.8,439.8 L277.5,438.1 L277.1,436.3 L276.8,434.6 L276.4,432.8 L276.1,431.1 L275.7,429.3 L275.4,427.6 L275.0,425.9 L274.7,424.1 L274.4,422.4 L274.0,420.6 L273.7,418.9 L273.4,417.1 L273.1,415.4 L272.8,413.7 L272.4,411.9 L272.1,410.2 L271.8,408.5 L271.5,406.7 L271.2,405.0 L270.9,403.3 L270.6,401.6 L270.4,399.8 L270.1,398.1 L269.8,396.4 L269.5,394.7 L269.2,393.0 L269.0,391.2 L268.7,389.5 L268.4,387.8 L268.2,386.1 L267.9,384.4 L267.7,382.7 L267.4,381.0 L267.2,379.3 L266.9,377.6 L266.7,375.9 L266.5,374.2 L266.2,372.5 L266.0,370.8 L265.8,369.1 L265.6,367.4 L265.3,365.7 L265.1,364.1 L264.9,362.4 L264.7,360.7 L264.5,359.0 L264.3,357.4 L264.1,355.7 L263.9,354.0 L263.7,352.4 L263.5,350.7 L263.4,349.0 L263.2,347.4 L263.0,345.7 L262.8,344.1 L262.7,342.4 L262.5,340.8 L262.3,339.1 L262.2,337.5 L262.0,335.8 L261.9,334.2 L261.7,332.6 L261.6,330.9 L261.5,329.3 L261.3,327.7 L261.2,326.1 L261.1,324.5 L260.9,322.8 L260.8,321.2 L260.7,319.6 L260.6,318.0 L260.5,316.4 L260.4,314.8 L260.3,313.2 L260.2,311.6 L260.1,310.0 L260.0,308.5 L259.9,306.9 L259.8,305.3 L259.8,303.7 L259.7,302.2 L259.6,300.6 L259.5,299.0 L259.5,297.5 L259.4,295.9 L259.4,294.3 L259.3,292.8 L259.3,291.2 L259.2,289.7 L259.2,288.2 L259.1,286.6 L259.1,285.1 L259.1,283.6 L259.0,282.1 L259.0,280.5 L259.0,279.0 L259.0,277.5 L259.0,276.0 L258.9,274.5 L258.9,273.0 L258.9,271.5 L258.9,270.0 L258.9,268.5 L259.0,267.0 L259.0,265.6 L259.0,264.1 L259.0,262.6 L259.0,261.1 L259.1,259.7 L259.1,258.2 L259.1,256.8 L259.2,255.3 L259.2,253.9 L259.3,252.4 L259.3,251.0 L259.4,249.6 L259.4,248.1 L259.5,246.7 L259.5,245.3 L259.6,243.9 L259.7,242.5 L259.8,241.1 L259.8,239.7 L259.9,238.3 L260.0,236.9 L260.1,235.5 L260.2,234.1 L260.3,232.8 L260.4,231.4 L260.5,230.0 L260.6,228.7 L260.7,227.3 L260.8,226.0 L260.9,224.6 L261.1,223.3 L261.2,221.9 L261.3,220.6 L261.5,219.3 L261.6,218.0 L261.7,216.6 L261.9,215.3 L262.0,214.0 L262.2,212.7 L262.3,211.4 L262.5,210.1 L262.7,208.9 L262.8,207.6 L263.0,206.3 L263.2,205.0 L263.4,203.8 L263.5,202.5 L263.7,201.3 L263.9,200.0 L264.1,198.8 L264.3,197.5 L264.5,196.3 L264.7,195.1 L264.9,193.9 L265.1,192.6 L265.3,191.4 L265.6,190.2 L265.8,189.0 L266.0,187.9 L266.2,186.7 L266.5,185.5 L266.7,184.3 L266.9,183.1 L267.2,182.0 L267.4,180.8 L267.7,179.7 L267.9,178.5 L268.2,177.4 L268.4,176.3 L268.7,175.1 L269.0,174.0 L269.2,172.9 L269.5,171.8 L269.8,170.7 L270.1,169.6 L270.4,168.5 L270.6,167.4 L270.9,166.3 L271.2,165.3 L271.5,164.2 L271.8,163.1 L272.1,162.1 L272.4,161.0 L272.8,160.0 L273.1,158.9 L273.4,157.9 L273.7,156.9 L274.0,155.9 L274.4,154.9 L274.7,153.9 L275.0,152.9 L275.4,151.9 L275.7,150.9 L276.1,149.9 L276.4,148.9 L276.8,148.0 L277.1,147.0 L277.5,146.1 L277.8,145.1 L278.2,144.2 L278.6,143.2 L279.0,142.3 L279.3,141.4 L279.7,140.5 L280.1,139.6 L280.5,138.7 L280.9,137.8 L281.3,136.9 L281.7,136.0 L282.1,135.1 L282.5,134.3 L282.9,133.4 L283.3,132.5 L283.7,131.7 L284.1,130.9 L284.5,130.0 L284.9,129.2 L285.4,128.4 L285.8,127.6 L286.2,126.8 L286.7,126.0 L287.1,125.2 L287.5,124.4 L288.0,123.6 L288.4,122.8 L288.9,122.1 L289.3,121.3 L289.8,120.6 L290.2,119.8 L290.7,119.1 L291.2,118.3 L291.6,117.6 L292.1,116.9 L292.6,116.2 L293.1,115.5 L293.6,114.8 L294.0,114.1 L294.5,113.4 L295.0,112.8 L295.5,112.1 L296.0,111.4 L296.5,110.8 L297.0,110.1 L297.5,109.5 L298.0,108.9 L298.5,108.2 L299.0,107.6 L299.6,107.0 L300.1,106.4 L300.6,105.8 L301.1,105.2 L301.7,104.6 L302.2,104.1 L302.7,103.5 L303.3,102.9 L303.8,102.4 L304.3,101.9 L304.9,101.3 L305.4,100.8 L306.0,100.3 L306.5,99.7 L307.1,99.2 L307.7,98.7 L308.2,98.3 L308.8,97.8 L309.4,97.3 L309.9,96.8 L310.5,96.4 L311.1,95.9 L311.7,95.5 L312.2,95.0 L312.8,94.6 L313.4,94.2 L314.0,93.7 L314.6,93.3 L315.2,92.9 L315.8,92.5 L316.4,92.1 L317.0,91.8 L317.6,91.4 L318.2,91.0 L318.8,90.7 L319.4,90.3 L320.0,90.0 L320.6,89.6 L321.3,89.3 L321.9,89.0 L322.5,88.7 L323.1,88.4 L323.8,88.1 L324.4,87.8 L325.0,87.5 L325.7,87.2 L326.3,87.0 L327.0,86.7 L327.6,86.4 L328.3,86.2 L328.9,86.0 L329.6,85.7 L330.2,85.5 L330.9,85.3 L331.5,85.1" stroke-dasharray="1 1"/>
</g>
<g fill="none" stroke="#000" stroke-width="1" stroke-linejoin="round">
<path d="M186.4,380.6 L183.7,379.3 L179.8,380.6 L177.1,383.2 L170.5,385.9 L165.2,386.5 L162.6,389.8 L154.6,391.8 L151.3,394.4 L154.6,396.4 L152.0,401.7 L150.7,409.6 L152.0,414.9 L153.3,419.6 L146.7,420.9 L145.4,426.8 L144.7,421.5 L141.4,419.6 L137.5,418.9 L133.5,425.5 L130.9,433.4 L131.6,440.0 L127.4,444.8 L125.0,448.4 L124.4,452.0 L123.2,455.5 L125.0,461.5 L123.8,465.1 L123.2,475.9 L120.2,479.5 L117.2,484.2 L114.8,491.4 L110.7,495.0 L109.5,497.4 L108.3,504.6 L106.5,511.7 L105.9,516.5 L107.7,523.7 L108.3,529.7 L112.5,534.5 L116.0,539.3 L116.0,542.8 L113.6,542.8 L116.6,546.4 L122.6,552.4 L128.6,556.6 L131.1,561.2 L139.1,570.4 L141.7,575.7 L143.7,583.7 L146.3,587.0 L152.3,587.0 L156.9,583.7 L157.6,575.7 L159.6,570.4 L165.5,565.1 L170.8,561.2 L170.8,551.9 L173.4,544.0 L178.7,540.0 L182.7,534.8 L186.6,528.1 L194.6,522.2 L202.5,522.9 L207.8,521.5 L211.8,524.8 L215.7,526.2 L221.0,532.1 L222.0,534.4 L224.1,533.7 L226.2,523.9 L226.9,514.2 L228.9,517.0 L230.3,525.3 L229.6,533.7 L232.4,525.3 L235.9,528.1 L237.3,532.3 L239.4,531.6 L244.3,533.7 L247.1,536.5 L252.7,544.8 L256.8,546.2 L263.8,546.2 L270.1,544.8 L272.2,537.9 L275.0,535.8 L277.8,539.3 L283.3,540.7 L284.7,542.0 L287.5,536.5 L288.9,530.9 L293.1,528.1 L298.7,526.0 L299.4,522.5 L298.0,512.8 L297.3,505.8 L298.7,496.0 L300.1,490.4 L302.9,486.3 L303.6,477.9 L304.3,464.0 L304.3,457.0 L302.2,450.0 L301.8,449.7 L297.8,445.7 L297.1,435.1 L296.5,428.5 L292.5,431.2 L285.9,427.2 L280.6,425.9 L280.6,421.9 L277.3,416.6 L274.0,420.0 L271.4,419.3 L269.4,411.4 L266.1,408.7 L263.4,405.4 L255.5,404.1 L252.9,402.1 L248.9,402.8 L247.6,400.8 L244.3,392.9 L242.3,388.9 L239.6,386.3 L238.3,378.3 L236.3,375.7 L231.7,373.7 L227.8,376.3 L224.4,367.8 L220.5,361.1 L218.5,356.5 L216.5,355.6 L214.5,357.2 L214.5,366.4 L212.6,368.4 L213.9,370.4 L213.2,375.7 L214.5,383.6 L216.5,390.2 L215.9,400.8 L213.2,404.8 L209.9,407.4 L205.9,406.1 L205.3,402.1 L200.0,404.1 L194.3,403.7 L187.7,403.0 L181.1,400.4 L180.4,396.4 L181.1,388.5 L183.7,384.5 Z"/>
<path d="M280.6,556.0 L291.7,556.0 L297.3,550.4 L300.1,551.8 L302.2,567.2 L298.7,570.0 L295.2,572.7 L291.7,567.2 L287.5,564.4 L283.3,560.2 Z"/>
<path d="M229.0,538.0 L233.0,536.5 L236.0,538.0 L232.0,540.5 Z"/>
<path d="M436.8,499.9 L441.8,497.9 L442.8,500.4 L444.8,502.9 L449.7,506.4 L455.7,503.4 L459.2,504.9 L457.7,509.9 L455.7,514.9 L451.7,514.9 L448.7,518.9 L446.8,524.8 L444.8,528.8 L441.8,532.3 L437.8,529.8 L439.8,526.8 L441.3,522.4 L436.8,520.4 L432.8,517.4 L432.3,515.4 L434.8,513.9 L436.8,511.9 L436.8,506.9 L437.8,503.9 Z"/>
<path d="M426.8,525.3 L428.8,526.8 L430.8,530.8 L434.3,528.8 L435.8,531.3 L435.3,534.8 L431.8,539.8 L427.8,544.8 L426.8,548.7 L422.8,550.7 L419.9,553.7 L419.9,559.7 L416.9,564.7 L413.9,567.7 L411.4,570.7 L407.9,570.2 L402.9,567.7 L398.9,569.2 L397.9,566.7 L398.4,562.7 L399.9,558.7 L403.9,554.7 L405.9,551.7 L409.9,549.7 L414.9,545.8 L417.9,543.8 L419.4,539.8 L420.9,534.8 L422.8,530.8 L423.8,527.8 Z"/>
<path d="M403.4,576.6 L405.4,572.6 L407.4,575.6 Z"/>
<path d="M553.7,776.0 L552.1,785.9 L545.5,781.0 L538.9,776.0 L535.6,772.7 L525.6,772.7 L517.4,771.9 L510.8,772.7 L509.1,776.0 L502.5,777.6 L495.9,772.7 L492.6,771.0 L489.3,774.3 L492.6,776.0 L489.3,781.0 L492.6,784.3 L495.9,789.2 L494.3,795.0 L489.3,795.8 L486.0,793.3 L482.7,790.9 L481.0,794.2 L482.7,797.5 L479.4,802.4 L476.1,807.4 L477.7,812.3 L472.8,812.3 L467.8,810.7 L461.2,805.7 L454.6,804.1 L443.0,797.5 L435.6,792.5 L431.5,785.9 L429.8,779.3 L431.5,772.7 L426.5,766.1 L427.3,761.1 L425.7,756.2 L429.8,751.2 L434.8,747.9 L437.3,743.0 L436.4,734.7 L426.5,730.6 L419.9,731.4 L413.7,729.7 L408.8,727.3 L402.2,725.6 L395.6,726.4 L392.3,724.0 L389.0,726.4 L384.0,725.6 L377.4,725.6 L369.1,724.8 L366.6,722.3 L362.5,723.1 L360.0,722.3 L355.9,724.8 L347.6,724.8 L339.4,726.1 L334.4,728.1 L329.5,732.2 L330.3,735.5 L331.1,739.6 L322.9,739.6 L319.6,743.8 L315.4,746.3 L313.8,749.6 L311.3,753.7 L304.7,754.5 L299.7,756.2 L298.1,761.1 L300.6,767.7 L294.8,769.4 L289.0,771.0 L286.5,777.6 L288.2,784.3 L286.5,789.2 L286.5,799.1 L283.2,800.0 L288.2,801.6 L291.5,812.3 L297.3,817.3 L302.2,821.4 L308.0,823.9 L314.6,828.9 L319.6,832.2 L322.9,833.0 L322.0,837.1 L317.9,836.3 L313.0,834.6 L308.0,833.0 L302.9,832.9 L305.9,839.8 L308.8,849.7 L311.8,851.7 L309.8,853.7 L315.8,857.7 L325.7,861.6 L333.6,865.6 L345.5,869.6 L359.4,872.5 L362.4,875.5 L361.4,877.5 L373.3,878.5 L385.2,881.5 L399.0,885.4 L412.9,888.4 L424.8,889.8 L436.7,890.4 L448.6,890.4 L462.5,889.4 L466.4,888.4 L470.0,889.0"/>
<path d="M540.0,778.2 L550.6,785.2 L552.3,776.4 L554.1,781.7 L557.6,787.0 L556.7,792.3 L557.6,797.6 L558.5,802.9 L559.4,809.0 L564.7,806.4 L568.2,804.6 L571.7,802.9 L575.2,801.1 L574.4,808.1 L575.2,815.2 L577.0,818.7 L573.5,824.0 L570.0,827.5 L568.2,832.8 L571.7,831.1 L568.2,836.3 L566.4,839.9"/>
<path d="M153.1,319.3 L156.2,317.0 L160.8,315.4 L165.4,317.0 L166.2,322.4 L173.1,316.2 L179.3,313.1 L185.5,309.3 L196.3,308.5 L204.0,307.7 L214.8,306.2 L225.5,306.2 L231.7,309.3 L234.0,313.1 L239.4,313.9 L244.8,313.9 L246.4,317.8 L242.5,320.1 L244.0,323.1 L250.2,327.0 L254.8,330.9 L259.5,331.6 L264.1,333.2 L266.4,334.7 L264.1,337.8 L257.9,338.6 L250.2,339.3 L245.6,339.3 L241.0,334.7 L234.8,330.9 L227.1,330.1 L222.5,331.6 L220.9,336.3 L220.2,342.4 L216.3,346.3 L207.0,348.6 L200.9,344.7 L196.3,347.0 L193.2,344.0 L191.6,339.3 L188.5,334.7 L183.9,332.4 L176.2,333.2 L168.5,331.6 L165.4,330.1 L162.3,328.5 L159.3,327.8 L153.1,327.0 Z"/>
<path d="M466.4,888.4 L468.8,887.5 L475.9,884.0 L479.4,880.5 L486.4,877.0 L491.7,873.4 L497.0,869.9 L500.5,866.4 L497.0,862.9 L491.7,861.1 L486.4,861.1 L491.7,855.8 L493.5,850.5 L497.9,846.1 L498.8,843.5 L505.8,841.7 L516.4,836.4 L523.4,833.8 L527.0,832.9 L532.2,832.0 L535.8,834.7 L542.8,829.4 L548.1,828.5 L552.5,832.0 L549.9,836.4 L546.3,840.0 L544.6,845.2 L548.1,848.8 L551.6,851.4 L558.7,852.3 L569.3,853.2 L574.5,852.3 L583.3,850.5 L593.9,848.8 L601.0,845.2 L608.0,847.9 L609.8,852.3 L606.3,857.6"/>
<path d="M500.5,853.0 L505.0,849.0 L513.0,849.5 L516.4,854.0 L512.0,859.0 L504.0,858.5 Z"/>
<path d="M478.0,779.0 L481.0,778.5 L482.0,782.0 L479.0,783.5 Z"/>
<path d="M568.0,840.0 L575.0,833.0 L585.0,832.0 L595.0,836.0 L605.0,842.0 L611.0,848.0 L606.0,852.0 L596.0,846.0 L585.0,842.0 L575.0,843.0 Z"/>
<path d="M575.0,834.0 L582.0,829.0 L590.0,830.0 L586.0,835.0 Z"/>
<path d="M669.4,829.3 L676.0,822.0 L681.7,816.9 L688.8,813.4 L702.9,811.6 L711.7,808.1 L720.5,804.6 L727.5,801.1 L735.0,796.0 L745.0,789.0 L755.0,781.0 L766.0,771.0 L778.0,757.0 L790.0,741.0"/>
<path d="M724.0,805.0 L730.0,797.0 L735.0,796.0 L733.0,802.0 L727.0,808.0 Z"/>
<path d="M117.0,268.0 L122.0,264.0 L127.0,264.0 L129.0,270.0 L126.0,274.0 L129.0,282.0 L130.0,292.0 L127.0,297.0 L124.0,304.0 L118.0,305.0 L117.0,299.0 L120.0,296.0 L113.0,291.0 L112.0,286.0 L115.0,281.0 L120.0,279.0 L123.0,275.0 L118.0,273.0 Z"/>
<path d="M115.0,304.0 L112.0,308.0 L110.0,312.0 L109.0,313.0"/>
<path d="M129.0,306.0 L128.5,310.0"/>
<path d="M63.8,383.4 L68.0,372.0 L73.0,362.0 L79.6,349.1 L84.0,344.0 L90.2,342.5 L95.5,354.4 L90.2,362.3 L88.0,370.0 L86.3,376.8 L84.5,385.0 L83.6,391.4 L79.0,396.0 L75.7,399.3 L70.4,404.6 L66.4,399.3 L62.5,394.0 L62.0,388.0 Z"/>
<path d="M101.0,346.0 L108.0,352.0 L114.0,349.0 L110.0,356.0 L103.0,360.0 L104.0,368.0 L111.0,375.0 L106.0,376.0 L102.0,372.0 L101.0,391.0 L98.0,391.0 L98.0,360.0 L97.0,350.0 Z"/>
<path d="M56.7,453.1 L65.5,444.3 L77.8,433.8 L84.9,429.4 L93.7,422.3 L99.8,412.6 L97.0,414.0 L80.5,420.6 L76.9,425.0 L69.9,430.2 L58.4,444.3 Z"/>
<path d="M38.2,433.8 L40.8,425.8 L39.9,416.1 L43.5,414.4 L49.6,410.0 L50.5,404.7 L50.9,395.0 L52.5,395.0 L53.5,405.0 L55.0,420.0 L55.8,430.0 L55.3,440.0 L55.8,447.9 L53.1,450.5 L45.2,446.1 Z"/>
<path d="M62.8,400.3 L65.0,404.0 L67.2,410.9 L66.0,416.0"/>
<path d="M118.0,408.0 L124.0,398.0 L132.0,385.0 L131.0,389.0 L123.0,401.0 Z"/>
<path d="M101.0,411.0 L105.0,408.0 L110.0,405.0 L114.0,403.0"/>
<path d="M117.0,330.0 L120.0,327.0 L122.0,333.0 L119.0,338.0 Z"/>
<path d="M133.0,335.0 L140.0,333.0 L144.0,334.0 L139.0,336.0 Z"/>
<path d="M249.7,309.1 L256.0,306.0 L263.0,302.0 L270.0,297.5 L275.2,295.9 L272.0,299.0 L266.0,304.0 L258.0,308.5 Z"/>
<path d="M264.7,286.2 L272.0,289.0 L280.5,292.3 L273.5,294.1 L268.2,302.9"/>
<path d="M290.2,296.7 L298.1,302.0"/>
<path d="M303.4,302.0 L310.5,304.7"/>
<path d="M317.5,304.7 L327.2,309.1"/>
<path d="M308.7,309.1 L312.2,311.7"/>
<path d="M332.5,307.3 L336.0,309.0 L337.8,313.5 L334.0,311.0 Z"/>
<path d="M328.1,314.4 L331.6,316.1"/>
<path d="M337.8,318.8 L341.0,318.5 L344.0,320.5 L340.0,320.8 Z"/>
<path d="M375.7,343.4 L378.5,344.5 L379.5,348.0 L384.5,354.0 L382.0,353.0 L377.0,348.0 Z"/>
<path d="M359.0,384.0 L369.0,392.0 L382.0,398.0 L380.0,399.0 L367.0,394.0 L360.0,387.0 Z"/>
<path d="M180.0,340.0 L182.0,339.0 L183.0,343.0 L181.0,344.0 Z"/>
<path d="M163.0,345.0 L165.0,343.0 L166.0,349.0 L164.0,352.0 Z"/>
<path d="M142.4,216.8 L145.1,212.8 L149.2,210.0 L152.0,206.0 L155.5,202.6 L158.9,199.2 L162.1,195.6 L165.3,191.9 L168.7,188.5 L172.0,184.9 L175.7,181.7 L178.9,178.1 L183.0,175.4 L186.0,171.4 L190.6,169.4 L193.9,165.7 L198.1,163.2 L201.9,160.2 L206.3,158.0 L210.3,155.3 L213.7,151.8 L217.6,148.9 L221.9,146.7 L225.4,143.1 L229.1,139.9 L232.9,136.9 L237.5,135.1 L241.5,132.2 L245.3,129.2 L248.8,125.5 L253.4,123.8 L257.3,120.7 L261.1,117.5 L265.8,115.8 L270.0,113.4 L274.6,111.7 L278.8,109.0 L283.0,106.6 L287.9,105.6 L291.9,102.4 L296.2,99.9 L300.8,98.3 L305.6,97.1 L309.8,94.4 L314.8,93.7 L319.2,91.3 L323.5,88.8 L328.4,88.0 L333.0,86.3 L337.7,84.9 L337.6,84.6 L329.7,87.2 L321.7,89.4 L313.9,92.2 L306.1,95.0 L298.4,98.1 L290.7,101.3 L283.0,104.4 L275.5,108.0 L268.0,111.6 L260.5,115.2 L253.2,119.1 L246.0,123.3 L238.7,127.3 L231.7,131.8 L224.5,136.0 L217.6,140.6 L210.9,145.5 L204.0,150.2 L197.7,155.6 L191.0,160.5 L184.7,166.0 L178.3,171.2 L172.2,176.9 L166.1,182.5 L159.9,188.0 L154.2,194.1 L148.5,200.1 L142.8,206.2 L137.2,212.3 Z"/>
<path d="M153.9,198.0 L156.9,194.7 L160.5,192.0 L163.6,188.7 L166.5,185.3 L169.8,182.3 L173.8,180.1 L177.1,177.1 L180.6,174.4 L183.7,171.2 L187.5,168.8 L190.6,165.5 L194.0,162.6 L197.9,160.3 L201.1,157.2 L204.8,154.7 L208.9,152.7 L212.1,149.6 L216.0,147.4 L219.6,144.8 L223.3,142.4 L226.6,139.3 L230.5,137.1 L234.4,134.9 L237.8,132.0 L241.4,129.3 L245.5,127.5 L249.4,125.3 L253.1,122.8 L256.6,119.8 L260.4,117.5 L264.5,115.7 L268.3,113.3 L272.3,111.3 L276.6,109.8 L280.7,108.2 L284.4,105.5 L288.5,103.7 L292.7,102.0 L296.8,100.4"/>
<path d="M132.2,227.1 L130.1,231.1 L126.5,233.8 L124.2,237.7 L121.5,241.2 L119.8,245.4 L115.6,247.8 L114.9,252.7 L111.8,256.0 L108.9,259.3 L105.7,262.5 L104.4,266.9 L100.7,269.8 L98.0,273.4 L97.4,278.1 L94.2,281.4 L93.3,286.0 L90.4,289.4 L89.0,293.7 L85.1,296.6 L84.2,301.2 L81.2,304.6 L79.6,308.8 L77.6,312.7 L77.3,317.4 L75.7,321.6 L72.8,325.1 L72.1,329.6 L69.2,333.2 L68.4,337.6 L66.5,341.7 L64.1,345.5 L63.7,350.0 L63.3,354.6 L61.9,358.8 L59.8,362.7 L58.6,367.0 L57.2,371.2 L56.7,375.6 L55.1,379.7 L54.6,384.2 L53.2,388.3 L51.9,392.6 L52.4,397.2 L51.1,401.4"/>
<path d="M112.1,248.1 L108.6,251.8 L106.4,256.4 L103.0,260.2 L100.7,264.7 L97.9,268.8 L95.2,273.0 L92.9,277.5 L90.6,282.0 L88.3,286.4 L86.0,290.9 L83.0,295.0 L81.0,299.6 L79.1,304.2 L76.1,308.4 L74.7,313.2 L72.5,317.7 L70.6,322.4 L68.3,326.8 L66.4,331.5 L64.6,336.1 L63.2,341.0 L61.4,345.7 L59.8,350.4 L58.1,355.1 L56.7,359.9 L55.2,364.7 L52.8,369.2 L51.5,374.1 L51.0,379.2"/>
<path d="M603.3,150.4 L606.8,150.4 L605.3,152.7 Z"/>
<path d="M613.2,155.4 L615.5,156.5 L617.6,157.6"/>
<path d="M624.2,160.4 L626.4,161.8 L628.6,162.6"/>
<path d="M629.4,164.2 L630.2,166.4 L632.4,170.0 L635.7,169.7 L637.4,169.5 L633.5,167.3 Z"/>
<path d="M451.0,361.0 L454.0,357.5 L459.0,357.2 L462.0,361.0 L459.0,363.6 L453.0,363.4 Z"/>
<path d="M460.4,352.6 L462.0,354.2 L466.4,353.7 L469.7,352.6"/>
<path d="M522.0,334.0 L524.0,334.0 L524.0,336.0 L522.0,336.0 Z"/>
<path d="M528.1,336.6 L531.4,338.3"/>
<path d="M630.5,255.5 L632.5,255.5 L632.5,257.5 L630.5,257.5 Z"/>
<path d="M230.5,209.5 L234.5,206.0"/>
</g>
<g fill="none" stroke-width="2" stroke-linejoin="round" stroke-linecap="butt">
<path d="M163.0,191.2 L167.1,190.0 L171.2,188.9 L175.3,188.0 L179.4,187.1 L183.5,186.3 L187.6,185.5 L191.7,184.9 L195.7,184.3 L199.7,183.9 L203.7,183.5 L207.8,183.2 L211.8,182.9 L215.7,182.8 L219.7,182.7 L223.7,182.7 L227.6,182.7 L231.6,182.9 L235.5,183.1 L239.4,183.3 L243.3,183.6 L247.3,184.0 L251.1,184.5 L255.0,185.0 L258.9,185.6 L262.8,186.2 L266.6,186.9 L270.5,187.7 L274.3,188.4 L278.2,189.3 L282.0,190.2 L285.8,191.1 L289.7,192.1 L293.5,193.2 L297.3,194.3 L301.1,195.4 L304.9,196.6 L308.6,197.8 L312.4,199.0 L316.2,200.3 L320.0,201.6 L323.7,203.0 L327.5,204.4 L331.3,205.8 L335.0,207.2 L338.8,208.7 L342.5,210.2 L346.3,211.7 L350.0,213.3 L353.7,214.8 L357.5,216.4 L361.2,218.0 L364.9,219.6 L368.7,221.3 L372.4,222.9 L376.1,224.6 L379.8,226.3 L383.6,228.0 L387.3,229.7 L391.0,231.4 L394.7,233.1 L398.5,234.8 L402.2,236.5 L405.9,238.2 L409.6,239.9 L413.4,241.6 L417.1,243.4 L420.8,245.1 L424.5,246.8 L428.3,248.4 L432.0,250.1 L435.7,251.8 L439.5,253.4 L443.2,255.1 L447.0,256.7 L450.7,258.3 L454.5,259.9 L458.2,261.5 L462.0,263.0 L465.8,264.6 L469.5,266.0 L473.3,267.5 L477.1,269.0 L480.9,270.4 L484.6,271.8 L488.4,273.1 L492.2,274.5 L496.0,275.8 L499.9,277.1 L503.7,278.3 L507.5,279.5 L511.3,280.7 L515.1,281.9 L519.0,283.1 L522.8,284.2 L526.7,285.3 L530.5,286.3 L534.4,287.4 L538.2,288.4 L542.1,289.4 L546.0,290.4 L549.9,291.3 L553.7,292.2 L557.6,293.1 L561.5,294.0 L565.4,294.8 L569.3,295.6 L573.3,296.4 L577.2,297.2 L581.1,297.9 L585.0,298.6 L589.0,299.3 L592.9,300.0 L596.9,300.6 L600.8,301.3 L604.8,301.8 L608.7,302.4 L612.7,303.0 L616.7,303.5 L620.7,304.0 L624.7,304.5 L628.7,305.0 L632.7,305.4 L636.7,305.8 L640.7,306.2 L644.7,306.6 L648.7,307.0 L652.7,307.4 L656.7,307.8 L660.8,308.1 L664.8,308.5 L668.8,308.8 L672.9,309.1 L676.9,309.5 L680.9,309.8 L685.0,310.1 L689.0,310.5 L693.0,310.8 L697.1,311.1 L701.1,311.4 L705.2,311.8 L709.2,312.1 L713.2,312.5 L717.3,312.8 L721.3,313.2 L725.3,313.6 L729.4,314.0 L733.4,314.4 L737.4,314.8 L741.4,315.2 L745.5,315.7 L749.5,316.1 L753.5,316.6 L757.5,317.1 L761.5,317.6 L765.5,318.2 L769.5,318.8 L773.5,319.4 L777.5,320.0 L781.5,320.7 L785.5,321.3 L789.4,322.1 L793.4,322.8 L797.3,323.6 L801.3,324.4 L805.2,325.3 L809.2,326.2 L813.1,327.1" stroke="#008000"/>
<path d="M813.1,327.1 L810.2,329.9 L807.7,332.8 L805.5,336.0 L803.6,339.3 L801.9,342.7 L800.5,346.3 L799.3,350.0 L798.2,353.7 L797.3,357.5 L796.5,361.4 L795.8,365.3 L795.1,369.2 L794.5,373.1 L794.0,377.1 L793.5,381.0 L793.1,385.0 L792.7,389.0 L792.3,393.0 L792.1,397.0 L791.8,401.1 L791.6,405.1 L791.4,409.1 L791.3,413.2 L791.2,417.3 L791.1,421.4 L791.0,425.4 L791.0,429.5 L790.9,433.6 L790.9,437.7 L790.9,441.8 L790.9,445.9 L790.9,450.1 L790.9,454.2 L791.0,458.3 L791.0,462.4 L791.0,466.5 L791.0,470.6 L790.9,474.7 L790.9,478.8 L790.9,482.9 L790.8,487.0 L790.7,491.0 L790.6,495.1 L790.5,499.2 L790.4,503.3 L790.3,507.3 L790.1,511.4 L790.0,515.5 L789.8,519.5 L789.6,523.6 L789.4,527.6 L789.1,531.7 L788.9,535.7 L788.6,539.8 L788.3,543.8 L788.0,547.8 L787.6,551.9 L787.2,555.9 L786.9,559.9 L786.4,563.9 L786.0,567.9 L785.6,571.9 L785.1,575.9 L784.6,579.9 L784.0,583.9 L783.5,587.9 L782.9,591.9 L782.3,595.9 L781.6,599.9 L781.0,603.8 L780.3,607.8 L779.6,611.8 L778.8,615.7 L778.0,619.7 L777.2,623.6 L776.4,627.6 L775.5,631.5 L774.6,635.5 L773.7,639.4 L772.7,643.3 L771.7,647.3 L770.6,651.2 L769.6,655.1 L768.5,659.0 L767.3,662.9 L766.2,666.7 L765.0,670.6 L763.7,674.5 L762.5,678.3 L761.2,682.2 L759.8,686.0 L758.4,689.8 L757.0,693.6 L755.6,697.4 L754.1,701.2 L752.6,704.9 L751.0,708.6 L749.4,712.4 L747.8,716.1 L746.1,719.8 L744.4,723.4 L742.6,727.1 L740.9,730.7 L739.0,734.3 L737.2,737.9 L735.3,741.5 L733.3,745.0 L731.3,748.5 L729.3,752.0 L727.2,755.5 L725.1,758.9 L723.0,762.4 L720.8,765.8 L718.5,769.1 L716.3,772.5 L714.0,775.8 L711.6,779.1 L709.2,782.3 L706.7,785.6 L704.3,788.8 L701.7,792.0 L699.2,795.1 L696.5,798.2 L693.9,801.3 L691.2,804.3 L688.4,807.3 L685.6,810.3" stroke="#008000"/>
<path d="M813.1,327.1 L816.0,330.0 L818.8,332.9 L821.5,335.9 L824.0,339.0 L826.5,342.2 L828.8,345.4 L831.1,348.6 L833.2,351.9 L835.3,355.3 L837.2,358.8 L839.1,362.2 L840.9,365.8 L842.6,369.4 L844.2,373.0 L845.7,376.6 L847.1,380.3 L848.5,384.1 L849.7,387.9 L851.0,391.7 L852.1,395.5 L853.2,399.4 L854.1,403.3 L855.1,407.2 L856.0,411.1 L856.8,415.1 L857.5,419.1 L858.2,423.1 L858.9,427.1 L859.5,431.1 L860.0,435.1 L860.5,439.2 L860.9,443.2 L861.3,447.3 L861.7,451.4 L862.0,455.4 L862.2,459.5 L862.4,463.6 L862.6,467.7 L862.7,471.8 L862.7,475.9 L862.7,480.0 L862.7,484.1 L862.6,488.2 L862.5,492.3 L862.4,496.4 L862.2,500.5 L861.9,504.6 L861.6,508.7 L861.3,512.7 L861.0,516.8 L860.6,520.8 L860.1,524.9 L859.7,528.9 L859.1,533.0 L858.6,537.0 L858.0,541.0 L857.4,545.0 L856.7,549.0 L856.0,552.9 L855.3,556.9 L854.5,560.9 L853.7,564.8 L852.8,568.7 L851.9,572.7 L851.0,576.6 L850.0,580.5 L849.0,584.4 L848.0,588.2 L846.9,592.1 L845.8,595.9 L844.7,599.8 L843.5,603.6 L842.2,607.4 L841.0,611.2 L839.7,615.0 L838.3,618.8 L837.0,622.5 L835.5,626.3 L834.1,630.0 L832.6,633.8 L831.1,637.5 L829.5,641.2 L827.9,644.8 L826.3,648.5 L824.6,652.2 L822.9,655.8 L821.1,659.4 L819.3,663.0 L817.5,666.6 L815.6,670.2 L813.7,673.8 L811.8,677.3 L809.8,680.9 L807.8,684.4 L805.8,687.9 L803.7,691.3 L801.6,694.8 L799.4,698.2 L797.2,701.7 L795.0,705.0 L792.7,708.4 L790.4,711.8 L788.1,715.1 L785.7,718.4 L783.3,721.7 L780.9,724.9 L778.4,728.1 L775.9,731.3 L773.4,734.5 L770.8,737.6 L768.2,740.7 L765.5,743.8 L762.9,746.8 L760.1,749.8 L757.4,752.8 L754.6,755.7 L751.8,758.6 L749.0,761.5 L746.1,764.3 L743.2,767.1 L740.3,769.9 L737.3,772.6 L734.3,775.3 L731.3,777.9 L728.2,780.5 L725.1,783.1 L722.0,785.6 L718.8,788.1 L715.7,790.5 L712.4,792.9 L709.2,795.3 L705.9,797.5 L702.6,799.8 L699.3,802.0 L695.9,804.2 L692.5,806.3 L689.1,808.3 L685.6,810.3" stroke="#008000"/>
<path d="M106.8,685.6 L110.6,684.1 L114.5,682.8 L118.4,681.6 L122.2,680.6 L126.1,679.7 L130.0,678.9 L133.9,678.2 L137.8,677.7 L141.8,677.2 L145.7,676.9 L149.6,676.7 L153.6,676.6 L157.5,676.5 L161.4,676.6 L165.4,676.8 L169.4,677.0 L173.3,677.4 L177.3,677.8 L181.2,678.2 L185.2,678.8 L189.2,679.4 L193.2,680.1 L197.1,680.8 L201.1,681.6 L205.1,682.4 L209.0,683.3 L213.0,684.2 L217.0,685.2 L220.9,686.2 L224.9,687.2 L228.8,688.2 L232.8,689.3 L236.7,690.4 L240.7,691.5 L244.6,692.6 L248.6,693.7 L252.5,694.8 L256.4,696.0 L260.3,697.1 L264.2,698.3 L268.1,699.4 L272.1,700.6 L276.0,701.7 L279.9,702.9 L283.7,704.1 L287.6,705.3 L291.5,706.4 L295.4,707.6 L299.3,708.8 L303.2,710.0 L307.1,711.2 L310.9,712.4 L314.8,713.6 L318.7,714.8 L322.6,716.0 L326.4,717.1 L330.3,718.3 L334.2,719.5 L338.1,720.7 L341.9,721.9 L345.8,723.0 L349.7,724.2 L353.6,725.3 L357.4,726.5 L361.3,727.6 L365.2,728.8 L369.1,729.9 L372.9,731.0 L376.8,732.1 L380.7,733.2 L384.6,734.3 L388.5,735.4 L392.4,736.5 L396.3,737.5 L400.2,738.6 L404.1,739.6 L408.0,740.6 L411.9,741.6 L415.8,742.6 L419.7,743.6 L423.6,744.6 L427.6,745.5 L431.5,746.4 L435.4,747.4 L439.4,748.3 L443.3,749.2 L447.2,750.0 L451.2,750.9 L455.1,751.8 L459.1,752.6 L463.1,753.5 L467.0,754.3 L471.0,755.1 L474.9,755.9 L478.9,756.8 L482.9,757.6 L486.8,758.4 L490.8,759.1 L494.8,759.9 L498.8,760.7 L502.7,761.5 L506.7,762.2 L510.7,763.0 L514.7,763.8 L518.7,764.5 L522.7,765.3 L526.6,766.0 L530.6,766.8 L534.6,767.6 L538.6,768.3 L542.6,769.1 L546.6,769.8 L550.6,770.6 L554.6,771.3 L558.6,772.1 L562.5,772.8 L566.5,773.6 L570.5,774.4 L574.5,775.1 L578.5,775.9 L582.5,776.7 L586.4,777.5 L590.4,778.4 L594.4,779.2 L598.3,780.1 L602.3,781.0 L606.2,781.9 L610.1,782.8 L614.1,783.8 L618.0,784.8 L621.9,785.8 L625.7,786.9 L629.6,788.0 L633.5,789.1 L637.3,790.3 L641.1,791.5 L645.0,792.8 L648.8,794.1 L652.5,795.5 L656.3,796.9 L660.0,798.4 L663.8,799.9 L667.5,801.5 L671.1,803.1 L674.8,804.8 L678.4,806.6 L682.0,808.4 L685.6,810.3" stroke="#008000"/>
<path d="M173.0,188.5 L172.5,192.4 L171.9,196.4 L171.2,200.3 L170.5,204.2 L169.8,208.1 L169.0,212.0 L168.1,215.9 L167.2,219.8 L166.3,223.6 L165.3,227.5 L164.3,231.3 L163.2,235.2 L162.2,239.0 L161.1,242.9 L159.9,246.7 L158.7,250.6 L157.5,254.4 L156.3,258.2 L155.1,262.1 L153.8,265.9 L152.6,269.7 L151.3,273.5 L150.0,277.4 L148.7,281.2 L147.4,285.0 L146.1,288.8 L144.7,292.6 L143.4,296.5 L142.1,300.3 L140.8,304.1 L139.4,307.9 L138.1,311.8 L136.8,315.6 L135.5,319.4 L134.1,323.3 L132.8,327.1 L131.5,330.9 L130.2,334.8 L128.9,338.6 L127.7,342.5 L126.4,346.3 L125.2,350.2 L123.9,354.0 L122.7,357.9 L121.5,361.8 L120.3,365.6 L119.1,369.5 L118.0,373.4 L116.8,377.3 L115.7,381.2 L114.6,385.1 L113.6,389.0 L112.5,392.9 L111.5,396.8 L110.5,400.7 L109.6,404.6 L108.7,408.6 L107.7,412.5 L106.9,416.5 L106.0,420.4 L105.2,424.4 L104.4,428.3 L103.6,432.3 L102.8,436.2 L102.1,440.2 L101.4,444.2 L100.7,448.2 L100.1,452.2 L99.5,456.1 L98.9,460.1 L98.3,464.1 L97.7,468.1 L97.2,472.1 L96.7,476.1 L96.3,480.1 L95.8,484.2 L95.4,488.2 L95.0,492.2 L94.6,496.2 L94.3,500.2 L94.0,504.2 L93.7,508.3 L93.4,512.3 L93.2,516.3 L93.0,520.3 L92.8,524.4 L92.6,528.4 L92.5,532.4 L92.4,536.5 L92.3,540.5 L92.3,544.5 L92.2,548.6 L92.2,552.6 L92.3,556.6 L92.3,560.7 L92.4,564.7 L92.5,568.7 L92.6,572.8 L92.8,576.8 L93.0,580.8 L93.2,584.9 L93.4,588.9 L93.7,592.9 L93.9,597.0 L94.2,601.0 L94.6,605.0 L94.9,609.0 L95.3,613.1 L95.8,617.1 L96.2,621.1 L96.7,625.1 L97.2,629.1 L97.7,633.2 L98.2,637.2 L98.8,641.2 L99.4,645.2 L100.0,649.2 L100.7,653.2 L101.3,657.2 L102.0,661.1 L102.8,665.1 L103.5,669.1 L104.3,673.1 L105.1,677.1 L105.9,681.0 L106.8,685.0" stroke="#008000"/>
<path d="M106.4,685.9 L103.9,682.6 L101.6,679.4 L99.2,676.1 L96.9,672.7 L94.7,669.4 L92.5,666.0 L90.3,662.6 L88.2,659.1 L86.2,655.7 L84.2,652.2 L82.2,648.7 L80.3,645.2 L78.4,641.6 L76.5,638.1 L74.8,634.5 L73.0,630.9 L71.3,627.2 L69.7,623.6 L68.0,619.9 L66.5,616.2 L65.0,612.5 L63.5,608.8 L62.0,605.1 L60.6,601.3 L59.3,597.5 L58.0,593.7 L56.7,589.9 L55.5,586.1 L54.4,582.3 L53.2,578.4 L52.1,574.6 L51.1,570.7 L50.1,566.8 L49.2,562.9 L48.3,559.0 L47.4,555.1 L46.6,551.1 L45.8,547.2 L45.0,543.2 L44.4,539.3 L43.7,535.3 L43.1,531.3 L42.5,527.3 L42.0,523.4 L41.5,519.4 L41.1,515.3 L40.7,511.3 L40.3,507.3 L40.0,503.3 L39.8,499.3 L39.5,495.2 L39.4,491.2 L39.2,487.2 L39.1,483.1 L39.1,479.1 L39.0,475.0 L39.1,471.0 L39.1,467.0 L39.2,462.9 L39.4,458.9 L39.6,454.8 L39.8,450.8 L40.1,446.7 L40.4,442.7 L40.8,438.7 L41.2,434.6 L41.6,430.6 L42.1,426.6 L42.6,422.5 L43.2,418.5 L43.8,414.5 L44.4,410.5 L45.1,406.5 L45.8,402.5 L46.6,398.5 L47.4,394.6 L48.2,390.6 L49.1,386.6 L50.0,382.7 L51.0,378.8 L52.0,374.8 L53.0,370.9 L54.1,367.0 L55.2,363.1 L56.4,359.2 L57.6,355.4 L58.8,351.5 L60.1,347.7 L61.4,343.8 L62.8,340.0 L64.1,336.2 L65.6,332.4 L67.1,328.7 L68.6,324.9 L70.1,321.2 L71.7,317.5 L73.3,313.8 L75.0,310.1 L76.7,306.4 L78.4,302.8 L80.2,299.2 L82.0,295.6 L83.9,292.0 L85.8,288.4 L87.7,284.9 L89.7,281.4 L91.7,277.9 L93.8,274.4 L95.8,271.0 L98.0,267.5 L100.1,264.1 L102.3,260.8 L104.5,257.4 L106.8,254.1 L109.1,250.8 L111.5,247.5 L113.9,244.3 L116.3,241.1 L118.7,237.9 L121.2,234.8 L123.7,231.6 L126.3,228.5 L128.9,225.5 L131.6,222.4 L134.2,219.4 L136.9,216.5 L139.7,213.5 L142.5,210.6 L145.3,207.7 L148.1,204.9 L151.0,202.1 L154.0,199.3 L156.9,196.6 L159.9,193.9 L163.0,191.2" stroke="#008000"/>
<path d="M136.4,231.7 L140.4,230.6 L144.4,229.6 L148.4,228.7 L152.4,227.8 L156.4,227.1 L160.4,226.4 L164.5,225.9 L168.5,225.4 L172.5,225.0 L176.5,224.7 L180.5,224.5 L184.5,224.3 L188.5,224.2 L192.5,224.2 L196.5,224.3 L200.5,224.4 L204.5,224.6 L208.4,224.9 L212.4,225.3 L216.4,225.7 L220.3,226.1 L224.2,226.7 L228.2,227.3 L232.1,227.9 L236.0,228.6 L239.9,229.4 L243.8,230.2 L247.6,231.1 L251.5,232.0 L255.4,232.9 L259.2,233.9 L263.0,235.0 L266.8,236.1 L270.6,237.2 L274.4,238.4 L278.2,239.6 L282.0,240.9 L285.8,242.1 L289.5,243.5 L293.3,244.8 L297.0,246.2 L300.7,247.6 L304.5,249.1 L308.2,250.5 L311.9,252.0 L315.6,253.5 L319.3,255.1 L323.0,256.6 L326.7,258.2 L330.4,259.8 L334.1,261.4 L337.8,263.1 L341.5,264.7 L345.2,266.4 L348.9,268.0 L352.5,269.7 L356.2,271.4 L359.9,273.1 L363.6,274.8 L367.3,276.4 L370.9,278.1 L374.6,279.8 L378.3,281.5 L382.0,283.2 L385.6,284.9 L389.3,286.6 L393.0,288.2 L396.7,289.9 L400.4,291.5 L404.1,293.2 L407.8,294.8 L411.5,296.5 L415.2,298.1 L418.9,299.7 L422.6,301.3 L426.3,302.9 L430.0,304.5 L433.7,306.1 L437.4,307.6 L441.2,309.2 L444.9,310.7 L448.6,312.2 L452.4,313.7 L456.1,315.2 L459.8,316.7 L463.6,318.1 L467.3,319.5 L471.1,321.0 L474.9,322.4 L478.6,323.7 L482.4,325.1 L486.2,326.4 L490.0,327.7 L493.7,329.0 L497.5,330.3 L501.3,331.6 L505.2,332.8 L509.0,334.0 L512.8,335.2 L516.6,336.3 L520.4,337.5 L524.3,338.6 L528.1,339.6 L532.0,340.7 L535.8,341.7 L539.7,342.7 L543.6,343.6 L547.5,344.6 L551.4,345.5 L555.3,346.3 L559.2,347.2 L563.1,348.0 L567.0,348.8 L570.9,349.5 L574.9,350.2 L578.8,350.9 L582.8,351.5 L586.7,352.2 L590.7,352.8 L594.7,353.3 L598.6,353.9 L602.6,354.4 L606.6,354.9 L610.6,355.4 L614.6,355.8 L618.6,356.3 L622.6,356.7 L626.6,357.1 L630.7,357.5 L634.7,357.8 L638.7,358.2 L642.7,358.5 L646.8,358.9 L650.8,359.2 L654.9,359.5 L658.9,359.8 L662.9,360.1 L667.0,360.4 L671.0,360.7 L675.1,361.0 L679.1,361.3 L683.2,361.6 L687.2,361.9 L691.2,362.2 L695.3,362.4 L699.3,362.7 L703.4,363.0 L707.4,363.3 L711.5,363.6 L715.5,364.0 L719.5,364.3 L723.6,364.6 L727.6,365.0 L731.6,365.3 L735.7,365.7 L739.7,366.1 L743.7,366.5 L747.7,366.9 L751.7,367.4 L755.7,367.8 L759.7,368.3 L763.7,368.8 L767.7,369.3 L771.7,369.9 L775.7,370.5 L779.6,371.1 L783.6,371.7 L787.6,372.3 L791.5,373.0 L795.5,373.7 L799.4,374.5 L803.3,375.3 L807.2,376.1 L811.1,376.9 L815.0,377.8 L818.9,378.7 L822.8,379.7 L826.7,380.7" stroke="#00a2e6"/>
<path d="M109.8,278.4 L113.9,277.4 L117.9,276.5 L122.0,275.7 L126.0,275.0 L130.1,274.3 L134.1,273.8 L138.2,273.2 L142.2,272.8 L146.3,272.4 L150.3,272.1 L154.3,271.9 L158.4,271.7 L162.4,271.6 L166.4,271.6 L170.4,271.6 L174.4,271.7 L178.4,271.8 L182.4,272.1 L186.4,272.3 L190.4,272.7 L194.3,273.0 L198.3,273.5 L202.3,274.0 L206.2,274.5 L210.2,275.1 L214.1,275.8 L218.0,276.5 L222.0,277.2 L225.9,278.0 L229.8,278.9 L233.7,279.8 L237.6,280.7 L241.4,281.7 L245.3,282.8 L249.2,283.8 L253.0,284.9 L256.9,286.1 L260.7,287.3 L264.5,288.5 L268.3,289.8 L272.1,291.1 L275.9,292.4 L279.7,293.8 L283.5,295.2 L287.2,296.6 L291.0,298.1 L294.7,299.6 L298.4,301.1 L302.1,302.6 L305.9,304.2 L309.6,305.8 L313.3,307.4 L317.0,309.0 L320.6,310.7 L324.3,312.3 L328.0,314.0 L331.7,315.7 L335.3,317.4 L339.0,319.2 L342.7,320.9 L346.3,322.6 L350.0,324.4 L353.6,326.2 L357.3,327.9 L360.9,329.7 L364.6,331.5 L368.2,333.2 L371.9,335.0 L375.5,336.8 L379.2,338.6 L382.8,340.3 L386.5,342.1 L390.1,343.9 L393.8,345.6 L397.5,347.3 L401.1,349.1 L404.8,350.8 L408.5,352.5 L412.1,354.2 L415.8,355.9 L419.5,357.5 L423.2,359.2 L426.9,360.8 L430.6,362.4 L434.3,364.0 L438.0,365.6 L441.8,367.1 L445.5,368.6 L449.3,370.1 L453.0,371.5 L456.8,373.0 L460.6,374.4 L464.3,375.7 L468.1,377.1 L471.9,378.4 L475.7,379.7 L479.6,380.9 L483.4,382.2 L487.2,383.4 L491.1,384.6 L494.9,385.7 L498.8,386.8 L502.6,387.9 L506.5,389.0 L510.4,390.1 L514.3,391.1 L518.2,392.1 L522.1,393.1 L526.0,394.0 L529.9,395.0 L533.8,395.9 L537.8,396.8 L541.7,397.6 L545.6,398.5 L549.6,399.3 L553.5,400.1 L557.5,400.8 L561.4,401.6 L565.4,402.3 L569.4,403.0 L573.3,403.7 L577.3,404.4 L581.3,405.0 L585.3,405.7 L589.3,406.3 L593.3,406.8 L597.3,407.4 L601.3,408.0 L605.3,408.5 L609.3,409.0 L613.3,409.5 L617.3,410.0 L621.3,410.4 L625.4,410.8 L629.4,411.3 L633.4,411.7 L637.4,412.1 L641.5,412.4 L645.5,412.8 L649.5,413.1 L653.6,413.5 L657.6,413.8 L661.6,414.1 L665.7,414.5 L669.7,414.8 L673.7,415.1 L677.8,415.4 L681.8,415.7 L685.9,416.0 L689.9,416.3 L693.9,416.6 L698.0,416.9 L702.0,417.2 L706.0,417.5 L710.1,417.9 L714.1,418.2 L718.1,418.5 L722.1,418.9 L726.2,419.3 L730.2,419.6 L734.2,420.0 L738.2,420.4 L742.2,420.8 L746.2,421.3 L750.3,421.7 L754.3,422.2 L758.3,422.7 L762.3,423.2 L766.2,423.7 L770.2,424.3 L774.2,424.9 L778.2,425.5 L782.2,426.1 L786.1,426.8 L790.1,427.5 L794.1,428.2 L798.0,428.9 L802.0,429.7 L805.9,430.6 L809.8,431.4 L813.8,432.3 L817.7,433.3 L821.6,434.2 L825.5,435.2 L829.4,436.3 L833.3,437.4" stroke="#00a2e6"/>
<path d="M89.0,330.7 L93.0,329.6 L97.1,328.6 L101.1,327.6 L105.2,326.8 L109.2,326.1 L113.2,325.4 L117.2,324.8 L121.2,324.4 L125.2,324.0 L129.2,323.6 L133.2,323.4 L137.2,323.2 L141.2,323.1 L145.2,323.1 L149.1,323.2 L153.1,323.3 L157.1,323.5 L161.0,323.7 L164.9,324.1 L168.9,324.5 L172.8,324.9 L176.7,325.4 L180.6,326.0 L184.5,326.6 L188.4,327.3 L192.3,328.0 L196.2,328.8 L200.1,329.7 L204.0,330.6 L207.8,331.5 L211.7,332.5 L215.5,333.5 L219.4,334.5 L223.2,335.7 L227.0,336.8 L230.9,338.0 L234.7,339.2 L238.5,340.4 L242.3,341.7 L246.1,343.0 L249.8,344.4 L253.6,345.7 L257.4,347.1 L261.1,348.5 L264.9,350.0 L268.6,351.4 L272.4,352.9 L276.1,354.4 L279.8,356.0 L283.6,357.5 L287.3,359.1 L291.0,360.7 L294.7,362.3 L298.4,363.9 L302.1,365.5 L305.8,367.2 L309.5,368.8 L313.2,370.5 L316.9,372.2 L320.6,373.9 L324.3,375.6 L328.0,377.3 L331.7,379.0 L335.4,380.7 L339.1,382.4 L342.8,384.1 L346.4,385.8 L350.1,387.5 L353.8,389.2 L357.5,390.9 L361.2,392.7 L364.9,394.4 L368.6,396.0 L372.3,397.7 L376.0,399.4 L379.7,401.1 L383.4,402.7 L387.1,404.4 L390.8,406.0 L394.5,407.7 L398.2,409.3 L401.9,410.9 L405.6,412.4 L409.4,414.0 L413.1,415.5 L416.8,417.1 L420.6,418.6 L424.3,420.0 L428.1,421.5 L431.9,422.9 L435.6,424.3 L439.4,425.7 L443.2,427.1 L447.0,428.4 L450.8,429.7 L454.6,431.0 L458.4,432.3 L462.2,433.5 L466.0,434.7 L469.8,435.9 L473.6,437.1 L477.5,438.3 L481.3,439.4 L485.2,440.5 L489.0,441.6 L492.9,442.7 L496.7,443.7 L500.6,444.8 L504.5,445.8 L508.3,446.8 L512.2,447.7 L516.1,448.7 L520.0,449.6 L523.9,450.5 L527.8,451.4 L531.7,452.3 L535.6,453.1 L539.5,453.9 L543.4,454.7 L547.3,455.5 L551.3,456.3 L555.2,457.1 L559.1,457.8 L563.1,458.5 L567.0,459.2 L571.0,459.9 L574.9,460.5 L578.9,461.2 L582.8,461.8 L586.8,462.4 L590.8,463.0 L594.7,463.5 L598.7,464.1 L602.7,464.6 L606.7,465.1 L610.7,465.6 L614.7,466.1 L618.7,466.6 L622.7,467.0 L626.7,467.5 L630.7,467.9 L634.7,468.3 L638.7,468.7 L642.7,469.1 L646.7,469.4 L650.7,469.8 L654.8,470.1 L658.8,470.5 L662.8,470.8 L666.8,471.1 L670.9,471.5 L674.9,471.8 L678.9,472.1 L682.9,472.4 L687.0,472.7 L691.0,473.1 L695.0,473.4 L699.0,473.7 L703.1,474.0 L707.1,474.4 L711.1,474.7 L715.1,475.0 L719.2,475.4 L723.2,475.8 L727.2,476.1 L731.2,476.5 L735.2,476.9 L739.2,477.4 L743.2,477.8 L747.2,478.2 L751.2,478.7 L755.2,479.2 L759.2,479.7 L763.2,480.2 L767.2,480.8 L771.2,481.4 L775.1,482.0 L779.1,482.6 L783.1,483.2 L787.0,483.9 L791.0,484.6 L794.9,485.3 L798.9,486.1 L802.8,486.9 L806.7,487.7 L810.6,488.6 L814.6,489.5 L818.5,490.5 L822.4,491.4 L826.2,492.4 L830.1,493.5 L834.0,494.6" stroke="#00a2e6"/>
<path d="M62.4,454.8 L66.4,453.7 L70.5,452.8 L74.5,452.0 L78.5,451.2 L82.5,450.6 L86.6,450.0 L90.6,449.5 L94.6,449.1 L98.6,448.8 L102.5,448.5 L106.5,448.4 L110.5,448.3 L114.5,448.2 L118.4,448.3 L122.4,448.4 L126.3,448.6 L130.3,448.9 L134.2,449.2 L138.2,449.6 L142.1,450.1 L146.0,450.6 L149.9,451.1 L153.8,451.8 L157.7,452.4 L161.6,453.2 L165.5,454.0 L169.4,454.8 L173.3,455.7 L177.2,456.6 L181.1,457.6 L184.9,458.6 L188.8,459.7 L192.7,460.7 L196.5,461.9 L200.4,463.0 L204.2,464.2 L208.0,465.5 L211.9,466.7 L215.7,468.0 L219.5,469.3 L223.4,470.7 L227.2,472.0 L231.0,473.4 L234.8,474.8 L238.6,476.2 L242.4,477.7 L246.2,479.1 L250.0,480.6 L253.7,482.0 L257.5,483.5 L261.3,485.0 L265.1,486.5 L268.8,488.0 L272.6,489.6 L276.4,491.1 L280.1,492.6 L283.9,494.2 L287.7,495.7 L291.4,497.3 L295.2,498.8 L298.9,500.4 L302.7,502.0 L306.4,503.6 L310.2,505.1 L313.9,506.7 L317.7,508.3 L321.4,509.8 L325.2,511.4 L328.9,513.0 L332.7,514.5 L336.4,516.1 L340.2,517.6 L343.9,519.2 L347.7,520.7 L351.4,522.3 L355.2,523.8 L359.0,525.3 L362.7,526.8 L366.5,528.3 L370.3,529.8 L374.0,531.2 L377.8,532.7 L381.6,534.1 L385.4,535.6 L389.1,537.0 L392.9,538.4 L396.7,539.8 L400.5,541.1 L404.3,542.5 L408.1,543.8 L412.0,545.1 L415.8,546.4 L419.6,547.7 L423.4,548.9 L427.3,550.2 L431.1,551.4 L435.0,552.5 L438.8,553.7 L442.7,554.9 L446.5,556.0 L450.4,557.1 L454.3,558.2 L458.1,559.3 L462.0,560.3 L465.9,561.3 L469.8,562.4 L473.7,563.4 L477.6,564.3 L481.5,565.3 L485.4,566.2 L489.3,567.2 L493.2,568.1 L497.1,569.0 L501.1,569.8 L505.0,570.7 L508.9,571.6 L512.9,572.4 L516.8,573.2 L520.7,574.0 L524.7,574.8 L528.6,575.5 L532.6,576.3 L536.6,577.0 L540.5,577.7 L544.5,578.4 L548.5,579.1 L552.4,579.8 L556.4,580.5 L560.4,581.1 L564.4,581.8 L568.3,582.4 L572.3,583.0 L576.3,583.6 L580.3,584.2 L584.3,584.7 L588.3,585.3 L592.3,585.9 L596.3,586.4 L600.3,586.9 L604.3,587.4 L608.3,587.9 L612.3,588.4 L616.3,588.9 L620.4,589.4 L624.4,589.8 L628.4,590.3 L632.4,590.7 L636.4,591.1 L640.5,591.5 L644.5,592.0 L648.5,592.4 L652.5,592.8 L656.6,593.2 L660.6,593.6 L664.6,594.0 L668.7,594.4 L672.7,594.8 L676.7,595.2 L680.7,595.6 L684.8,596.1 L688.8,596.5 L692.8,596.9 L696.8,597.4 L700.8,597.8 L704.8,598.3 L708.8,598.8 L712.9,599.3 L716.9,599.8 L720.9,600.3 L724.9,600.9 L728.8,601.4 L732.8,602.0 L736.8,602.6 L740.8,603.2 L744.8,603.9 L748.7,604.6 L752.7,605.2 L756.7,606.0 L760.6,606.7 L764.6,607.5 L768.5,608.3 L772.5,609.1 L776.4,610.0 L780.3,610.9 L784.2,611.9 L788.1,612.8 L792.0,613.8 L795.9,614.9 L799.8,616.0 L803.7,617.1 L807.5,618.3 L811.4,619.5" stroke="#00a2e6"/>
<path d="M62.4,524.2 L66.4,523.1 L70.4,522.2 L74.4,521.3 L78.4,520.5 L82.4,519.8 L86.4,519.2 L90.4,518.7 L94.3,518.3 L98.3,518.0 L102.3,517.7 L106.2,517.5 L110.2,517.4 L114.1,517.4 L118.1,517.4 L122.0,517.6 L125.9,517.7 L129.9,518.0 L133.8,518.3 L137.7,518.7 L141.6,519.1 L145.5,519.6 L149.4,520.2 L153.3,520.8 L157.2,521.5 L161.1,522.2 L165.0,523.0 L168.9,523.8 L172.8,524.7 L176.6,525.6 L180.5,526.5 L184.4,527.5 L188.2,528.5 L192.1,529.6 L195.9,530.7 L199.8,531.9 L203.6,533.0 L207.5,534.2 L211.3,535.5 L215.1,536.7 L218.9,538.0 L222.8,539.3 L226.6,540.6 L230.4,542.0 L234.2,543.3 L238.0,544.7 L241.8,546.1 L245.6,547.5 L249.4,548.9 L253.2,550.3 L257.0,551.7 L260.8,553.2 L264.6,554.6 L268.3,556.1 L272.1,557.5 L275.9,559.0 L279.7,560.4 L283.5,561.9 L287.2,563.4 L291.0,564.9 L294.8,566.3 L298.5,567.8 L302.3,569.3 L306.1,570.8 L309.9,572.3 L313.6,573.7 L317.4,575.2 L321.2,576.7 L324.9,578.2 L328.7,579.6 L332.5,581.1 L336.2,582.5 L340.0,584.0 L343.8,585.4 L347.6,586.9 L351.4,588.3 L355.1,589.7 L358.9,591.1 L362.7,592.5 L366.5,593.9 L370.3,595.2 L374.1,596.6 L377.9,597.9 L381.7,599.3 L385.5,600.6 L389.3,601.9 L393.1,603.1 L396.9,604.4 L400.7,605.6 L404.6,606.9 L408.4,608.1 L412.2,609.3 L416.1,610.4 L419.9,611.6 L423.8,612.7 L427.6,613.8 L431.5,614.9 L435.4,615.9 L439.2,617.0 L443.1,618.0 L447.0,619.0 L450.9,620.0 L454.8,620.9 L458.7,621.9 L462.6,622.8 L466.5,623.7 L470.4,624.6 L474.3,625.5 L478.2,626.4 L482.1,627.3 L486.0,628.1 L490.0,628.9 L493.9,629.7 L497.8,630.5 L501.7,631.3 L505.7,632.1 L509.6,632.8 L513.6,633.6 L517.5,634.3 L521.5,635.0 L525.4,635.8 L529.4,636.5 L533.3,637.2 L537.3,637.8 L541.3,638.5 L545.2,639.2 L549.2,639.8 L553.2,640.5 L557.1,641.1 L561.1,641.7 L565.1,642.4 L569.1,643.0 L573.0,643.6 L577.0,644.2 L581.0,644.8 L585.0,645.4 L589.0,646.0 L592.9,646.5 L596.9,647.1 L600.9,647.7 L604.9,648.3 L608.9,648.8 L612.9,649.4 L616.9,650.0 L620.9,650.5 L624.8,651.1 L628.8,651.6 L632.8,652.2 L636.8,652.7 L640.8,653.3 L644.8,653.8 L648.8,654.4 L652.8,655.0 L656.8,655.5 L660.7,656.1 L664.7,656.7 L668.7,657.3 L672.7,657.9 L676.7,658.5 L680.6,659.1 L684.6,659.7 L688.6,660.3 L692.5,661.0 L696.5,661.7 L700.5,662.4 L704.4,663.1 L708.4,663.8 L712.3,664.5 L716.2,665.3 L720.2,666.1 L724.1,666.9 L728.0,667.7 L732.0,668.5 L735.9,669.4 L739.8,670.3 L743.7,671.3 L747.6,672.2 L751.4,673.2 L755.3,674.2 L759.2,675.3 L763.0,676.4 L766.9,677.5 L770.7,678.7 L774.6,679.9 L778.4,681.1 L782.2,682.4 L786.0,683.7" stroke="#00a2e6"/>
<path d="M75.1,601.2 L79.0,599.9 L83.0,598.6 L87.0,597.6 L90.9,596.6 L94.9,595.7 L98.8,595.0 L102.8,594.3 L106.7,593.8 L110.7,593.3 L114.6,593.0 L118.6,592.7 L122.5,592.6 L126.5,592.5 L130.4,592.5 L134.3,592.6 L138.3,592.8 L142.2,593.1 L146.2,593.4 L150.1,593.8 L154.0,594.3 L158.0,594.9 L161.9,595.5 L165.8,596.1 L169.8,596.9 L173.7,597.7 L177.6,598.5 L181.5,599.4 L185.4,600.3 L189.4,601.3 L193.3,602.3 L197.2,603.4 L201.1,604.5 L205.0,605.6 L208.9,606.8 L212.8,608.0 L216.7,609.2 L220.6,610.4 L224.4,611.7 L228.3,613.0 L232.2,614.3 L236.1,615.6 L239.9,616.9 L243.8,618.2 L247.7,619.5 L251.5,620.8 L255.4,622.1 L259.2,623.5 L263.1,624.8 L266.9,626.2 L270.8,627.5 L274.6,628.8 L278.4,630.2 L282.3,631.5 L286.1,632.9 L289.9,634.2 L293.8,635.6 L297.6,636.9 L301.4,638.2 L305.3,639.6 L309.1,640.9 L312.9,642.3 L316.7,643.6 L320.6,644.9 L324.4,646.2 L328.2,647.5 L332.0,648.9 L335.9,650.2 L339.7,651.5 L343.5,652.7 L347.3,654.0 L351.2,655.3 L355.0,656.6 L358.8,657.8 L362.7,659.1 L366.5,660.3 L370.3,661.5 L374.2,662.8 L378.0,664.0 L381.9,665.2 L385.7,666.3 L389.6,667.5 L393.5,668.7 L397.3,669.8 L401.2,670.9 L405.1,672.0 L408.9,673.1 L412.8,674.2 L416.7,675.3 L420.6,676.3 L424.5,677.3 L428.4,678.4 L432.3,679.4 L436.2,680.3 L440.1,681.3 L444.0,682.3 L447.9,683.2 L451.9,684.1 L455.8,685.1 L459.7,686.0 L463.7,686.9 L467.6,687.7 L471.5,688.6 L475.5,689.5 L479.4,690.3 L483.4,691.1 L487.3,692.0 L491.3,692.8 L495.2,693.6 L499.2,694.4 L503.2,695.2 L507.1,695.9 L511.1,696.7 L515.1,697.5 L519.1,698.2 L523.0,699.0 L527.0,699.7 L531.0,700.4 L535.0,701.2 L538.9,701.9 L542.9,702.6 L546.9,703.3 L550.9,704.0 L554.9,704.7 L558.9,705.4 L562.9,706.1 L566.8,706.8 L570.8,707.5 L574.8,708.2 L578.8,708.9 L582.8,709.5 L586.8,710.2 L590.8,710.9 L594.8,711.6 L598.8,712.2 L602.8,712.9 L606.7,713.6 L610.7,714.3 L614.7,714.9 L618.7,715.6 L622.7,716.3 L626.7,717.0 L630.7,717.6 L634.7,718.3 L638.6,719.0 L642.6,719.7 L646.6,720.4 L650.6,721.1 L654.5,721.8 L658.5,722.6 L662.5,723.3 L666.4,724.1 L670.4,724.8 L674.3,725.7 L678.3,726.5 L682.2,727.3 L686.1,728.2 L690.0,729.1 L693.9,730.1 L697.8,731.1 L701.7,732.1 L705.6,733.1 L709.5,734.2 L713.3,735.4 L717.1,736.5 L721.0,737.8 L724.8,739.0 L728.6,740.4 L732.4,741.8 L736.1,743.2 L739.9,744.7 L743.6,746.3 L747.3,747.9" stroke="#00a2e6"/>
<path d="M164.1,192.4 L161.6,195.6 L159.1,198.8 L156.7,202.0 L154.3,205.2 L151.9,208.5 L149.6,211.8 L147.2,215.1 L145.0,218.4 L142.7,221.7 L140.5,225.1 L138.3,228.5 L136.1,231.9 L133.9,235.3 L131.8,238.8 L129.7,242.2 L127.7,245.7 L125.7,249.2 L123.7,252.7 L121.7,256.3 L119.8,259.8 L117.9,263.4 L116.0,267.0 L114.2,270.6 L112.3,274.2 L110.6,277.8 L108.8,281.5 L107.1,285.1 L105.4,288.8 L103.7,292.5 L102.1,296.2 L100.5,299.9 L98.9,303.7 L97.4,307.4 L95.9,311.2 L94.4,315.0 L93.0,318.8 L91.6,322.6 L90.2,326.4 L88.9,330.2 L87.5,334.0 L86.3,337.9 L85.0,341.7 L83.8,345.6 L82.6,349.5 L81.4,353.4 L80.3,357.3 L79.2,361.2 L78.2,365.1 L77.1,369.0 L76.1,373.0 L75.2,376.9 L74.2,380.8 L73.3,384.8 L72.5,388.8 L71.6,392.7 L70.9,396.7 L70.1,400.7 L69.4,404.7 L68.7,408.7 L68.0,412.7 L67.4,416.7 L66.7,420.7 L66.2,424.7 L65.6,428.7 L65.1,432.8 L64.7,436.8 L64.2,440.8 L63.9,444.9 L63.5,448.9 L63.2,452.9 L62.9,457.0 L62.6,461.0 L62.4,465.1 L62.2,469.1 L62.0,473.2 L61.9,477.2 L61.8,481.3 L61.7,485.3 L61.7,489.4 L61.7,493.4 L61.8,497.4 L61.8,501.5 L62.0,505.5 L62.1,509.6 L62.3,513.6 L62.5,517.7 L62.8,521.7 L63.1,525.7 L63.4,529.8 L63.8,533.8 L64.2,537.8 L64.6,541.8 L65.1,545.8 L65.6,549.8 L66.1,553.8 L66.7,557.8 L67.3,561.8 L67.9,565.8 L68.6,569.8 L69.3,573.8 L70.1,577.8 L70.9,581.7 L71.7,585.7 L72.6,589.6 L73.5,593.5 L74.4,597.5 L75.4,601.4 L76.4,605.3 L77.5,609.2 L78.6,613.1 L79.7,617.0 L80.8,620.9 L82.0,624.7 L83.3,628.6 L84.5,632.4 L85.9,636.3 L87.2,640.1 L88.6,643.9 L90.0,647.7 L91.5,651.5 L93.0,655.2 L94.5,659.0 L96.1,662.7 L97.7,666.5 L99.3,670.2 L101.0,673.9 L102.7,677.6 L104.5,681.2 L106.3,684.9" stroke="#ec0078"/>
<path d="M813.1,327.1 L814.2,330.9 L815.4,334.7 L816.4,338.6 L817.5,342.4 L818.5,346.3 L819.5,350.1 L820.4,354.0 L821.3,357.9 L822.2,361.8 L823.1,365.7 L823.9,369.7 L824.7,373.6 L825.5,377.5 L826.2,381.5 L826.9,385.4 L827.6,389.4 L828.2,393.4 L828.8,397.4 L829.4,401.3 L829.9,405.3 L830.5,409.3 L830.9,413.4 L831.4,417.4 L831.8,421.4 L832.2,425.4 L832.6,429.4 L832.9,433.5 L833.2,437.5 L833.4,441.5 L833.7,445.6 L833.9,449.6 L834.0,453.7 L834.2,457.7 L834.3,461.8 L834.4,465.8 L834.4,469.9 L834.4,474.0 L834.4,478.0 L834.3,482.1 L834.2,486.1 L834.1,490.2 L834.0,494.2 L833.8,498.3 L833.6,502.3 L833.3,506.4 L833.0,510.4 L832.7,514.5 L832.4,518.5 L832.0,522.6 L831.6,526.6 L831.1,530.6 L830.7,534.7 L830.1,538.7 L829.6,542.7 L829.0,546.7 L828.4,550.7 L827.8,554.7 L827.1,558.7 L826.4,562.7 L825.7,566.7 L824.9,570.7 L824.1,574.6 L823.2,578.6 L822.4,582.5 L821.5,586.5 L820.5,590.4 L819.6,594.3 L818.6,598.2 L817.5,602.1 L816.5,606.0 L815.4,609.9 L814.2,613.8 L813.1,617.6 L811.8,621.5 L810.6,625.3 L809.3,629.1 L808.0,632.9 L806.7,636.7 L805.3,640.5 L803.9,644.3 L802.5,648.0 L801.0,651.7 L799.5,655.5 L798.0,659.2 L796.4,662.9 L794.8,666.5 L793.2,670.2 L791.5,673.8 L789.8,677.5 L788.0,681.1 L786.3,684.6 L784.5,688.2 L782.6,691.8 L780.7,695.3 L778.8,698.8 L776.9,702.3 L774.9,705.8 L772.9,709.2 L770.8,712.7 L768.7,716.1 L766.6,719.5 L764.5,722.8 L762.3,726.2 L760.1,729.5 L757.8,732.8 L755.5,736.1 L753.2,739.3 L750.8,742.6 L748.4,745.8 L746.0,748.9 L743.5,752.1 L741.0,755.2 L738.5,758.3 L735.9,761.4 L733.3,764.5 L730.7,767.5 L728.0,770.5 L725.3,773.5 L722.6,776.4 L719.8,779.3 L717.0,782.2 L714.1,785.1 L711.2,787.9 L708.3,790.7 L705.4,793.5 L702.4,796.3 L699.4,799.0 L696.3,801.7 L693.2,804.3 L690.1,806.9 L686.9,809.5" stroke="#ec0078"/>
<path d="M71.6,388.5 L75.6,387.4 L79.7,386.4 L83.7,385.5 L87.7,384.7 L91.8,383.9 L95.8,383.3 L99.8,382.7 L103.8,382.3 L107.8,381.9 L111.8,381.5 L115.8,381.3 L119.8,381.1 L123.7,381.0 L127.7,381.0 L131.7,381.0 L135.6,381.1 L139.6,381.3 L143.5,381.6 L147.5,381.9 L151.4,382.2 L155.3,382.7 L159.3,383.1 L163.2,383.7 L167.1,384.3 L171.0,384.9 L174.9,385.6 L178.8,386.4 L182.7,387.2 L186.6,388.1 L190.4,389.0 L194.3,389.9 L198.2,390.9 L202.0,391.9 L205.9,393.0 L209.7,394.1 L213.6,395.2 L217.4,396.4 L221.2,397.6 L225.1,398.8 L228.9,400.1 L232.7,401.4 L236.5,402.7 L240.3,404.0 L244.1,405.4 L247.9,406.8 L251.7,408.2 L255.5,409.7 L259.2,411.1 L263.0,412.6 L266.8,414.1 L270.5,415.6 L274.3,417.1 L278.1,418.6 L281.8,420.2 L285.6,421.7 L289.3,423.3 L293.0,424.9 L296.8,426.5 L300.5,428.1 L304.3,429.7 L308.0,431.3 L311.7,433.0 L315.5,434.6 L319.2,436.2 L322.9,437.9 L326.7,439.5 L330.4,441.2 L334.1,442.8 L337.9,444.5 L341.6,446.1 L345.3,447.7 L349.1,449.4 L352.8,451.0 L356.5,452.6 L360.3,454.3 L364.0,455.9 L367.7,457.5 L371.5,459.1 L375.2,460.7 L379.0,462.3 L382.7,463.8 L386.5,465.4 L390.2,466.9 L394.0,468.4 L397.7,470.0 L401.5,471.5 L405.3,472.9 L409.1,474.4 L412.8,475.8 L416.6,477.3 L420.4,478.7 L424.2,480.0 L428.0,481.4 L431.8,482.7 L435.6,484.0 L439.4,485.3 L443.3,486.6 L447.1,487.8 L450.9,489.1 L454.8,490.3 L458.6,491.4 L462.5,492.6 L466.3,493.7 L470.2,494.8 L474.0,495.9 L477.9,497.0 L481.8,498.1 L485.7,499.1 L489.5,500.1 L493.4,501.1 L497.3,502.1 L501.2,503.0 L505.1,504.0 L509.0,504.9 L512.9,505.8 L516.9,506.7 L520.8,507.5 L524.7,508.4 L528.6,509.2 L532.6,510.0 L536.5,510.8 L540.4,511.6 L544.4,512.3 L548.3,513.0 L552.3,513.8 L556.2,514.5 L560.2,515.1 L564.2,515.8 L568.1,516.5 L572.1,517.1 L576.1,517.7 L580.1,518.3 L584.0,518.9 L588.0,519.5 L592.0,520.0 L596.0,520.6 L600.0,521.1 L604.0,521.6 L608.0,522.1 L612.0,522.6 L616.0,523.1 L620.0,523.5 L624.1,524.0 L628.1,524.4 L632.1,524.8 L636.1,525.2 L640.2,525.6 L644.2,526.0 L648.2,526.4 L652.2,526.8 L656.3,527.2 L660.3,527.5 L664.3,527.9 L668.4,528.2 L672.4,528.6 L676.5,529.0 L680.5,529.3 L684.5,529.7 L688.6,530.1 L692.6,530.4 L696.6,530.8 L700.6,531.2 L704.7,531.6 L708.7,532.0 L712.7,532.4 L716.7,532.8 L720.8,533.3 L724.8,533.7 L728.8,534.2 L732.8,534.7 L736.8,535.2 L740.8,535.7 L744.8,536.3 L748.8,536.9 L752.8,537.4 L756.7,538.1 L760.7,538.7 L764.7,539.4 L768.7,540.1 L772.6,540.8 L776.6,541.5 L780.5,542.3 L784.4,543.1 L788.4,544.0 L792.3,544.8 L796.2,545.8 L800.1,546.7 L804.0,547.7 L807.9,548.7 L811.8,549.8 L815.6,550.9 L819.5,552.0 L823.4,553.2 L827.2,554.5" stroke="#0000cd"/>
<path d="M71.6,390.5 L75.7,389.6 L79.8,388.7 L83.8,388.0 L87.9,387.4 L91.9,386.8 L96.0,386.3 L100.0,385.9 L104.0,385.6 L108.1,385.3 L112.1,385.1 L116.1,385.0 L120.1,385.0 L124.0,385.0 L128.0,385.1 L132.0,385.2 L135.9,385.5 L139.9,385.8 L143.8,386.1 L147.8,386.5 L151.7,387.0 L155.6,387.5 L159.6,388.1 L163.5,388.8 L167.4,389.5 L171.3,390.2 L175.1,391.0 L179.0,391.8 L182.9,392.7 L186.8,393.6 L190.6,394.6 L194.5,395.6 L198.3,396.7 L202.2,397.8 L206.0,398.9 L209.8,400.1 L213.6,401.3 L217.5,402.5 L221.3,403.8 L225.1,405.1 L228.9,406.4 L232.7,407.7 L236.4,409.1 L240.2,410.5 L244.0,411.9 L247.8,413.4 L251.5,414.8 L255.3,416.3 L259.1,417.8 L262.8,419.3 L266.6,420.8 L270.3,422.4 L274.0,423.9 L277.8,425.5 L281.5,427.1 L285.2,428.7 L289.0,430.3 L292.7,431.9 L296.4,433.5 L300.1,435.1 L303.9,436.8 L307.6,438.4 L311.3,440.1 L315.0,441.7 L318.7,443.4 L322.5,445.0 L326.2,446.7 L329.9,448.3 L333.6,450.0 L337.3,451.6 L341.0,453.3 L344.8,455.0 L348.5,456.6 L352.2,458.2 L355.9,459.9 L359.6,461.5 L363.4,463.1 L367.1,464.7 L370.8,466.3 L374.6,467.9 L378.3,469.5 L382.1,471.1 L385.8,472.6 L389.5,474.1 L393.3,475.7 L397.1,477.2 L400.8,478.7 L404.6,480.1 L408.4,481.6 L412.1,483.0 L415.9,484.4 L419.7,485.8 L423.5,487.2 L427.3,488.5 L431.1,489.8 L434.9,491.1 L438.7,492.4 L442.6,493.6 L446.4,494.9 L450.2,496.1 L454.1,497.2 L457.9,498.4 L461.8,499.5 L465.6,500.6 L469.5,501.7 L473.4,502.8 L477.2,503.9 L481.1,504.9 L485.0,505.9 L488.9,506.9 L492.8,507.9 L496.7,508.8 L500.6,509.7 L504.5,510.7 L508.4,511.6 L512.3,512.4 L516.3,513.3 L520.2,514.1 L524.1,514.9 L528.1,515.7 L532.0,516.5 L535.9,517.3 L539.9,518.0 L543.8,518.8 L547.8,519.5 L551.7,520.2 L555.7,520.9 L559.7,521.5 L563.6,522.2 L567.6,522.8 L571.6,523.4 L575.6,524.0 L579.6,524.6 L583.6,525.2 L587.5,525.7 L591.5,526.3 L595.5,526.8 L599.5,527.3 L603.5,527.8 L607.5,528.3 L611.5,528.8 L615.6,529.3 L619.6,529.7 L623.6,530.1 L627.6,530.6 L631.6,531.0 L635.6,531.4 L639.7,531.8 L643.7,532.1 L647.7,532.5 L651.7,532.9 L655.8,533.3 L659.8,533.6 L663.8,534.0 L667.9,534.3 L671.9,534.7 L675.9,535.0 L679.9,535.4 L684.0,535.7 L688.0,536.1 L692.0,536.5 L696.1,536.8 L700.1,537.2 L704.1,537.6 L708.1,538.0 L712.2,538.4 L716.2,538.8 L720.2,539.2 L724.2,539.6 L728.2,540.1 L732.2,540.5 L736.2,541.0 L740.3,541.5 L744.3,542.0 L748.3,542.5 L752.2,543.0 L756.2,543.6 L760.2,544.2 L764.2,544.8 L768.2,545.4 L772.2,546.0 L776.1,546.7 L780.1,547.4 L784.0,548.1 L788.0,548.9 L792.0,549.7 L795.9,550.5 L799.8,551.3 L803.8,552.2 L807.7,553.1 L811.6,554.1 L815.5,555.0 L819.4,556.0 L823.3,557.1 L827.2,558.2" stroke="#0000cd"/>
</g>
<g fill="none" stroke="#22dd22" stroke-width="1.6">
<path d="M204.0,308.0 L204.5,318.4 L205.7,329.9 L207.0,349.0"/>
<path d="M65.2,387.4 L72.3,375.1 L77.6,371.6 L81.1,359.3 L82.9,348.7 L89.9,343.4"/>
<path d="M90.3,285.0 L89.4,286.5 L88.6,287.9 L87.9,289.4 L87.1,290.8 L86.3,292.3 L85.5,293.7 L84.8,295.2 L84.0,296.6 L83.3,298.1 L82.5,299.6 L81.8,301.0 L81.1,302.5 L80.4,303.9 L79.6,305.4 L78.9,306.8 L78.2,308.3 L77.5,309.7 L76.9,311.2 L76.2,312.7 L75.5,314.1 L74.9,315.6 L74.2,317.0 L73.6,318.5 L72.9,319.9 L72.3,321.4 L71.6,322.8 L71.0,324.3 L70.4,325.8 L69.8,327.2 L69.2,328.7 L68.6,330.1 L68.0,331.6 L67.4,333.0 L66.8,334.5 L66.3,335.9 L65.7,337.4 L65.1,338.9 L64.6,340.3 L64.1,341.8 L63.5,343.2 L63.0,344.7 L62.4,346.1 L61.9,347.6 L61.4,349.1 L60.9,350.5 L60.4,352.0 L59.9,353.4 L59.4,354.9 L58.9,356.3 L58.4,357.8 L58.0,359.2 L57.5,360.7 L57.0,362.2 L56.6,363.6 L56.1,365.1 L55.7,366.5 L55.3,368.0 L54.8,369.4 L54.4,370.9 L54.0,372.3 L53.6,373.8 L53.2,375.3 L52.8,376.7 L52.4,378.2 L52.0,379.6 L51.6,381.1 L51.2,382.5 L50.8,384.0 L50.4,385.4 L50.1,386.9 L49.7,388.4 L49.4,389.8 L49.0,391.3 L48.7,392.7 L48.3,394.2 L48.0,395.6 L47.7,397.1 L47.4,398.5 L47.1,400.0"/>
<path d="M86.1,285.0 L85.3,286.5 L84.6,287.9 L83.8,289.4 L83.0,290.8 L82.2,292.3 L81.5,293.7 L80.7,295.2 L80.0,296.6 L79.2,298.1 L78.5,299.6 L77.8,301.0 L77.1,302.5 L76.3,303.9 L75.6,305.4 L74.9,306.8 L74.3,308.3 L73.6,309.7 L72.9,311.2 L72.2,312.7 L71.6,314.1 L70.9,315.6 L70.3,317.0 L69.6,318.5 L69.0,319.9 L68.4,321.4 L67.7,322.8 L67.1,324.3 L66.5,325.8 L65.9,327.2 L65.3,328.7 L64.7,330.1 L64.1,331.6 L63.5,333.0 L63.0,334.5 L62.4,335.9 L61.9,337.4 L61.3,338.9 L60.8,340.3 L60.2,341.8 L59.7,343.2 L59.1,344.7 L58.6,346.1 L58.1,347.6 L57.6,349.1 L57.1,350.5 L56.6,352.0 L56.1,353.4 L55.6,354.9 L55.1,356.3 L54.7,357.8 L54.2,359.2 L53.7,360.7 L53.3,362.2 L52.8,363.6 L52.4,365.1 L51.9,366.5 L51.5,368.0 L51.1,369.4 L50.7,370.9 L50.2,372.3 L49.8,373.8 L49.4,375.3 L49.0,376.7 L48.6,378.2 L48.2,379.6 L47.9,381.1 L47.5,382.5 L47.1,384.0 L46.7,385.4 L46.4,386.9 L46.0,388.4 L45.7,389.8 L45.3,391.3 L45.0,392.7 L44.7,394.2 L44.3,395.6 L44.0,397.1 L43.7,398.5 L43.4,400.0"/>
<path d="M195.1,157.0 L206.0,149.3"/>
<path d="M214.9,142.7 L234.7,130.6"/>
<path d="M687.0,811.6 L702.9,804.0 L712.0,799.1 L723.0,794.7 L734.0,788.1 L745.1,779.3 L756.1,772.7 L767.1,765.0 L778.1,755.1 L790.0,740.7 L796.0,733.0"/>
<path d="M687.0,811.6 L701.1,804.6 L720.5,794.0 L734.6,787.0 L748.7,778.1 L759.3,767.6"/>
</g>
<g stroke="#008000" stroke-width="3" stroke-linecap="butt"><path d="M447,390 L460,403 M460,390 L447,403"/></g>
<circle cx="434.9" cy="486.9" r="12.5" fill="#fff"/>
<path d="M434.9,486.9 L447.7,486.9 M434.9,486.9 L444.4,496.4 M434.9,486.9 L434.9,499.7 M434.9,486.9 L425.4,496.4 M434.9,486.9 L422.1,486.9 M434.9,486.9 L425.4,477.4 M434.9,486.9 L434.9,474.1 M434.9,486.9 L444.4,477.4" stroke="#008000" stroke-width="2"/>
<circle cx="434.9" cy="486.9" r="5.7" fill="#008000" shape-rendering="geometricPrecision"/>
<circle cx="452.99" cy="486.86" r="419.72" fill="none" stroke="#000" stroke-width="1.2"/>
<g font-family="Liberation Sans, Arial, Helvetica, sans-serif" fill="#000"><text y="28.9" font-size="26"><tspan x="265.5" textLength="66" lengthAdjust="spacingAndGlyphs">www.</tspan><tspan x="330.9" textLength="129.8" lengthAdjust="spacingAndGlyphs">EclipseWise</tspan><tspan x="461.1" textLength="59" lengthAdjust="spacingAndGlyphs">.com/</tspan><tspan x="520.2" textLength="121.9" lengthAdjust="spacingAndGlyphs">eclipse.html</tspan></text><text x="30" y="92.1" font-size="43" font-weight="bold" font-style="normal" text-anchor="start" textLength="98" lengthAdjust="spacingAndGlyphs">Total</text><text y="131.3" font-size="33.7" font-weight="normal" font-style="normal"><tspan x="27.5" textLength="91.1" lengthAdjust="spacingAndGlyphs">Saros</tspan> <tspan x="124.6" textLength="59.8" lengthAdjust="spacingAndGlyphs">106</tspan></text><text y="165" font-size="26.7" font-weight="normal" font-style="normal"><tspan x="28.5" textLength="26.6" lengthAdjust="spacingAndGlyphs">D.</tspan> <tspan x="55.9" textLength="64.6" lengthAdjust="spacingAndGlyphs">Node</tspan></text><text y="92.2" font-size="41.6" font-weight="bold" font-style="normal"><tspan x="640.9" textLength="92.4" lengthAdjust="spacingAndGlyphs">0978</tspan> <tspan x="745.1" textLength="75.2" lengthAdjust="spacingAndGlyphs">Dec</tspan> <tspan x="830.9" textLength="46.5" lengthAdjust="spacingAndGlyphs">03</tspan></text><text y="131.7" font-size="34.4" font-weight="normal" font-style="normal"><tspan x="729.0" textLength="85.2" lengthAdjust="spacingAndGlyphs">00:32</tspan> <tspan x="821.4" textLength="44.9" lengthAdjust="spacingAndGlyphs">TD</tspan></text><text y="873.6" font-size="31.5" font-weight="normal" font-style="normal"><tspan x="28.5" textLength="58.0" lengthAdjust="spacingAndGlyphs">ΔT=</tspan> <tspan x="110.9" textLength="85.0" lengthAdjust="spacingAndGlyphs">1680s</tspan></text><text y="908.2" font-size="30.5" font-weight="normal" font-style="normal"><tspan x="28.0" textLength="76.6" lengthAdjust="spacingAndGlyphs">Gam.</tspan> <tspan x="112.4" textLength="21.1" lengthAdjust="spacingAndGlyphs">=</tspan> <tspan x="140.5" textLength="105.6" lengthAdjust="spacingAndGlyphs">-0.2192</tspan></text><text y="873.3" font-size="30.5" font-weight="normal" font-style="normal"><tspan x="683.3" textLength="104.9" lengthAdjust="spacingAndGlyphs">Altitude</tspan> <tspan x="794.6" textLength="20.0" lengthAdjust="spacingAndGlyphs">=</tspan> <tspan x="822.2" textLength="47.9" lengthAdjust="spacingAndGlyphs">77°</tspan></text><text y="907.8" font-size="31" font-weight="normal" font-style="normal"><tspan x="606.2" textLength="117.4" lengthAdjust="spacingAndGlyphs">Duration</tspan> <tspan x="731.2" textLength="20.0" lengthAdjust="spacingAndGlyphs">=</tspan> <tspan x="758.9" textLength="109.0" lengthAdjust="spacingAndGlyphs">02m41s</tspan></text><text y="961.9" font-size="24" font-weight="bold" font-style="italic"><tspan x="233.5" textLength="200.2" lengthAdjust="spacingAndGlyphs">EclipseWise.com</tspan> <tspan x="439.8" textLength="76.5" lengthAdjust="spacingAndGlyphs">Canon</tspan> <tspan x="524.6" textLength="20.8" lengthAdjust="spacingAndGlyphs">of</tspan> <tspan x="553.4" textLength="61.6" lengthAdjust="spacingAndGlyphs">Solar</tspan> <tspan x="621.2" textLength="100.9" lengthAdjust="spacingAndGlyphs">Eclipses</tspan></text><text y="987.4" font-size="21" font-weight="normal" font-style="normal"><tspan x="323.8" textLength="63.3" lengthAdjust="spacingAndGlyphs">©2014</tspan> <tspan x="391.4" textLength="24.0" lengthAdjust="spacingAndGlyphs">by</tspan> <tspan x="421.5" textLength="43.3" lengthAdjust="spacingAndGlyphs">Fred</tspan> <tspan x="469.1" textLength="82.7" lengthAdjust="spacingAndGlyphs">Espenak</tspan></text></g></svg></body></html>
